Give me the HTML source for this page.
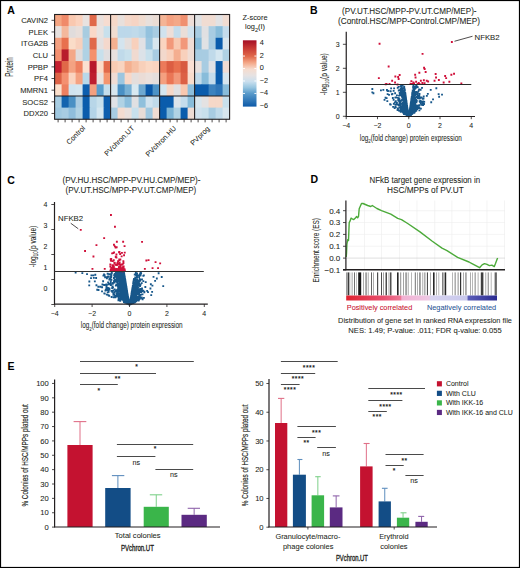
<!DOCTYPE html>
<html><head><meta charset="utf-8"><style>
html,body{margin:0;padding:0;background:#fff;}
svg{display:block;font-family:"Liberation Sans", sans-serif;}
</style></head><body>
<svg width="520" height="568" viewBox="0 0 520 568">
<rect x="0" y="0" width="520" height="568" fill="#fff"/>
<rect x="54.60" y="14.50" width="7.60" height="12.24" fill="#F4A582"/>
<rect x="61.60" y="14.50" width="7.60" height="12.24" fill="#F08A6A"/>
<rect x="68.60" y="14.50" width="7.60" height="12.24" fill="#F9C8B0"/>
<rect x="75.60" y="14.50" width="7.60" height="12.24" fill="#FAD2BE"/>
<rect x="82.60" y="14.50" width="7.60" height="12.24" fill="#E8E2E0"/>
<rect x="89.60" y="14.50" width="7.60" height="12.24" fill="#E0694A"/>
<rect x="96.60" y="14.50" width="7.60" height="12.24" fill="#EAE0DC"/>
<rect x="103.60" y="14.50" width="7.60" height="12.24" fill="#F6DCD0"/>
<rect x="110.60" y="14.50" width="7.60" height="12.24" fill="#F6D8C8"/>
<rect x="117.60" y="14.50" width="7.60" height="12.24" fill="#E8E0DC"/>
<rect x="124.60" y="14.50" width="7.60" height="12.24" fill="#F4D8CA"/>
<rect x="131.60" y="14.50" width="7.60" height="12.24" fill="#F6D4C4"/>
<rect x="138.60" y="14.50" width="7.60" height="12.24" fill="#F0DCD0"/>
<rect x="145.60" y="14.50" width="7.60" height="12.24" fill="#E8E0DC"/>
<rect x="152.60" y="14.50" width="7.60" height="12.24" fill="#EADCD4"/>
<rect x="159.60" y="14.50" width="7.60" height="12.24" fill="#F4B496"/>
<rect x="166.60" y="14.50" width="7.60" height="12.24" fill="#F4A080"/>
<rect x="173.60" y="14.50" width="7.60" height="12.24" fill="#F4A888"/>
<rect x="180.60" y="14.50" width="7.60" height="12.24" fill="#F09070"/>
<rect x="187.60" y="14.50" width="7.60" height="12.24" fill="#EEDED8"/>
<rect x="194.60" y="14.50" width="7.60" height="12.24" fill="#E0E2E4"/>
<rect x="201.60" y="14.50" width="7.60" height="12.24" fill="#F0DCD2"/>
<rect x="208.60" y="14.50" width="7.60" height="12.24" fill="#F0DCD2"/>
<rect x="215.60" y="14.50" width="7.60" height="12.24" fill="#E2E2E4"/>
<rect x="222.60" y="14.50" width="7.00" height="12.24" fill="#F0DCD2"/>
<rect x="54.60" y="26.14" width="7.60" height="12.24" fill="#E6E0DE"/>
<rect x="61.60" y="26.14" width="7.60" height="12.24" fill="#F4B89C"/>
<rect x="68.60" y="26.14" width="7.60" height="12.24" fill="#E0DCDC"/>
<rect x="75.60" y="26.14" width="7.60" height="12.24" fill="#E8DEDA"/>
<rect x="82.60" y="26.14" width="7.60" height="12.24" fill="#A8CCE0"/>
<rect x="89.60" y="26.14" width="7.60" height="12.24" fill="#FAD8C8"/>
<rect x="96.60" y="26.14" width="7.60" height="12.24" fill="#E8E2E0"/>
<rect x="103.60" y="26.14" width="7.60" height="12.24" fill="#C8E0EC"/>
<rect x="110.60" y="26.14" width="7.60" height="12.24" fill="#F0DCD0"/>
<rect x="117.60" y="26.14" width="7.60" height="12.24" fill="#BCD8EA"/>
<rect x="124.60" y="26.14" width="7.60" height="12.24" fill="#BCD8EA"/>
<rect x="131.60" y="26.14" width="7.60" height="12.24" fill="#C0DAEA"/>
<rect x="138.60" y="26.14" width="7.60" height="12.24" fill="#B8D6E8"/>
<rect x="145.60" y="26.14" width="7.60" height="12.24" fill="#94C2DE"/>
<rect x="152.60" y="26.14" width="7.60" height="12.24" fill="#A8CCE2"/>
<rect x="159.60" y="26.14" width="7.60" height="12.24" fill="#D0E2EE"/>
<rect x="166.60" y="26.14" width="7.60" height="12.24" fill="#EEDED8"/>
<rect x="173.60" y="26.14" width="7.60" height="12.24" fill="#C4DCEC"/>
<rect x="180.60" y="26.14" width="7.60" height="12.24" fill="#EADED8"/>
<rect x="187.60" y="26.14" width="7.60" height="12.24" fill="#D0E2EE"/>
<rect x="194.60" y="26.14" width="7.60" height="12.24" fill="#A8CCE2"/>
<rect x="201.60" y="26.14" width="7.60" height="12.24" fill="#E0E0E2"/>
<rect x="208.60" y="26.14" width="7.60" height="12.24" fill="#A8CCE2"/>
<rect x="215.60" y="26.14" width="7.60" height="12.24" fill="#88BCDA"/>
<rect x="222.60" y="26.14" width="7.00" height="12.24" fill="#C4DCEC"/>
<rect x="54.60" y="37.78" width="7.60" height="12.24" fill="#F4A080"/>
<rect x="61.60" y="37.78" width="7.60" height="12.24" fill="#E8704E"/>
<rect x="68.60" y="37.78" width="7.60" height="12.24" fill="#FADCC8"/>
<rect x="75.60" y="37.78" width="7.60" height="12.24" fill="#F8D0BC"/>
<rect x="82.60" y="37.78" width="7.60" height="12.24" fill="#B0D2E4"/>
<rect x="89.60" y="37.78" width="7.60" height="12.24" fill="#E0684A"/>
<rect x="96.60" y="37.78" width="7.60" height="12.24" fill="#E4E0E0"/>
<rect x="103.60" y="37.78" width="7.60" height="12.24" fill="#F4D8CC"/>
<rect x="110.60" y="37.78" width="7.60" height="12.24" fill="#F4B090"/>
<rect x="117.60" y="37.78" width="7.60" height="12.24" fill="#D4E4EE"/>
<rect x="124.60" y="37.78" width="7.60" height="12.24" fill="#E4DEDC"/>
<rect x="131.60" y="37.78" width="7.60" height="12.24" fill="#F8D0BC"/>
<rect x="138.60" y="37.78" width="7.60" height="12.24" fill="#E0E0E4"/>
<rect x="145.60" y="37.78" width="7.60" height="12.24" fill="#9CC6E0"/>
<rect x="152.60" y="37.78" width="7.60" height="12.24" fill="#D8E6EE"/>
<rect x="159.60" y="37.78" width="7.60" height="12.24" fill="#FAD4C0"/>
<rect x="166.60" y="37.78" width="7.60" height="12.24" fill="#F2987A"/>
<rect x="173.60" y="37.78" width="7.60" height="12.24" fill="#F8C8B0"/>
<rect x="180.60" y="37.78" width="7.60" height="12.24" fill="#F2987A"/>
<rect x="187.60" y="37.78" width="7.60" height="12.24" fill="#F0DCD4"/>
<rect x="194.60" y="37.78" width="7.60" height="12.24" fill="#88BCDA"/>
<rect x="201.60" y="37.78" width="7.60" height="12.24" fill="#E0E2E4"/>
<rect x="208.60" y="37.78" width="7.60" height="12.24" fill="#A8CCE2"/>
<rect x="215.60" y="37.78" width="7.60" height="12.24" fill="#0A5CAC"/>
<rect x="222.60" y="37.78" width="7.00" height="12.24" fill="#D8E6EE"/>
<rect x="54.60" y="49.42" width="7.60" height="12.24" fill="#F49070"/>
<rect x="61.60" y="49.42" width="7.60" height="12.24" fill="#B81C2C"/>
<rect x="68.60" y="49.42" width="7.60" height="12.24" fill="#F4A888"/>
<rect x="75.60" y="49.42" width="7.60" height="12.24" fill="#E0DCDC"/>
<rect x="82.60" y="49.42" width="7.60" height="12.24" fill="#B0D2E4"/>
<rect x="89.60" y="49.42" width="7.60" height="12.24" fill="#F4906C"/>
<rect x="96.60" y="49.42" width="7.60" height="12.24" fill="#C8E0EC"/>
<rect x="103.60" y="49.42" width="7.60" height="12.24" fill="#E0DEE0"/>
<rect x="110.60" y="49.42" width="7.60" height="12.24" fill="#E8E0DE"/>
<rect x="117.60" y="49.42" width="7.60" height="12.24" fill="#C0DAEA"/>
<rect x="124.60" y="49.42" width="7.60" height="12.24" fill="#C8E0EC"/>
<rect x="131.60" y="49.42" width="7.60" height="12.24" fill="#F0DAD0"/>
<rect x="138.60" y="49.42" width="7.60" height="12.24" fill="#DCE2E8"/>
<rect x="145.60" y="49.42" width="7.60" height="12.24" fill="#C8E0EC"/>
<rect x="152.60" y="49.42" width="7.60" height="12.24" fill="#A8CCE2"/>
<rect x="159.60" y="49.42" width="7.60" height="12.24" fill="#F2D8CC"/>
<rect x="166.60" y="49.42" width="7.60" height="12.24" fill="#F8D0BC"/>
<rect x="173.60" y="49.42" width="7.60" height="12.24" fill="#F4AE90"/>
<rect x="180.60" y="49.42" width="7.60" height="12.24" fill="#F8D0BC"/>
<rect x="187.60" y="49.42" width="7.60" height="12.24" fill="#F0DCD4"/>
<rect x="194.60" y="49.42" width="7.60" height="12.24" fill="#A8CCE2"/>
<rect x="201.60" y="49.42" width="7.60" height="12.24" fill="#A8CCE2"/>
<rect x="208.60" y="49.42" width="7.60" height="12.24" fill="#C0DAEA"/>
<rect x="215.60" y="49.42" width="7.60" height="12.24" fill="#D4E6F0"/>
<rect x="222.60" y="49.42" width="7.00" height="12.24" fill="#B0D2E4"/>
<rect x="54.60" y="61.06" width="7.60" height="12.24" fill="#C42030"/>
<rect x="61.60" y="61.06" width="7.60" height="12.24" fill="#E06848"/>
<rect x="68.60" y="61.06" width="7.60" height="12.24" fill="#F4A282"/>
<rect x="75.60" y="61.06" width="7.60" height="12.24" fill="#EE8060"/>
<rect x="82.60" y="61.06" width="7.60" height="12.24" fill="#FBE0D0"/>
<rect x="89.60" y="61.06" width="7.60" height="12.24" fill="#B8182A"/>
<rect x="96.60" y="61.06" width="7.60" height="12.24" fill="#FCDCC8"/>
<rect x="103.60" y="61.06" width="7.60" height="12.24" fill="#E26A4A"/>
<rect x="110.60" y="61.06" width="7.60" height="12.24" fill="#F8CCB4"/>
<rect x="117.60" y="61.06" width="7.60" height="12.24" fill="#F8D4C0"/>
<rect x="124.60" y="61.06" width="7.60" height="12.24" fill="#F4B090"/>
<rect x="131.60" y="61.06" width="7.60" height="12.24" fill="#F6C0A4"/>
<rect x="138.60" y="61.06" width="7.60" height="12.24" fill="#F8D0BA"/>
<rect x="145.60" y="61.06" width="7.60" height="12.24" fill="#FAD8C4"/>
<rect x="152.60" y="61.06" width="7.60" height="12.24" fill="#FAD4C0"/>
<rect x="159.60" y="61.06" width="7.60" height="12.24" fill="#EC7A5A"/>
<rect x="166.60" y="61.06" width="7.60" height="12.24" fill="#DC5E42"/>
<rect x="173.60" y="61.06" width="7.60" height="12.24" fill="#E8704E"/>
<rect x="180.60" y="61.06" width="7.60" height="12.24" fill="#D85A40"/>
<rect x="187.60" y="61.06" width="7.60" height="12.24" fill="#FAE0D4"/>
<rect x="194.60" y="61.06" width="7.60" height="12.24" fill="#E8E0DE"/>
<rect x="201.60" y="61.06" width="7.60" height="12.24" fill="#A8CCE2"/>
<rect x="208.60" y="61.06" width="7.60" height="12.24" fill="#E0E2E6"/>
<rect x="215.60" y="61.06" width="7.60" height="12.24" fill="#0A5CAC"/>
<rect x="222.60" y="61.06" width="7.00" height="12.24" fill="#F0DCD4"/>
<rect x="54.60" y="72.70" width="7.60" height="12.24" fill="#DE6448"/>
<rect x="61.60" y="72.70" width="7.60" height="12.24" fill="#F49070"/>
<rect x="68.60" y="72.70" width="7.60" height="12.24" fill="#FAD4C0"/>
<rect x="75.60" y="72.70" width="7.60" height="12.24" fill="#F4A282"/>
<rect x="82.60" y="72.70" width="7.60" height="12.24" fill="#B8D8EA"/>
<rect x="89.60" y="72.70" width="7.60" height="12.24" fill="#BE1E2E"/>
<rect x="96.60" y="72.70" width="7.60" height="12.24" fill="#EAE2DE"/>
<rect x="103.60" y="72.70" width="7.60" height="12.24" fill="#F4956E"/>
<rect x="110.60" y="72.70" width="7.60" height="12.24" fill="#F0DCD4"/>
<rect x="117.60" y="72.70" width="7.60" height="12.24" fill="#9CC6E0"/>
<rect x="124.60" y="72.70" width="7.60" height="12.24" fill="#F8D8C8"/>
<rect x="131.60" y="72.70" width="7.60" height="12.24" fill="#E4DEDC"/>
<rect x="138.60" y="72.70" width="7.60" height="12.24" fill="#EADCD6"/>
<rect x="145.60" y="72.70" width="7.60" height="12.24" fill="#EAE0DC"/>
<rect x="152.60" y="72.70" width="7.60" height="12.24" fill="#E4DEDC"/>
<rect x="159.60" y="72.70" width="7.60" height="12.24" fill="#F4A080"/>
<rect x="166.60" y="72.70" width="7.60" height="12.24" fill="#EA7656"/>
<rect x="173.60" y="72.70" width="7.60" height="12.24" fill="#F2987A"/>
<rect x="180.60" y="72.70" width="7.60" height="12.24" fill="#DC6044"/>
<rect x="187.60" y="72.70" width="7.60" height="12.24" fill="#F8DCCC"/>
<rect x="194.60" y="72.70" width="7.60" height="12.24" fill="#C0DAEA"/>
<rect x="201.60" y="72.70" width="7.60" height="12.24" fill="#88BCDA"/>
<rect x="208.60" y="72.70" width="7.60" height="12.24" fill="#C4DCEC"/>
<rect x="215.60" y="72.70" width="7.60" height="12.24" fill="#0A5CAC"/>
<rect x="222.60" y="72.70" width="7.00" height="12.24" fill="#D8E6EE"/>
<rect x="54.60" y="84.34" width="7.60" height="12.24" fill="#FCE0CC"/>
<rect x="61.60" y="84.34" width="7.60" height="12.24" fill="#EE8060"/>
<rect x="68.60" y="84.34" width="7.60" height="12.24" fill="#D0E4F0"/>
<rect x="75.60" y="84.34" width="7.60" height="12.24" fill="#D4E6F0"/>
<rect x="82.60" y="84.34" width="7.60" height="12.24" fill="#0D5EAE"/>
<rect x="89.60" y="84.34" width="7.60" height="12.24" fill="#F4A080"/>
<rect x="96.60" y="84.34" width="7.60" height="12.24" fill="#5A9ECC"/>
<rect x="103.60" y="84.34" width="7.60" height="12.24" fill="#C4DEEC"/>
<rect x="110.60" y="84.34" width="7.60" height="12.24" fill="#D8E6EE"/>
<rect x="117.60" y="84.34" width="7.60" height="12.24" fill="#4A90C4"/>
<rect x="124.60" y="84.34" width="7.60" height="12.24" fill="#78B0D4"/>
<rect x="131.60" y="84.34" width="7.60" height="12.24" fill="#D8E8F0"/>
<rect x="138.60" y="84.34" width="7.60" height="12.24" fill="#6EA8D0"/>
<rect x="145.60" y="84.34" width="7.60" height="12.24" fill="#0A58A8"/>
<rect x="152.60" y="84.34" width="7.60" height="12.24" fill="#4C92C6"/>
<rect x="159.60" y="84.34" width="7.60" height="12.24" fill="#D4E6F0"/>
<rect x="166.60" y="84.34" width="7.60" height="12.24" fill="#F6D8C8"/>
<rect x="173.60" y="84.34" width="7.60" height="12.24" fill="#E0E0E2"/>
<rect x="180.60" y="84.34" width="7.60" height="12.24" fill="#F8C8B0"/>
<rect x="187.60" y="84.34" width="7.60" height="12.24" fill="#8CBEDC"/>
<rect x="194.60" y="84.34" width="7.60" height="12.24" fill="#0A5CAC"/>
<rect x="201.60" y="84.34" width="7.60" height="12.24" fill="#0A5CAC"/>
<rect x="208.60" y="84.34" width="7.60" height="12.24" fill="#3C82BE"/>
<rect x="215.60" y="84.34" width="7.60" height="12.24" fill="#2E76B8"/>
<rect x="222.60" y="84.34" width="7.00" height="12.24" fill="#88BCDA"/>
<rect x="54.60" y="95.98" width="7.60" height="12.24" fill="#A8CDE2"/>
<rect x="61.60" y="95.98" width="7.60" height="12.24" fill="#1464AE"/>
<rect x="68.60" y="95.98" width="7.60" height="12.24" fill="#4A90C4"/>
<rect x="75.60" y="95.98" width="7.60" height="12.24" fill="#AACCE2"/>
<rect x="82.60" y="95.98" width="7.60" height="12.24" fill="#0A5CAC"/>
<rect x="89.60" y="95.98" width="7.60" height="12.24" fill="#B8D6E8"/>
<rect x="96.60" y="95.98" width="7.60" height="12.24" fill="#C8E0EC"/>
<rect x="103.60" y="95.98" width="7.60" height="12.24" fill="#0D5EAE"/>
<rect x="110.60" y="95.98" width="7.60" height="12.24" fill="#E0E2E6"/>
<rect x="117.60" y="95.98" width="7.60" height="12.24" fill="#B0D2E4"/>
<rect x="124.60" y="95.98" width="7.60" height="12.24" fill="#8CBEDC"/>
<rect x="131.60" y="95.98" width="7.60" height="12.24" fill="#E0E0E2"/>
<rect x="138.60" y="95.98" width="7.60" height="12.24" fill="#90C0DC"/>
<rect x="145.60" y="95.98" width="7.60" height="12.24" fill="#D0E2EE"/>
<rect x="152.60" y="95.98" width="7.60" height="12.24" fill="#C0DAEA"/>
<rect x="159.60" y="95.98" width="7.60" height="12.24" fill="#0A5CAC"/>
<rect x="166.60" y="95.98" width="7.60" height="12.24" fill="#0A5CAC"/>
<rect x="173.60" y="95.98" width="7.60" height="12.24" fill="#DCE4EA"/>
<rect x="180.60" y="95.98" width="7.60" height="12.24" fill="#C4DCEC"/>
<rect x="187.60" y="95.98" width="7.60" height="12.24" fill="#88BCDA"/>
<rect x="194.60" y="95.98" width="7.60" height="12.24" fill="#D8E6EE"/>
<rect x="201.60" y="95.98" width="7.60" height="12.24" fill="#E4E2E2"/>
<rect x="208.60" y="95.98" width="7.60" height="12.24" fill="#F6D8C8"/>
<rect x="215.60" y="95.98" width="7.60" height="12.24" fill="#F6D8C8"/>
<rect x="222.60" y="95.98" width="7.00" height="12.24" fill="#C8E0EC"/>
<rect x="54.60" y="107.62" width="7.60" height="11.64" fill="#A0C8E0"/>
<rect x="61.60" y="107.62" width="7.60" height="11.64" fill="#A8CCE2"/>
<rect x="68.60" y="107.62" width="7.60" height="11.64" fill="#90BEDC"/>
<rect x="75.60" y="107.62" width="7.60" height="11.64" fill="#B0D2E4"/>
<rect x="82.60" y="107.62" width="7.60" height="11.64" fill="#0A5CAC"/>
<rect x="89.60" y="107.62" width="7.60" height="11.64" fill="#B4D4E8"/>
<rect x="96.60" y="107.62" width="7.60" height="11.64" fill="#D4E6F0"/>
<rect x="103.60" y="107.62" width="7.60" height="11.64" fill="#0D5EAE"/>
<rect x="110.60" y="107.62" width="7.60" height="11.64" fill="#A8CCE2"/>
<rect x="117.60" y="107.62" width="7.60" height="11.64" fill="#F4DCD0"/>
<rect x="124.60" y="107.62" width="7.60" height="11.64" fill="#EAE0DC"/>
<rect x="131.60" y="107.62" width="7.60" height="11.64" fill="#C8E0EC"/>
<rect x="138.60" y="107.62" width="7.60" height="11.64" fill="#E8DCD6"/>
<rect x="145.60" y="107.62" width="7.60" height="11.64" fill="#A0C8E0"/>
<rect x="152.60" y="107.62" width="7.60" height="11.64" fill="#F0DCD2"/>
<rect x="159.60" y="107.62" width="7.60" height="11.64" fill="#0A5CAC"/>
<rect x="166.60" y="107.62" width="7.60" height="11.64" fill="#7CB4D6"/>
<rect x="173.60" y="107.62" width="7.60" height="11.64" fill="#B0D2E4"/>
<rect x="180.60" y="107.62" width="7.60" height="11.64" fill="#0A5CAC"/>
<rect x="187.60" y="107.62" width="7.60" height="11.64" fill="#EEDCD4"/>
<rect x="194.60" y="107.62" width="7.60" height="11.64" fill="#D0E2EE"/>
<rect x="201.60" y="107.62" width="7.60" height="11.64" fill="#C8E0EC"/>
<rect x="208.60" y="107.62" width="7.60" height="11.64" fill="#A8CCE2"/>
<rect x="215.60" y="107.62" width="7.60" height="11.64" fill="#C0DAEA"/>
<rect x="222.60" y="107.62" width="7.00" height="11.64" fill="#D8E6EE"/>
<line x1="110.60" y1="14.50" x2="110.60" y2="119.26" stroke="#231f20" stroke-width="1.1"/>
<line x1="159.60" y1="14.50" x2="159.60" y2="119.26" stroke="#231f20" stroke-width="1.1"/>
<line x1="194.60" y1="14.50" x2="194.60" y2="119.26" stroke="#231f20" stroke-width="1.1"/>
<line x1="54.60" y1="95.98" x2="229.60" y2="95.98" stroke="#231f20" stroke-width="1.1"/>
<rect x="54.60" y="14.50" width="175.00" height="104.76" fill="none" stroke="#231f20" stroke-width="1.1"/>
<line x1="51.50" y1="20.32" x2="54.60" y2="20.32" stroke="#231f20" stroke-width="0.8"/>
<text x="48.00" y="23.02" font-size="7.6" fill="#231f20" stroke="#231f20" stroke-width="0.06" text-anchor="end">CAVIN2</text>
<line x1="51.50" y1="31.96" x2="54.60" y2="31.96" stroke="#231f20" stroke-width="0.8"/>
<text x="48.00" y="34.66" font-size="7.6" fill="#231f20" stroke="#231f20" stroke-width="0.06" text-anchor="end">PLEK</text>
<line x1="51.50" y1="43.60" x2="54.60" y2="43.60" stroke="#231f20" stroke-width="0.8"/>
<text x="48.00" y="46.30" font-size="7.6" fill="#231f20" stroke="#231f20" stroke-width="0.06" text-anchor="end">ITGA2B</text>
<line x1="51.50" y1="55.24" x2="54.60" y2="55.24" stroke="#231f20" stroke-width="0.8"/>
<text x="48.00" y="57.94" font-size="7.6" fill="#231f20" stroke="#231f20" stroke-width="0.06" text-anchor="end">CLU</text>
<line x1="51.50" y1="66.88" x2="54.60" y2="66.88" stroke="#231f20" stroke-width="0.8"/>
<text x="48.00" y="69.58" font-size="7.6" fill="#231f20" stroke="#231f20" stroke-width="0.06" text-anchor="end">PPBP</text>
<line x1="51.50" y1="78.52" x2="54.60" y2="78.52" stroke="#231f20" stroke-width="0.8"/>
<text x="48.00" y="81.22" font-size="7.6" fill="#231f20" stroke="#231f20" stroke-width="0.06" text-anchor="end">PF4</text>
<line x1="51.50" y1="90.16" x2="54.60" y2="90.16" stroke="#231f20" stroke-width="0.8"/>
<text x="48.00" y="92.86" font-size="7.6" fill="#231f20" stroke="#231f20" stroke-width="0.06" text-anchor="end">MMRN1</text>
<line x1="51.50" y1="101.80" x2="54.60" y2="101.80" stroke="#231f20" stroke-width="0.8"/>
<text x="48.00" y="104.50" font-size="7.6" fill="#231f20" stroke="#231f20" stroke-width="0.06" text-anchor="end">SOCS2</text>
<line x1="51.50" y1="113.44" x2="54.60" y2="113.44" stroke="#231f20" stroke-width="0.8"/>
<text x="48.00" y="116.14" font-size="7.6" fill="#231f20" stroke="#231f20" stroke-width="0.06" text-anchor="end">DDX20</text>
<line x1="58.10" y1="119.26" x2="58.10" y2="122.36" stroke="#231f20" stroke-width="0.8"/>
<line x1="65.10" y1="119.26" x2="65.10" y2="122.36" stroke="#231f20" stroke-width="0.8"/>
<line x1="72.10" y1="119.26" x2="72.10" y2="122.36" stroke="#231f20" stroke-width="0.8"/>
<line x1="79.10" y1="119.26" x2="79.10" y2="122.36" stroke="#231f20" stroke-width="0.8"/>
<line x1="86.10" y1="119.26" x2="86.10" y2="122.36" stroke="#231f20" stroke-width="0.8"/>
<line x1="93.10" y1="119.26" x2="93.10" y2="122.36" stroke="#231f20" stroke-width="0.8"/>
<line x1="100.10" y1="119.26" x2="100.10" y2="122.36" stroke="#231f20" stroke-width="0.8"/>
<line x1="107.10" y1="119.26" x2="107.10" y2="122.36" stroke="#231f20" stroke-width="0.8"/>
<line x1="114.10" y1="119.26" x2="114.10" y2="122.36" stroke="#231f20" stroke-width="0.8"/>
<line x1="121.10" y1="119.26" x2="121.10" y2="122.36" stroke="#231f20" stroke-width="0.8"/>
<line x1="128.10" y1="119.26" x2="128.10" y2="122.36" stroke="#231f20" stroke-width="0.8"/>
<line x1="135.10" y1="119.26" x2="135.10" y2="122.36" stroke="#231f20" stroke-width="0.8"/>
<line x1="142.10" y1="119.26" x2="142.10" y2="122.36" stroke="#231f20" stroke-width="0.8"/>
<line x1="149.10" y1="119.26" x2="149.10" y2="122.36" stroke="#231f20" stroke-width="0.8"/>
<line x1="156.10" y1="119.26" x2="156.10" y2="122.36" stroke="#231f20" stroke-width="0.8"/>
<line x1="163.10" y1="119.26" x2="163.10" y2="122.36" stroke="#231f20" stroke-width="0.8"/>
<line x1="170.10" y1="119.26" x2="170.10" y2="122.36" stroke="#231f20" stroke-width="0.8"/>
<line x1="177.10" y1="119.26" x2="177.10" y2="122.36" stroke="#231f20" stroke-width="0.8"/>
<line x1="184.10" y1="119.26" x2="184.10" y2="122.36" stroke="#231f20" stroke-width="0.8"/>
<line x1="191.10" y1="119.26" x2="191.10" y2="122.36" stroke="#231f20" stroke-width="0.8"/>
<line x1="198.10" y1="119.26" x2="198.10" y2="122.36" stroke="#231f20" stroke-width="0.8"/>
<line x1="205.10" y1="119.26" x2="205.10" y2="122.36" stroke="#231f20" stroke-width="0.8"/>
<line x1="212.10" y1="119.26" x2="212.10" y2="122.36" stroke="#231f20" stroke-width="0.8"/>
<line x1="219.10" y1="119.26" x2="219.10" y2="122.36" stroke="#231f20" stroke-width="0.8"/>
<line x1="226.10" y1="119.26" x2="226.10" y2="122.36" stroke="#231f20" stroke-width="0.8"/>
<text x="13.40" y="67.00" font-size="10.0" fill="#231f20" stroke="#231f20" stroke-width="0.06" text-anchor="middle" textLength="19.5" lengthAdjust="spacingAndGlyphs" transform="rotate(-90 13.40 67.00)">Protein</text>
<text x="85.60" y="128.50" font-size="7.2" fill="#231f20" stroke="#231f20" stroke-width="0.06" text-anchor="end" transform="rotate(-45 85.60 128.50)">Control</text>
<text x="134.90" y="128.70" font-size="7.2" fill="#231f20" stroke="#231f20" stroke-width="0.06" text-anchor="end" transform="rotate(-45 134.90 128.70)">PVchron.UT</text>
<text x="176.80" y="128.90" font-size="7.2" fill="#231f20" stroke="#231f20" stroke-width="0.06" text-anchor="end" transform="rotate(-45 176.80 128.90)">PVchron.HU</text>
<text x="210.20" y="129.10" font-size="7.2" fill="#231f20" stroke="#231f20" stroke-width="0.06" text-anchor="end" transform="rotate(-45 210.20 129.10)">PVprog</text>
<text x="11.00" y="14.00" font-size="10.5" fill="#000" stroke="#000" stroke-width="0.06" text-anchor="middle" font-weight="bold">A</text>
<text x="255.00" y="20.30" font-size="7.4" fill="#231f20" stroke="#231f20" stroke-width="0.06" text-anchor="middle">Z-score</text>
<text x="255" y="29.4" font-size="7.4" fill="#231f20" stroke="#231f20" stroke-width="0.06" text-anchor="middle">log<tspan font-size="5.6" dy="2.4">2</tspan><tspan dy="-2.4">(I)</tspan></text>
<defs><linearGradient id="cb" x1="0" y1="0" x2="0" y2="1">
<stop offset="0" stop-color="#A50F25"/><stop offset="0.12" stop-color="#C83A34"/><stop offset="0.24" stop-color="#E0684A"/>
<stop offset="0.34" stop-color="#F4A888"/><stop offset="0.436" stop-color="#F6DCCE"/>
<stop offset="0.53" stop-color="#E6E2E2"/><stop offset="0.623" stop-color="#CADFEE"/>
<stop offset="0.71" stop-color="#98C6E0"/><stop offset="0.8" stop-color="#5A9BCB"/>
<stop offset="1" stop-color="#0D5AA8"/></linearGradient></defs>
<rect x="242.90" y="40.30" width="13.60" height="66.30" fill="url(#cb)"/>
<text x="259.70" y="45.20" font-size="7.3" fill="#231f20" stroke="#231f20" stroke-width="0.06">4</text>
<text x="259.70" y="57.66" font-size="7.3" fill="#231f20" stroke="#231f20" stroke-width="0.06">2</text>
<line x1="242.90" y1="56.06" x2="245.00" y2="56.06" stroke="#fff" stroke-width="0.9"/>
<line x1="254.40" y1="56.06" x2="256.50" y2="56.06" stroke="#fff" stroke-width="0.9"/>
<text x="259.70" y="70.12" font-size="7.3" fill="#231f20" stroke="#231f20" stroke-width="0.06">0</text>
<line x1="242.90" y1="68.52" x2="245.00" y2="68.52" stroke="#fff" stroke-width="0.9"/>
<line x1="254.40" y1="68.52" x2="256.50" y2="68.52" stroke="#fff" stroke-width="0.9"/>
<text x="259.70" y="82.58" font-size="7.3" fill="#231f20" stroke="#231f20" stroke-width="0.06">−2</text>
<line x1="242.90" y1="80.98" x2="245.00" y2="80.98" stroke="#fff" stroke-width="0.9"/>
<line x1="254.40" y1="80.98" x2="256.50" y2="80.98" stroke="#fff" stroke-width="0.9"/>
<text x="259.70" y="95.04" font-size="7.3" fill="#231f20" stroke="#231f20" stroke-width="0.06">−4</text>
<line x1="242.90" y1="93.44" x2="245.00" y2="93.44" stroke="#fff" stroke-width="0.9"/>
<line x1="254.40" y1="93.44" x2="256.50" y2="93.44" stroke="#fff" stroke-width="0.9"/>
<text x="259.70" y="107.50" font-size="7.3" fill="#231f20" stroke="#231f20" stroke-width="0.06">−6</text>
<text x="313.80" y="14.30" font-size="10.5" fill="#000" stroke="#000" stroke-width="0.06" text-anchor="middle" font-weight="bold">B</text>
<text x="409.30" y="14.30" font-size="8.4" fill="#231f20" stroke="#231f20" stroke-width="0.06" text-anchor="middle" textLength="134.5" lengthAdjust="spacingAndGlyphs">(PV.UT.HSC/MPP-PV.UT.CMP/MEP)-</text>
<text x="409.00" y="24.30" font-size="8.4" fill="#231f20" stroke="#231f20" stroke-width="0.06" text-anchor="middle" textLength="142" lengthAdjust="spacingAndGlyphs">(Control.HSC/MPP-Control.CMP/MEP)</text>
<path d="M408.8 113.2h1.85v1.85h-1.85zM404.3 98.9h1.85v1.85h-1.85zM407.4 113.0h1.85v1.85h-1.85zM406.4 111.5h1.85v1.85h-1.85zM407.0 110.7h1.85v1.85h-1.85zM407.7 114.7h1.85v1.85h-1.85zM408.5 113.6h1.85v1.85h-1.85zM408.1 113.9h1.85v1.85h-1.85zM405.8 107.0h1.85v1.85h-1.85zM409.3 106.6h1.85v1.85h-1.85zM409.1 108.3h1.85v1.85h-1.85zM407.5 114.2h1.85v1.85h-1.85zM406.9 111.6h1.85v1.85h-1.85zM404.4 100.7h1.85v1.85h-1.85zM409.8 103.1h1.85v1.85h-1.85zM404.4 100.3h1.85v1.85h-1.85zM405.3 99.4h1.85v1.85h-1.85zM407.9 114.8h1.85v1.85h-1.85zM408.9 112.4h1.85v1.85h-1.85zM409.2 107.8h1.85v1.85h-1.85zM403.7 91.9h1.85v1.85h-1.85zM403.4 87.4h1.85v1.85h-1.85zM410.8 101.8h1.85v1.85h-1.85zM407.8 115.3h1.85v1.85h-1.85zM407.5 114.1h1.85v1.85h-1.85zM412.8 96.6h1.85v1.85h-1.85zM407.1 111.7h1.85v1.85h-1.85zM407.4 114.1h1.85v1.85h-1.85zM405.7 106.0h1.85v1.85h-1.85zM406.4 110.0h1.85v1.85h-1.85zM408.2 113.3h1.85v1.85h-1.85zM407.9 114.9h1.85v1.85h-1.85zM405.1 104.4h1.85v1.85h-1.85zM407.4 113.3h1.85v1.85h-1.85zM408.9 112.4h1.85v1.85h-1.85zM407.3 113.0h1.85v1.85h-1.85zM412.3 97.5h1.85v1.85h-1.85zM405.1 98.1h1.85v1.85h-1.85zM406.8 109.5h1.85v1.85h-1.85zM408.0 114.8h1.85v1.85h-1.85zM407.4 114.2h1.85v1.85h-1.85zM405.7 106.1h1.85v1.85h-1.85zM402.2 94.2h1.85v1.85h-1.85zM409.0 110.9h1.85v1.85h-1.85zM410.0 108.3h1.85v1.85h-1.85zM407.7 115.0h1.85v1.85h-1.85zM406.4 107.2h1.85v1.85h-1.85zM409.8 110.0h1.85v1.85h-1.85zM407.5 113.5h1.85v1.85h-1.85zM411.4 108.7h1.85v1.85h-1.85zM407.9 115.1h1.85v1.85h-1.85zM408.9 109.2h1.85v1.85h-1.85zM403.2 91.5h1.85v1.85h-1.85zM403.6 95.6h1.85v1.85h-1.85zM407.3 113.7h1.85v1.85h-1.85zM408.9 112.0h1.85v1.85h-1.85zM408.9 110.1h1.85v1.85h-1.85zM409.6 105.0h1.85v1.85h-1.85zM410.4 99.5h1.85v1.85h-1.85zM408.2 114.4h1.85v1.85h-1.85zM411.0 106.2h1.85v1.85h-1.85zM404.4 93.1h1.85v1.85h-1.85zM407.2 113.1h1.85v1.85h-1.85zM414.7 93.1h1.85v1.85h-1.85zM405.8 111.2h1.85v1.85h-1.85zM410.2 101.5h1.85v1.85h-1.85zM402.3 87.6h1.85v1.85h-1.85zM408.1 114.3h1.85v1.85h-1.85zM410.9 108.6h1.85v1.85h-1.85zM405.5 108.4h1.85v1.85h-1.85zM406.1 108.5h1.85v1.85h-1.85zM404.8 99.3h1.85v1.85h-1.85zM409.2 107.7h1.85v1.85h-1.85zM411.2 98.1h1.85v1.85h-1.85zM410.9 97.6h1.85v1.85h-1.85zM408.9 111.2h1.85v1.85h-1.85zM412.5 85.0h1.85v1.85h-1.85zM402.2 98.7h1.85v1.85h-1.85zM409.6 110.2h1.85v1.85h-1.85zM413.4 101.0h1.85v1.85h-1.85zM403.5 90.2h1.85v1.85h-1.85zM407.5 114.3h1.85v1.85h-1.85zM406.6 108.4h1.85v1.85h-1.85zM412.7 98.9h1.85v1.85h-1.85zM406.0 106.8h1.85v1.85h-1.85zM411.6 106.6h1.85v1.85h-1.85zM403.6 100.6h1.85v1.85h-1.85zM399.6 85.5h1.85v1.85h-1.85zM406.9 112.6h1.85v1.85h-1.85zM409.5 105.3h1.85v1.85h-1.85zM406.4 111.1h1.85v1.85h-1.85zM405.9 103.5h1.85v1.85h-1.85zM408.7 110.8h1.85v1.85h-1.85zM407.3 112.8h1.85v1.85h-1.85zM409.0 110.7h1.85v1.85h-1.85zM406.2 109.3h1.85v1.85h-1.85zM409.3 110.2h1.85v1.85h-1.85zM410.4 104.2h1.85v1.85h-1.85zM407.7 114.7h1.85v1.85h-1.85zM409.0 111.2h1.85v1.85h-1.85zM411.1 110.0h1.85v1.85h-1.85zM409.0 108.6h1.85v1.85h-1.85zM406.3 107.5h1.85v1.85h-1.85zM408.1 114.7h1.85v1.85h-1.85zM400.0 87.7h1.85v1.85h-1.85zM407.5 114.7h1.85v1.85h-1.85zM408.2 114.4h1.85v1.85h-1.85zM412.1 89.8h1.85v1.85h-1.85zM404.9 102.7h1.85v1.85h-1.85zM409.7 105.9h1.85v1.85h-1.85zM413.3 97.6h1.85v1.85h-1.85zM414.0 91.6h1.85v1.85h-1.85zM404.1 104.8h1.85v1.85h-1.85zM407.5 113.7h1.85v1.85h-1.85zM408.0 114.7h1.85v1.85h-1.85zM406.8 110.9h1.85v1.85h-1.85zM405.7 104.6h1.85v1.85h-1.85zM402.3 87.4h1.85v1.85h-1.85zM411.9 103.8h1.85v1.85h-1.85zM408.0 114.6h1.85v1.85h-1.85zM411.0 106.4h1.85v1.85h-1.85zM406.9 112.0h1.85v1.85h-1.85zM406.5 108.1h1.85v1.85h-1.85zM408.5 112.1h1.85v1.85h-1.85zM410.0 105.4h1.85v1.85h-1.85zM409.8 110.2h1.85v1.85h-1.85zM403.3 93.6h1.85v1.85h-1.85zM410.5 98.1h1.85v1.85h-1.85zM408.8 111.7h1.85v1.85h-1.85zM407.6 114.5h1.85v1.85h-1.85zM407.9 115.1h1.85v1.85h-1.85zM409.4 110.9h1.85v1.85h-1.85zM408.2 114.2h1.85v1.85h-1.85zM407.4 113.2h1.85v1.85h-1.85zM408.2 113.3h1.85v1.85h-1.85zM405.9 105.8h1.85v1.85h-1.85zM407.9 115.3h1.85v1.85h-1.85zM407.2 112.8h1.85v1.85h-1.85zM407.2 112.4h1.85v1.85h-1.85zM405.6 107.4h1.85v1.85h-1.85zM404.5 93.7h1.85v1.85h-1.85zM407.5 114.2h1.85v1.85h-1.85zM403.2 106.0h1.85v1.85h-1.85zM404.3 92.1h1.85v1.85h-1.85zM407.3 113.1h1.85v1.85h-1.85zM408.9 112.4h1.85v1.85h-1.85zM406.6 108.3h1.85v1.85h-1.85zM406.1 107.5h1.85v1.85h-1.85zM408.1 114.8h1.85v1.85h-1.85zM408.5 113.6h1.85v1.85h-1.85zM407.6 114.5h1.85v1.85h-1.85zM409.2 111.2h1.85v1.85h-1.85zM408.5 112.5h1.85v1.85h-1.85zM406.1 105.1h1.85v1.85h-1.85zM405.4 108.5h1.85v1.85h-1.85zM405.4 102.4h1.85v1.85h-1.85zM413.0 90.1h1.85v1.85h-1.85zM408.2 113.5h1.85v1.85h-1.85zM406.7 112.0h1.85v1.85h-1.85zM409.7 109.8h1.85v1.85h-1.85zM409.6 109.9h1.85v1.85h-1.85zM402.9 106.2h1.85v1.85h-1.85zM404.8 105.0h1.85v1.85h-1.85zM409.6 106.8h1.85v1.85h-1.85zM403.5 99.0h1.85v1.85h-1.85zM405.0 104.6h1.85v1.85h-1.85zM403.7 101.1h1.85v1.85h-1.85zM408.1 113.8h1.85v1.85h-1.85zM412.5 99.8h1.85v1.85h-1.85zM415.2 99.1h1.85v1.85h-1.85zM409.9 109.6h1.85v1.85h-1.85zM406.5 109.0h1.85v1.85h-1.85zM398.1 94.7h1.85v1.85h-1.85zM403.2 100.0h1.85v1.85h-1.85zM408.8 113.8h1.85v1.85h-1.85zM402.6 99.3h1.85v1.85h-1.85zM409.2 109.9h1.85v1.85h-1.85zM406.6 108.3h1.85v1.85h-1.85zM405.9 108.2h1.85v1.85h-1.85zM406.7 112.1h1.85v1.85h-1.85zM408.6 112.3h1.85v1.85h-1.85zM407.8 115.3h1.85v1.85h-1.85zM406.1 110.9h1.85v1.85h-1.85zM406.7 109.8h1.85v1.85h-1.85zM405.5 110.1h1.85v1.85h-1.85zM408.9 110.8h1.85v1.85h-1.85zM405.1 105.9h1.85v1.85h-1.85zM406.9 111.7h1.85v1.85h-1.85zM402.2 94.0h1.85v1.85h-1.85zM402.7 97.2h1.85v1.85h-1.85zM405.0 97.2h1.85v1.85h-1.85zM407.4 113.6h1.85v1.85h-1.85zM404.9 100.2h1.85v1.85h-1.85zM404.9 99.9h1.85v1.85h-1.85zM409.3 109.7h1.85v1.85h-1.85zM409.3 112.0h1.85v1.85h-1.85zM407.7 114.6h1.85v1.85h-1.85zM409.1 111.8h1.85v1.85h-1.85zM409.8 104.9h1.85v1.85h-1.85zM406.7 109.1h1.85v1.85h-1.85zM405.3 101.4h1.85v1.85h-1.85zM405.8 102.8h1.85v1.85h-1.85zM405.1 105.9h1.85v1.85h-1.85zM410.1 110.6h1.85v1.85h-1.85zM405.8 109.1h1.85v1.85h-1.85zM407.8 115.4h1.85v1.85h-1.85zM408.3 113.0h1.85v1.85h-1.85zM406.2 110.6h1.85v1.85h-1.85zM408.1 114.4h1.85v1.85h-1.85zM406.1 106.0h1.85v1.85h-1.85zM412.2 97.7h1.85v1.85h-1.85zM410.3 102.1h1.85v1.85h-1.85zM416.0 85.8h1.85v1.85h-1.85zM413.5 91.0h1.85v1.85h-1.85zM409.2 109.9h1.85v1.85h-1.85zM409.0 109.7h1.85v1.85h-1.85zM407.1 113.0h1.85v1.85h-1.85zM406.7 111.5h1.85v1.85h-1.85zM408.9 111.7h1.85v1.85h-1.85zM408.4 114.1h1.85v1.85h-1.85zM404.3 96.6h1.85v1.85h-1.85zM407.5 113.8h1.85v1.85h-1.85zM409.3 106.7h1.85v1.85h-1.85zM407.8 115.3h1.85v1.85h-1.85zM408.9 109.9h1.85v1.85h-1.85zM406.7 110.9h1.85v1.85h-1.85zM408.9 113.4h1.85v1.85h-1.85zM408.2 113.6h1.85v1.85h-1.85zM406.6 108.8h1.85v1.85h-1.85zM408.3 113.4h1.85v1.85h-1.85zM403.8 89.5h1.85v1.85h-1.85zM406.0 105.6h1.85v1.85h-1.85zM406.6 112.1h1.85v1.85h-1.85zM397.6 85.9h1.85v1.85h-1.85zM406.8 110.7h1.85v1.85h-1.85zM401.7 87.2h1.85v1.85h-1.85zM400.9 92.9h1.85v1.85h-1.85zM410.6 105.3h1.85v1.85h-1.85zM405.5 105.2h1.85v1.85h-1.85zM412.4 97.7h1.85v1.85h-1.85zM411.0 101.3h1.85v1.85h-1.85zM407.3 113.3h1.85v1.85h-1.85zM409.9 108.5h1.85v1.85h-1.85zM407.7 115.1h1.85v1.85h-1.85zM407.5 114.4h1.85v1.85h-1.85zM407.5 113.5h1.85v1.85h-1.85zM405.4 108.0h1.85v1.85h-1.85zM409.0 109.6h1.85v1.85h-1.85zM412.9 96.8h1.85v1.85h-1.85zM407.0 113.2h1.85v1.85h-1.85zM403.7 102.9h1.85v1.85h-1.85zM409.5 111.4h1.85v1.85h-1.85zM406.6 108.4h1.85v1.85h-1.85zM408.4 113.3h1.85v1.85h-1.85zM408.1 114.2h1.85v1.85h-1.85zM405.9 110.0h1.85v1.85h-1.85zM410.2 106.9h1.85v1.85h-1.85zM408.7 112.4h1.85v1.85h-1.85zM408.3 114.0h1.85v1.85h-1.85zM408.5 112.7h1.85v1.85h-1.85zM410.0 110.0h1.85v1.85h-1.85zM406.7 109.0h1.85v1.85h-1.85zM407.0 113.0h1.85v1.85h-1.85zM406.1 106.5h1.85v1.85h-1.85zM410.2 101.0h1.85v1.85h-1.85zM401.7 102.1h1.85v1.85h-1.85zM408.4 113.0h1.85v1.85h-1.85zM407.1 113.4h1.85v1.85h-1.85zM404.8 97.3h1.85v1.85h-1.85zM411.3 94.7h1.85v1.85h-1.85zM411.2 106.2h1.85v1.85h-1.85zM405.4 106.6h1.85v1.85h-1.85zM408.9 111.7h1.85v1.85h-1.85zM410.5 105.9h1.85v1.85h-1.85zM410.5 106.6h1.85v1.85h-1.85zM404.7 105.5h1.85v1.85h-1.85zM404.6 103.7h1.85v1.85h-1.85zM408.1 114.7h1.85v1.85h-1.85zM412.1 98.0h1.85v1.85h-1.85zM412.3 95.9h1.85v1.85h-1.85zM405.0 107.7h1.85v1.85h-1.85zM404.5 93.8h1.85v1.85h-1.85zM409.1 111.7h1.85v1.85h-1.85zM408.0 114.9h1.85v1.85h-1.85zM408.6 112.8h1.85v1.85h-1.85zM408.2 113.5h1.85v1.85h-1.85zM412.0 100.4h1.85v1.85h-1.85zM407.5 113.9h1.85v1.85h-1.85zM412.5 85.1h1.85v1.85h-1.85zM411.5 91.4h1.85v1.85h-1.85zM405.8 111.0h1.85v1.85h-1.85zM409.8 107.0h1.85v1.85h-1.85zM406.9 112.0h1.85v1.85h-1.85zM405.9 103.9h1.85v1.85h-1.85zM409.0 111.0h1.85v1.85h-1.85zM408.6 113.3h1.85v1.85h-1.85zM408.3 113.6h1.85v1.85h-1.85zM402.1 90.0h1.85v1.85h-1.85zM408.7 112.9h1.85v1.85h-1.85zM408.8 113.6h1.85v1.85h-1.85zM404.4 99.6h1.85v1.85h-1.85zM413.3 89.2h1.85v1.85h-1.85zM410.3 101.2h1.85v1.85h-1.85zM404.0 103.0h1.85v1.85h-1.85zM403.5 94.3h1.85v1.85h-1.85zM412.0 98.8h1.85v1.85h-1.85zM408.7 112.8h1.85v1.85h-1.85zM411.1 99.5h1.85v1.85h-1.85zM406.9 111.8h1.85v1.85h-1.85zM403.9 98.1h1.85v1.85h-1.85zM409.2 110.2h1.85v1.85h-1.85zM410.5 103.5h1.85v1.85h-1.85zM407.8 115.3h1.85v1.85h-1.85zM404.4 99.0h1.85v1.85h-1.85zM399.9 90.3h1.85v1.85h-1.85zM408.7 112.0h1.85v1.85h-1.85zM408.5 112.8h1.85v1.85h-1.85zM406.4 111.6h1.85v1.85h-1.85zM408.0 114.6h1.85v1.85h-1.85zM403.0 90.3h1.85v1.85h-1.85zM405.0 99.6h1.85v1.85h-1.85zM412.4 99.2h1.85v1.85h-1.85zM410.4 106.5h1.85v1.85h-1.85zM402.9 95.2h1.85v1.85h-1.85zM409.0 111.2h1.85v1.85h-1.85zM414.6 101.0h1.85v1.85h-1.85zM403.4 96.8h1.85v1.85h-1.85zM408.8 110.2h1.85v1.85h-1.85zM411.2 93.4h1.85v1.85h-1.85zM409.2 107.7h1.85v1.85h-1.85zM410.1 103.4h1.85v1.85h-1.85zM407.5 113.7h1.85v1.85h-1.85zM408.1 114.6h1.85v1.85h-1.85zM407.8 115.3h1.85v1.85h-1.85zM406.9 110.9h1.85v1.85h-1.85zM408.6 112.9h1.85v1.85h-1.85zM410.5 104.1h1.85v1.85h-1.85zM406.2 105.6h1.85v1.85h-1.85zM406.6 112.9h1.85v1.85h-1.85zM404.7 94.8h1.85v1.85h-1.85zM409.0 109.6h1.85v1.85h-1.85zM408.3 112.8h1.85v1.85h-1.85zM406.0 110.3h1.85v1.85h-1.85zM400.9 91.2h1.85v1.85h-1.85zM408.4 113.1h1.85v1.85h-1.85zM405.0 97.2h1.85v1.85h-1.85zM409.8 109.1h1.85v1.85h-1.85zM410.7 109.0h1.85v1.85h-1.85zM405.7 102.7h1.85v1.85h-1.85zM408.2 114.2h1.85v1.85h-1.85zM406.6 112.0h1.85v1.85h-1.85zM408.8 111.5h1.85v1.85h-1.85zM408.1 114.0h1.85v1.85h-1.85zM407.3 113.3h1.85v1.85h-1.85zM404.9 98.3h1.85v1.85h-1.85zM409.9 108.2h1.85v1.85h-1.85zM408.1 113.9h1.85v1.85h-1.85zM402.2 92.5h1.85v1.85h-1.85zM407.9 115.0h1.85v1.85h-1.85zM406.9 110.5h1.85v1.85h-1.85zM411.8 89.4h1.85v1.85h-1.85zM412.0 99.4h1.85v1.85h-1.85zM408.4 114.1h1.85v1.85h-1.85zM404.8 105.5h1.85v1.85h-1.85zM396.0 94.4h1.85v1.85h-1.85zM408.2 114.2h1.85v1.85h-1.85zM412.2 86.9h1.85v1.85h-1.85zM406.9 112.0h1.85v1.85h-1.85zM409.2 107.8h1.85v1.85h-1.85zM405.6 101.7h1.85v1.85h-1.85zM411.4 104.3h1.85v1.85h-1.85zM407.8 115.1h1.85v1.85h-1.85zM403.4 104.9h1.85v1.85h-1.85zM409.2 108.5h1.85v1.85h-1.85zM406.8 109.6h1.85v1.85h-1.85zM407.2 113.8h1.85v1.85h-1.85zM412.0 105.7h1.85v1.85h-1.85zM412.4 85.7h1.85v1.85h-1.85zM410.8 96.5h1.85v1.85h-1.85zM408.9 109.9h1.85v1.85h-1.85zM408.4 113.8h1.85v1.85h-1.85zM407.7 115.0h1.85v1.85h-1.85zM411.4 104.6h1.85v1.85h-1.85zM408.8 110.0h1.85v1.85h-1.85zM408.2 114.0h1.85v1.85h-1.85zM400.6 94.4h1.85v1.85h-1.85zM407.4 113.5h1.85v1.85h-1.85zM411.4 104.3h1.85v1.85h-1.85zM409.8 103.6h1.85v1.85h-1.85zM407.8 115.2h1.85v1.85h-1.85zM408.4 113.9h1.85v1.85h-1.85zM410.8 105.4h1.85v1.85h-1.85zM408.8 111.3h1.85v1.85h-1.85zM407.1 113.9h1.85v1.85h-1.85zM407.2 112.2h1.85v1.85h-1.85zM405.8 109.5h1.85v1.85h-1.85zM409.9 102.3h1.85v1.85h-1.85zM401.1 92.2h1.85v1.85h-1.85zM405.9 109.4h1.85v1.85h-1.85zM408.8 110.5h1.85v1.85h-1.85zM402.7 101.8h1.85v1.85h-1.85zM404.5 99.8h1.85v1.85h-1.85zM409.4 106.3h1.85v1.85h-1.85zM410.4 102.1h1.85v1.85h-1.85zM409.8 109.5h1.85v1.85h-1.85zM408.9 111.2h1.85v1.85h-1.85zM400.2 88.7h1.85v1.85h-1.85zM408.4 114.1h1.85v1.85h-1.85zM409.0 112.0h1.85v1.85h-1.85zM413.0 95.0h1.85v1.85h-1.85zM404.3 100.5h1.85v1.85h-1.85zM406.5 112.4h1.85v1.85h-1.85zM407.2 112.4h1.85v1.85h-1.85zM410.6 106.5h1.85v1.85h-1.85zM406.9 110.4h1.85v1.85h-1.85zM399.7 87.9h1.85v1.85h-1.85zM410.0 106.2h1.85v1.85h-1.85zM407.4 114.0h1.85v1.85h-1.85zM409.2 108.2h1.85v1.85h-1.85zM405.9 106.4h1.85v1.85h-1.85zM414.0 96.2h1.85v1.85h-1.85zM403.8 88.8h1.85v1.85h-1.85zM410.7 106.9h1.85v1.85h-1.85zM409.5 110.9h1.85v1.85h-1.85zM406.8 111.6h1.85v1.85h-1.85zM412.2 86.5h1.85v1.85h-1.85zM407.5 113.6h1.85v1.85h-1.85zM408.7 112.7h1.85v1.85h-1.85zM402.3 97.6h1.85v1.85h-1.85zM409.6 104.6h1.85v1.85h-1.85zM414.8 86.1h1.85v1.85h-1.85zM407.0 112.6h1.85v1.85h-1.85zM406.1 105.2h1.85v1.85h-1.85zM409.5 109.0h1.85v1.85h-1.85zM407.9 114.9h1.85v1.85h-1.85zM410.6 97.5h1.85v1.85h-1.85zM402.9 103.6h1.85v1.85h-1.85zM405.9 104.4h1.85v1.85h-1.85zM405.5 100.7h1.85v1.85h-1.85zM409.3 106.9h1.85v1.85h-1.85zM410.7 109.5h1.85v1.85h-1.85zM409.9 109.3h1.85v1.85h-1.85zM404.8 96.3h1.85v1.85h-1.85zM406.9 112.2h1.85v1.85h-1.85zM408.7 112.2h1.85v1.85h-1.85zM413.2 95.6h1.85v1.85h-1.85zM407.9 115.2h1.85v1.85h-1.85zM405.6 108.2h1.85v1.85h-1.85zM408.4 113.8h1.85v1.85h-1.85zM407.4 113.5h1.85v1.85h-1.85zM406.1 105.3h1.85v1.85h-1.85zM405.2 103.1h1.85v1.85h-1.85zM407.5 113.9h1.85v1.85h-1.85zM408.7 111.9h1.85v1.85h-1.85zM404.4 97.8h1.85v1.85h-1.85zM405.3 108.9h1.85v1.85h-1.85zM403.3 85.7h1.85v1.85h-1.85zM407.1 112.5h1.85v1.85h-1.85zM414.0 96.9h1.85v1.85h-1.85zM404.4 93.3h1.85v1.85h-1.85zM414.2 94.2h1.85v1.85h-1.85zM408.4 112.7h1.85v1.85h-1.85zM411.7 100.7h1.85v1.85h-1.85zM407.3 113.6h1.85v1.85h-1.85zM408.2 114.5h1.85v1.85h-1.85zM407.8 115.2h1.85v1.85h-1.85zM404.3 93.9h1.85v1.85h-1.85zM406.9 110.7h1.85v1.85h-1.85zM408.8 111.4h1.85v1.85h-1.85zM406.9 111.0h1.85v1.85h-1.85zM406.5 110.1h1.85v1.85h-1.85zM410.0 110.5h1.85v1.85h-1.85zM400.2 84.8h1.85v1.85h-1.85zM407.7 115.0h1.85v1.85h-1.85zM407.5 114.4h1.85v1.85h-1.85zM407.3 113.3h1.85v1.85h-1.85zM409.7 111.0h1.85v1.85h-1.85zM407.6 114.7h1.85v1.85h-1.85zM408.4 113.2h1.85v1.85h-1.85zM415.6 91.1h1.85v1.85h-1.85zM406.0 106.7h1.85v1.85h-1.85zM407.5 114.1h1.85v1.85h-1.85zM408.9 109.3h1.85v1.85h-1.85zM410.2 100.4h1.85v1.85h-1.85zM411.3 92.3h1.85v1.85h-1.85zM402.8 99.9h1.85v1.85h-1.85zM404.3 95.8h1.85v1.85h-1.85zM407.6 114.5h1.85v1.85h-1.85zM407.4 114.1h1.85v1.85h-1.85zM407.8 115.1h1.85v1.85h-1.85zM412.2 86.5h1.85v1.85h-1.85zM407.6 114.2h1.85v1.85h-1.85zM408.4 113.0h1.85v1.85h-1.85zM411.1 96.8h1.85v1.85h-1.85zM408.1 114.1h1.85v1.85h-1.85zM409.2 110.8h1.85v1.85h-1.85zM407.4 113.9h1.85v1.85h-1.85zM407.4 113.9h1.85v1.85h-1.85zM407.5 114.4h1.85v1.85h-1.85zM404.4 107.3h1.85v1.85h-1.85zM406.8 110.8h1.85v1.85h-1.85zM407.8 115.3h1.85v1.85h-1.85zM407.3 112.9h1.85v1.85h-1.85zM405.8 103.0h1.85v1.85h-1.85zM407.2 113.7h1.85v1.85h-1.85zM407.7 115.0h1.85v1.85h-1.85zM405.5 104.9h1.85v1.85h-1.85zM409.8 107.3h1.85v1.85h-1.85zM408.8 112.2h1.85v1.85h-1.85zM406.9 110.4h1.85v1.85h-1.85zM410.0 108.7h1.85v1.85h-1.85zM406.4 111.7h1.85v1.85h-1.85zM407.6 114.3h1.85v1.85h-1.85zM409.6 110.5h1.85v1.85h-1.85zM403.1 93.9h1.85v1.85h-1.85zM408.5 114.2h1.85v1.85h-1.85zM408.0 114.9h1.85v1.85h-1.85zM410.1 101.0h1.85v1.85h-1.85zM409.6 104.5h1.85v1.85h-1.85zM409.3 108.4h1.85v1.85h-1.85zM405.4 106.3h1.85v1.85h-1.85zM407.3 112.5h1.85v1.85h-1.85zM410.8 98.2h1.85v1.85h-1.85zM403.2 96.0h1.85v1.85h-1.85zM404.3 103.4h1.85v1.85h-1.85zM408.5 111.8h1.85v1.85h-1.85zM409.9 108.1h1.85v1.85h-1.85zM404.9 97.5h1.85v1.85h-1.85zM408.0 115.0h1.85v1.85h-1.85zM405.2 100.9h1.85v1.85h-1.85zM408.4 112.6h1.85v1.85h-1.85zM404.7 103.4h1.85v1.85h-1.85zM408.1 114.3h1.85v1.85h-1.85zM411.9 105.9h1.85v1.85h-1.85zM406.2 106.1h1.85v1.85h-1.85zM409.3 110.1h1.85v1.85h-1.85zM408.9 109.4h1.85v1.85h-1.85zM406.7 111.8h1.85v1.85h-1.85zM407.9 115.0h1.85v1.85h-1.85zM400.9 95.5h1.85v1.85h-1.85zM408.3 114.3h1.85v1.85h-1.85zM407.7 114.6h1.85v1.85h-1.85zM408.6 114.0h1.85v1.85h-1.85zM409.7 105.5h1.85v1.85h-1.85zM410.5 99.3h1.85v1.85h-1.85zM406.7 111.5h1.85v1.85h-1.85zM410.6 104.7h1.85v1.85h-1.85zM407.8 115.3h1.85v1.85h-1.85zM408.5 112.9h1.85v1.85h-1.85zM408.2 113.9h1.85v1.85h-1.85zM401.8 90.7h1.85v1.85h-1.85zM409.3 106.7h1.85v1.85h-1.85zM406.8 110.6h1.85v1.85h-1.85zM408.1 114.0h1.85v1.85h-1.85zM406.4 109.5h1.85v1.85h-1.85zM406.3 108.8h1.85v1.85h-1.85zM406.3 108.4h1.85v1.85h-1.85zM405.2 99.4h1.85v1.85h-1.85zM409.9 111.1h1.85v1.85h-1.85zM408.2 113.6h1.85v1.85h-1.85zM415.3 85.0h1.85v1.85h-1.85zM407.9 115.1h1.85v1.85h-1.85zM405.8 109.9h1.85v1.85h-1.85zM407.7 115.2h1.85v1.85h-1.85zM406.8 112.4h1.85v1.85h-1.85zM411.3 92.8h1.85v1.85h-1.85zM404.7 95.5h1.85v1.85h-1.85zM403.9 101.4h1.85v1.85h-1.85zM407.8 115.2h1.85v1.85h-1.85zM407.2 112.3h1.85v1.85h-1.85zM411.2 98.6h1.85v1.85h-1.85zM412.3 86.1h1.85v1.85h-1.85zM408.7 110.4h1.85v1.85h-1.85zM407.1 112.8h1.85v1.85h-1.85zM406.1 108.1h1.85v1.85h-1.85zM405.8 105.3h1.85v1.85h-1.85zM404.6 97.1h1.85v1.85h-1.85zM406.9 110.5h1.85v1.85h-1.85zM407.5 114.2h1.85v1.85h-1.85zM406.2 108.1h1.85v1.85h-1.85zM408.2 113.6h1.85v1.85h-1.85zM405.2 110.7h1.85v1.85h-1.85zM409.7 106.6h1.85v1.85h-1.85zM408.0 114.9h1.85v1.85h-1.85zM405.1 98.3h1.85v1.85h-1.85zM404.4 98.1h1.85v1.85h-1.85zM410.1 105.7h1.85v1.85h-1.85zM405.4 106.9h1.85v1.85h-1.85zM405.9 103.4h1.85v1.85h-1.85zM406.7 112.4h1.85v1.85h-1.85zM405.6 107.6h1.85v1.85h-1.85zM409.0 111.1h1.85v1.85h-1.85zM405.3 99.6h1.85v1.85h-1.85zM407.8 115.3h1.85v1.85h-1.85zM408.9 109.6h1.85v1.85h-1.85zM412.0 99.9h1.85v1.85h-1.85zM410.3 106.8h1.85v1.85h-1.85zM408.6 112.4h1.85v1.85h-1.85zM403.5 99.6h1.85v1.85h-1.85zM405.0 97.4h1.85v1.85h-1.85zM409.3 106.9h1.85v1.85h-1.85zM409.1 112.4h1.85v1.85h-1.85zM407.4 114.3h1.85v1.85h-1.85zM406.9 112.6h1.85v1.85h-1.85zM407.0 113.4h1.85v1.85h-1.85zM407.1 112.8h1.85v1.85h-1.85zM404.7 95.1h1.85v1.85h-1.85zM407.3 113.2h1.85v1.85h-1.85zM409.0 112.5h1.85v1.85h-1.85zM406.2 107.8h1.85v1.85h-1.85zM408.5 113.4h1.85v1.85h-1.85zM405.4 107.1h1.85v1.85h-1.85zM404.9 96.3h1.85v1.85h-1.85zM401.5 89.6h1.85v1.85h-1.85zM409.6 108.3h1.85v1.85h-1.85zM407.0 111.2h1.85v1.85h-1.85zM405.9 109.9h1.85v1.85h-1.85zM404.5 93.5h1.85v1.85h-1.85zM402.9 95.5h1.85v1.85h-1.85zM409.3 110.3h1.85v1.85h-1.85zM405.5 101.8h1.85v1.85h-1.85zM409.1 108.3h1.85v1.85h-1.85zM402.9 95.3h1.85v1.85h-1.85zM404.3 100.2h1.85v1.85h-1.85zM409.2 112.0h1.85v1.85h-1.85zM412.3 95.5h1.85v1.85h-1.85zM412.5 96.9h1.85v1.85h-1.85zM409.7 107.8h1.85v1.85h-1.85zM410.2 108.4h1.85v1.85h-1.85zM410.8 96.3h1.85v1.85h-1.85zM408.4 112.2h1.85v1.85h-1.85zM410.4 102.8h1.85v1.85h-1.85zM409.3 107.6h1.85v1.85h-1.85zM404.6 107.8h1.85v1.85h-1.85zM408.1 113.9h1.85v1.85h-1.85zM407.0 111.8h1.85v1.85h-1.85zM408.9 112.3h1.85v1.85h-1.85zM407.6 114.6h1.85v1.85h-1.85zM409.2 108.6h1.85v1.85h-1.85zM404.7 102.6h1.85v1.85h-1.85zM407.7 114.8h1.85v1.85h-1.85zM409.6 104.5h1.85v1.85h-1.85zM409.2 107.3h1.85v1.85h-1.85zM407.4 114.1h1.85v1.85h-1.85zM404.4 103.2h1.85v1.85h-1.85zM407.8 115.3h1.85v1.85h-1.85zM410.1 107.5h1.85v1.85h-1.85zM406.5 111.3h1.85v1.85h-1.85zM410.3 108.1h1.85v1.85h-1.85zM412.7 91.5h1.85v1.85h-1.85zM408.2 114.1h1.85v1.85h-1.85zM412.8 96.6h1.85v1.85h-1.85zM407.6 114.3h1.85v1.85h-1.85zM407.3 112.9h1.85v1.85h-1.85zM403.9 102.0h1.85v1.85h-1.85zM409.4 111.3h1.85v1.85h-1.85zM415.4 85.7h1.85v1.85h-1.85zM409.3 110.0h1.85v1.85h-1.85zM407.4 113.3h1.85v1.85h-1.85zM403.9 89.7h1.85v1.85h-1.85zM407.6 114.4h1.85v1.85h-1.85zM409.7 106.2h1.85v1.85h-1.85zM403.4 95.6h1.85v1.85h-1.85zM408.1 114.1h1.85v1.85h-1.85zM411.7 104.7h1.85v1.85h-1.85zM410.4 99.0h1.85v1.85h-1.85zM413.9 99.3h1.85v1.85h-1.85zM406.5 109.9h1.85v1.85h-1.85zM409.8 103.6h1.85v1.85h-1.85zM405.5 105.4h1.85v1.85h-1.85zM405.2 106.4h1.85v1.85h-1.85zM415.2 86.4h1.85v1.85h-1.85zM404.1 100.7h1.85v1.85h-1.85zM404.8 100.0h1.85v1.85h-1.85zM405.0 101.0h1.85v1.85h-1.85zM407.2 113.3h1.85v1.85h-1.85zM404.4 95.2h1.85v1.85h-1.85zM411.9 105.6h1.85v1.85h-1.85zM405.9 104.0h1.85v1.85h-1.85zM405.7 106.6h1.85v1.85h-1.85zM407.7 114.9h1.85v1.85h-1.85zM409.5 105.5h1.85v1.85h-1.85zM414.1 97.3h1.85v1.85h-1.85zM406.5 108.2h1.85v1.85h-1.85zM405.4 100.4h1.85v1.85h-1.85zM411.0 99.2h1.85v1.85h-1.85zM410.8 108.4h1.85v1.85h-1.85zM410.1 106.2h1.85v1.85h-1.85zM404.7 101.9h1.85v1.85h-1.85zM410.3 101.0h1.85v1.85h-1.85zM408.7 112.6h1.85v1.85h-1.85zM408.9 111.9h1.85v1.85h-1.85zM402.4 95.6h1.85v1.85h-1.85zM407.4 114.1h1.85v1.85h-1.85zM408.8 111.8h1.85v1.85h-1.85zM407.5 113.8h1.85v1.85h-1.85zM409.4 109.8h1.85v1.85h-1.85zM411.0 106.2h1.85v1.85h-1.85zM406.7 109.0h1.85v1.85h-1.85zM406.4 111.3h1.85v1.85h-1.85zM408.8 110.7h1.85v1.85h-1.85zM407.8 115.2h1.85v1.85h-1.85zM410.1 103.2h1.85v1.85h-1.85zM402.6 96.4h1.85v1.85h-1.85zM407.6 114.5h1.85v1.85h-1.85zM409.5 109.2h1.85v1.85h-1.85zM403.7 88.6h1.85v1.85h-1.85zM406.5 112.6h1.85v1.85h-1.85zM407.0 111.2h1.85v1.85h-1.85zM400.3 92.8h1.85v1.85h-1.85zM406.3 111.6h1.85v1.85h-1.85zM407.4 113.4h1.85v1.85h-1.85zM407.0 112.3h1.85v1.85h-1.85zM410.1 102.5h1.85v1.85h-1.85zM409.2 112.5h1.85v1.85h-1.85zM411.7 99.5h1.85v1.85h-1.85zM403.3 97.6h1.85v1.85h-1.85zM411.0 102.3h1.85v1.85h-1.85zM408.1 114.4h1.85v1.85h-1.85zM402.4 98.2h1.85v1.85h-1.85zM408.0 115.2h1.85v1.85h-1.85zM404.8 105.5h1.85v1.85h-1.85zM411.2 106.2h1.85v1.85h-1.85zM402.0 93.9h1.85v1.85h-1.85zM411.7 100.5h1.85v1.85h-1.85zM407.7 114.6h1.85v1.85h-1.85zM410.1 103.9h1.85v1.85h-1.85zM408.3 113.3h1.85v1.85h-1.85zM408.1 114.7h1.85v1.85h-1.85zM405.5 101.2h1.85v1.85h-1.85zM408.2 113.3h1.85v1.85h-1.85zM411.1 98.0h1.85v1.85h-1.85zM403.1 96.6h1.85v1.85h-1.85zM405.9 106.2h1.85v1.85h-1.85zM410.1 105.7h1.85v1.85h-1.85zM406.0 110.0h1.85v1.85h-1.85zM403.9 105.3h1.85v1.85h-1.85zM418.1 88.6h1.85v1.85h-1.85zM410.0 108.3h1.85v1.85h-1.85zM405.8 110.2h1.85v1.85h-1.85zM410.5 102.2h1.85v1.85h-1.85zM410.4 100.2h1.85v1.85h-1.85zM407.6 114.8h1.85v1.85h-1.85zM399.8 94.3h1.85v1.85h-1.85zM401.6 91.9h1.85v1.85h-1.85zM409.1 108.2h1.85v1.85h-1.85zM408.8 113.1h1.85v1.85h-1.85zM404.8 109.4h1.85v1.85h-1.85zM404.6 105.1h1.85v1.85h-1.85zM403.3 93.1h1.85v1.85h-1.85zM407.1 111.6h1.85v1.85h-1.85zM406.0 111.5h1.85v1.85h-1.85zM407.7 115.1h1.85v1.85h-1.85zM412.5 92.9h1.85v1.85h-1.85zM406.5 110.0h1.85v1.85h-1.85zM410.7 102.6h1.85v1.85h-1.85zM410.4 106.2h1.85v1.85h-1.85zM408.0 114.6h1.85v1.85h-1.85zM404.5 103.3h1.85v1.85h-1.85zM409.1 109.1h1.85v1.85h-1.85zM407.3 112.9h1.85v1.85h-1.85zM404.7 103.0h1.85v1.85h-1.85zM408.3 114.5h1.85v1.85h-1.85zM408.0 114.9h1.85v1.85h-1.85zM411.5 105.1h1.85v1.85h-1.85zM408.7 111.9h1.85v1.85h-1.85zM407.3 113.1h1.85v1.85h-1.85zM406.8 110.7h1.85v1.85h-1.85zM407.6 114.5h1.85v1.85h-1.85zM410.1 108.9h1.85v1.85h-1.85zM408.9 113.0h1.85v1.85h-1.85zM408.5 112.3h1.85v1.85h-1.85zM414.1 91.2h1.85v1.85h-1.85zM408.5 111.7h1.85v1.85h-1.85zM409.7 109.0h1.85v1.85h-1.85zM411.4 104.2h1.85v1.85h-1.85zM408.5 112.1h1.85v1.85h-1.85zM412.1 103.8h1.85v1.85h-1.85zM408.6 112.4h1.85v1.85h-1.85zM406.1 109.6h1.85v1.85h-1.85zM403.8 106.3h1.85v1.85h-1.85zM409.6 104.9h1.85v1.85h-1.85zM406.6 111.7h1.85v1.85h-1.85zM413.5 87.5h1.85v1.85h-1.85zM409.5 111.8h1.85v1.85h-1.85zM407.4 114.0h1.85v1.85h-1.85zM405.2 106.3h1.85v1.85h-1.85zM408.9 113.3h1.85v1.85h-1.85zM409.3 108.1h1.85v1.85h-1.85zM406.3 106.7h1.85v1.85h-1.85zM408.9 110.3h1.85v1.85h-1.85zM406.6 112.3h1.85v1.85h-1.85zM407.1 111.5h1.85v1.85h-1.85zM410.9 95.7h1.85v1.85h-1.85zM403.8 92.4h1.85v1.85h-1.85zM407.0 111.1h1.85v1.85h-1.85zM410.7 99.0h1.85v1.85h-1.85zM409.5 105.4h1.85v1.85h-1.85zM416.6 97.3h1.85v1.85h-1.85zM410.3 104.0h1.85v1.85h-1.85zM406.3 107.9h1.85v1.85h-1.85zM410.7 99.0h1.85v1.85h-1.85zM403.9 89.6h1.85v1.85h-1.85zM405.6 101.8h1.85v1.85h-1.85zM413.4 91.3h1.85v1.85h-1.85zM409.1 111.0h1.85v1.85h-1.85zM403.6 104.2h1.85v1.85h-1.85zM405.6 106.2h1.85v1.85h-1.85zM411.4 104.1h1.85v1.85h-1.85zM406.3 110.7h1.85v1.85h-1.85zM408.1 114.2h1.85v1.85h-1.85zM406.5 108.5h1.85v1.85h-1.85zM406.5 111.9h1.85v1.85h-1.85zM407.6 114.7h1.85v1.85h-1.85zM408.5 111.7h1.85v1.85h-1.85zM404.3 104.8h1.85v1.85h-1.85zM416.9 95.0h1.85v1.85h-1.85zM408.2 113.5h1.85v1.85h-1.85zM409.9 102.8h1.85v1.85h-1.85zM414.4 91.3h1.85v1.85h-1.85zM411.1 102.6h1.85v1.85h-1.85zM409.0 110.9h1.85v1.85h-1.85zM406.9 110.2h1.85v1.85h-1.85zM407.8 115.0h1.85v1.85h-1.85zM406.7 110.6h1.85v1.85h-1.85zM409.5 110.8h1.85v1.85h-1.85zM404.8 106.4h1.85v1.85h-1.85zM411.2 109.7h1.85v1.85h-1.85zM409.6 104.6h1.85v1.85h-1.85zM402.6 93.0h1.85v1.85h-1.85zM405.4 106.5h1.85v1.85h-1.85zM413.5 102.9h1.85v1.85h-1.85zM407.4 113.4h1.85v1.85h-1.85zM407.0 113.7h1.85v1.85h-1.85zM406.7 109.2h1.85v1.85h-1.85zM408.3 114.3h1.85v1.85h-1.85zM406.9 110.5h1.85v1.85h-1.85zM408.9 109.4h1.85v1.85h-1.85zM408.5 112.3h1.85v1.85h-1.85zM405.8 107.7h1.85v1.85h-1.85zM410.9 101.2h1.85v1.85h-1.85zM406.3 106.8h1.85v1.85h-1.85zM407.4 114.4h1.85v1.85h-1.85zM405.5 104.6h1.85v1.85h-1.85zM410.7 98.8h1.85v1.85h-1.85zM408.0 114.6h1.85v1.85h-1.85zM407.4 113.5h1.85v1.85h-1.85zM407.0 111.2h1.85v1.85h-1.85zM414.4 87.5h1.85v1.85h-1.85zM408.0 115.0h1.85v1.85h-1.85zM407.0 112.2h1.85v1.85h-1.85zM408.8 113.2h1.85v1.85h-1.85zM410.5 103.6h1.85v1.85h-1.85zM410.7 102.8h1.85v1.85h-1.85zM408.2 114.2h1.85v1.85h-1.85zM407.4 114.1h1.85v1.85h-1.85zM411.0 106.6h1.85v1.85h-1.85zM409.1 109.0h1.85v1.85h-1.85zM409.9 106.8h1.85v1.85h-1.85zM413.3 89.7h1.85v1.85h-1.85zM407.9 115.2h1.85v1.85h-1.85zM406.5 109.9h1.85v1.85h-1.85zM412.4 100.5h1.85v1.85h-1.85zM407.9 115.2h1.85v1.85h-1.85zM412.4 94.4h1.85v1.85h-1.85zM409.8 107.5h1.85v1.85h-1.85zM406.1 109.2h1.85v1.85h-1.85zM413.7 97.4h1.85v1.85h-1.85zM415.5 86.6h1.85v1.85h-1.85zM405.2 109.6h1.85v1.85h-1.85zM410.1 111.0h1.85v1.85h-1.85zM406.2 111.4h1.85v1.85h-1.85zM407.0 111.9h1.85v1.85h-1.85zM413.4 86.0h1.85v1.85h-1.85zM407.7 115.0h1.85v1.85h-1.85zM405.4 103.1h1.85v1.85h-1.85zM407.7 115.2h1.85v1.85h-1.85zM408.4 113.0h1.85v1.85h-1.85zM400.6 87.6h1.85v1.85h-1.85zM409.1 109.5h1.85v1.85h-1.85zM406.5 108.0h1.85v1.85h-1.85zM411.2 106.3h1.85v1.85h-1.85zM408.8 110.3h1.85v1.85h-1.85zM410.0 110.3h1.85v1.85h-1.85zM408.5 112.1h1.85v1.85h-1.85zM405.9 109.0h1.85v1.85h-1.85zM408.1 114.4h1.85v1.85h-1.85zM408.2 114.3h1.85v1.85h-1.85zM407.8 115.3h1.85v1.85h-1.85zM407.9 115.2h1.85v1.85h-1.85zM410.2 104.6h1.85v1.85h-1.85zM405.8 110.8h1.85v1.85h-1.85zM406.2 111.1h1.85v1.85h-1.85zM403.7 107.9h1.85v1.85h-1.85zM408.1 114.7h1.85v1.85h-1.85zM411.7 101.8h1.85v1.85h-1.85zM406.1 109.2h1.85v1.85h-1.85zM409.6 111.3h1.85v1.85h-1.85zM403.9 95.9h1.85v1.85h-1.85zM408.7 111.9h1.85v1.85h-1.85zM406.8 110.4h1.85v1.85h-1.85zM408.2 114.5h1.85v1.85h-1.85zM404.6 111.6h1.85v1.85h-1.85zM406.6 110.1h1.85v1.85h-1.85zM409.3 106.8h1.85v1.85h-1.85zM406.0 105.8h1.85v1.85h-1.85zM405.8 109.7h1.85v1.85h-1.85zM409.0 110.2h1.85v1.85h-1.85zM406.8 111.0h1.85v1.85h-1.85zM409.2 111.2h1.85v1.85h-1.85zM406.5 109.9h1.85v1.85h-1.85zM410.1 101.8h1.85v1.85h-1.85zM409.8 108.7h1.85v1.85h-1.85zM409.1 108.0h1.85v1.85h-1.85zM408.6 112.6h1.85v1.85h-1.85zM411.4 107.8h1.85v1.85h-1.85zM409.1 108.4h1.85v1.85h-1.85zM406.6 112.8h1.85v1.85h-1.85zM408.2 113.3h1.85v1.85h-1.85zM408.4 113.5h1.85v1.85h-1.85zM408.8 110.0h1.85v1.85h-1.85zM408.7 111.6h1.85v1.85h-1.85zM409.8 104.6h1.85v1.85h-1.85zM404.6 97.2h1.85v1.85h-1.85zM406.7 109.6h1.85v1.85h-1.85zM408.0 115.0h1.85v1.85h-1.85zM409.6 110.5h1.85v1.85h-1.85zM407.7 115.0h1.85v1.85h-1.85zM409.3 107.0h1.85v1.85h-1.85zM404.6 100.0h1.85v1.85h-1.85zM409.2 107.2h1.85v1.85h-1.85zM405.5 110.8h1.85v1.85h-1.85zM408.7 113.6h1.85v1.85h-1.85zM405.7 108.6h1.85v1.85h-1.85zM408.5 111.6h1.85v1.85h-1.85zM411.9 90.6h1.85v1.85h-1.85zM400.9 92.2h1.85v1.85h-1.85zM408.7 110.4h1.85v1.85h-1.85zM410.0 108.4h1.85v1.85h-1.85zM407.8 115.4h1.85v1.85h-1.85zM405.6 109.0h1.85v1.85h-1.85zM410.9 101.3h1.85v1.85h-1.85zM409.1 107.8h1.85v1.85h-1.85zM411.2 99.1h1.85v1.85h-1.85zM406.8 110.0h1.85v1.85h-1.85zM409.0 112.0h1.85v1.85h-1.85zM407.6 114.2h1.85v1.85h-1.85zM408.0 115.1h1.85v1.85h-1.85zM401.4 91.0h1.85v1.85h-1.85zM405.6 101.5h1.85v1.85h-1.85zM408.3 113.0h1.85v1.85h-1.85zM408.0 114.7h1.85v1.85h-1.85zM410.7 103.2h1.85v1.85h-1.85zM411.6 95.3h1.85v1.85h-1.85zM405.7 105.4h1.85v1.85h-1.85zM410.1 101.0h1.85v1.85h-1.85zM406.5 108.1h1.85v1.85h-1.85zM405.5 101.0h1.85v1.85h-1.85zM409.0 109.7h1.85v1.85h-1.85zM410.3 103.6h1.85v1.85h-1.85zM407.8 115.4h1.85v1.85h-1.85zM403.9 89.5h1.85v1.85h-1.85zM408.0 115.1h1.85v1.85h-1.85zM406.9 112.0h1.85v1.85h-1.85zM407.8 115.1h1.85v1.85h-1.85zM401.2 103.9h1.85v1.85h-1.85zM410.6 97.7h1.85v1.85h-1.85zM414.0 91.5h1.85v1.85h-1.85zM401.6 88.9h1.85v1.85h-1.85zM405.5 101.0h1.85v1.85h-1.85zM402.9 91.1h1.85v1.85h-1.85zM405.1 107.4h1.85v1.85h-1.85zM406.9 112.8h1.85v1.85h-1.85zM411.3 102.0h1.85v1.85h-1.85zM407.3 113.4h1.85v1.85h-1.85zM401.5 93.7h1.85v1.85h-1.85zM408.6 112.6h1.85v1.85h-1.85zM407.9 115.1h1.85v1.85h-1.85zM414.1 97.1h1.85v1.85h-1.85zM408.1 114.0h1.85v1.85h-1.85zM407.1 112.9h1.85v1.85h-1.85zM404.2 98.2h1.85v1.85h-1.85zM411.5 92.0h1.85v1.85h-1.85zM403.4 103.4h1.85v1.85h-1.85zM409.6 104.8h1.85v1.85h-1.85zM405.1 101.1h1.85v1.85h-1.85zM406.7 109.4h1.85v1.85h-1.85zM412.2 97.7h1.85v1.85h-1.85zM410.1 107.7h1.85v1.85h-1.85zM409.9 110.9h1.85v1.85h-1.85zM408.7 113.6h1.85v1.85h-1.85zM408.2 114.2h1.85v1.85h-1.85zM409.0 112.4h1.85v1.85h-1.85zM407.1 112.4h1.85v1.85h-1.85zM410.6 97.5h1.85v1.85h-1.85zM406.3 111.5h1.85v1.85h-1.85zM408.2 113.4h1.85v1.85h-1.85zM409.0 111.9h1.85v1.85h-1.85zM406.1 111.4h1.85v1.85h-1.85zM412.6 92.7h1.85v1.85h-1.85zM404.1 105.7h1.85v1.85h-1.85zM410.4 104.3h1.85v1.85h-1.85zM409.9 106.3h1.85v1.85h-1.85zM402.6 96.3h1.85v1.85h-1.85zM407.1 114.1h1.85v1.85h-1.85zM408.8 109.8h1.85v1.85h-1.85zM411.5 100.5h1.85v1.85h-1.85zM406.0 105.6h1.85v1.85h-1.85zM412.2 97.4h1.85v1.85h-1.85zM411.1 103.7h1.85v1.85h-1.85zM405.4 99.9h1.85v1.85h-1.85zM409.2 107.3h1.85v1.85h-1.85zM403.1 99.7h1.85v1.85h-1.85zM409.6 109.4h1.85v1.85h-1.85zM411.4 94.5h1.85v1.85h-1.85zM409.8 107.3h1.85v1.85h-1.85zM400.0 88.9h1.85v1.85h-1.85zM405.2 107.3h1.85v1.85h-1.85zM408.0 114.4h1.85v1.85h-1.85zM406.5 108.9h1.85v1.85h-1.85zM407.6 115.0h1.85v1.85h-1.85zM409.9 105.1h1.85v1.85h-1.85zM409.7 106.4h1.85v1.85h-1.85zM407.8 115.3h1.85v1.85h-1.85zM408.6 112.9h1.85v1.85h-1.85zM411.1 101.9h1.85v1.85h-1.85zM404.8 104.0h1.85v1.85h-1.85zM409.0 109.5h1.85v1.85h-1.85zM407.2 113.3h1.85v1.85h-1.85zM412.3 100.1h1.85v1.85h-1.85zM410.4 104.5h1.85v1.85h-1.85zM410.0 105.4h1.85v1.85h-1.85zM407.2 112.7h1.85v1.85h-1.85zM410.1 106.6h1.85v1.85h-1.85zM406.8 110.0h1.85v1.85h-1.85zM408.9 110.6h1.85v1.85h-1.85zM408.6 112.1h1.85v1.85h-1.85zM407.7 114.8h1.85v1.85h-1.85zM406.3 109.8h1.85v1.85h-1.85zM409.1 108.1h1.85v1.85h-1.85zM408.1 114.1h1.85v1.85h-1.85zM406.6 109.9h1.85v1.85h-1.85zM405.3 103.0h1.85v1.85h-1.85zM415.5 84.5h1.85v1.85h-1.85zM409.3 106.8h1.85v1.85h-1.85zM408.5 112.3h1.85v1.85h-1.85zM404.3 100.9h1.85v1.85h-1.85zM408.8 110.8h1.85v1.85h-1.85zM406.5 108.2h1.85v1.85h-1.85zM408.8 111.7h1.85v1.85h-1.85zM413.7 92.3h1.85v1.85h-1.85zM407.2 113.4h1.85v1.85h-1.85zM412.5 84.5h1.85v1.85h-1.85zM405.3 104.4h1.85v1.85h-1.85zM408.2 114.1h1.85v1.85h-1.85zM402.7 102.0h1.85v1.85h-1.85zM401.7 84.6h1.85v1.85h-1.85zM405.6 104.0h1.85v1.85h-1.85zM407.8 115.3h1.85v1.85h-1.85zM406.9 110.8h1.85v1.85h-1.85zM404.8 106.8h1.85v1.85h-1.85zM409.6 110.7h1.85v1.85h-1.85zM410.9 100.4h1.85v1.85h-1.85zM407.4 113.9h1.85v1.85h-1.85zM408.1 114.6h1.85v1.85h-1.85zM407.1 114.2h1.85v1.85h-1.85zM403.6 92.3h1.85v1.85h-1.85zM404.7 104.4h1.85v1.85h-1.85zM410.4 104.4h1.85v1.85h-1.85zM409.8 103.8h1.85v1.85h-1.85zM409.0 110.9h1.85v1.85h-1.85zM408.9 111.8h1.85v1.85h-1.85zM406.1 111.0h1.85v1.85h-1.85zM411.7 101.0h1.85v1.85h-1.85zM408.1 114.7h1.85v1.85h-1.85zM408.2 114.0h1.85v1.85h-1.85zM411.4 104.3h1.85v1.85h-1.85zM406.8 110.1h1.85v1.85h-1.85zM406.7 109.9h1.85v1.85h-1.85zM410.2 103.1h1.85v1.85h-1.85zM408.8 110.1h1.85v1.85h-1.85zM410.2 105.7h1.85v1.85h-1.85zM412.1 99.7h1.85v1.85h-1.85zM404.3 99.6h1.85v1.85h-1.85zM408.8 110.9h1.85v1.85h-1.85zM410.6 100.2h1.85v1.85h-1.85zM408.4 114.0h1.85v1.85h-1.85zM408.5 114.0h1.85v1.85h-1.85zM410.7 101.4h1.85v1.85h-1.85zM408.7 111.7h1.85v1.85h-1.85zM410.2 108.6h1.85v1.85h-1.85zM407.8 115.3h1.85v1.85h-1.85zM406.1 108.0h1.85v1.85h-1.85zM402.8 101.4h1.85v1.85h-1.85zM409.9 108.4h1.85v1.85h-1.85zM408.5 112.2h1.85v1.85h-1.85zM413.9 86.8h1.85v1.85h-1.85zM406.5 110.8h1.85v1.85h-1.85zM409.6 107.0h1.85v1.85h-1.85zM414.6 99.5h1.85v1.85h-1.85zM408.2 113.5h1.85v1.85h-1.85zM407.6 114.3h1.85v1.85h-1.85zM404.5 97.0h1.85v1.85h-1.85zM408.7 110.7h1.85v1.85h-1.85zM410.7 98.7h1.85v1.85h-1.85zM405.8 107.2h1.85v1.85h-1.85zM408.5 113.3h1.85v1.85h-1.85zM414.2 85.8h1.85v1.85h-1.85zM407.8 115.3h1.85v1.85h-1.85zM406.6 110.2h1.85v1.85h-1.85zM406.3 106.8h1.85v1.85h-1.85zM409.7 105.1h1.85v1.85h-1.85zM400.3 91.9h1.85v1.85h-1.85zM405.2 100.6h1.85v1.85h-1.85zM405.0 100.6h1.85v1.85h-1.85zM409.5 109.3h1.85v1.85h-1.85zM408.2 114.3h1.85v1.85h-1.85zM409.0 110.6h1.85v1.85h-1.85zM414.4 91.6h1.85v1.85h-1.85zM406.9 113.4h1.85v1.85h-1.85zM416.0 93.2h1.85v1.85h-1.85zM411.0 102.0h1.85v1.85h-1.85zM404.9 96.7h1.85v1.85h-1.85zM407.2 112.4h1.85v1.85h-1.85zM408.7 110.4h1.85v1.85h-1.85zM407.4 114.1h1.85v1.85h-1.85zM403.4 102.1h1.85v1.85h-1.85zM405.7 107.7h1.85v1.85h-1.85zM405.1 107.1h1.85v1.85h-1.85zM412.7 108.3h1.85v1.85h-1.85zM409.2 107.8h1.85v1.85h-1.85zM401.3 95.9h1.85v1.85h-1.85zM410.5 103.6h1.85v1.85h-1.85zM410.9 97.6h1.85v1.85h-1.85zM408.6 112.0h1.85v1.85h-1.85zM405.6 104.5h1.85v1.85h-1.85zM415.8 96.1h1.85v1.85h-1.85zM403.8 99.2h1.85v1.85h-1.85zM413.8 98.5h1.85v1.85h-1.85zM407.8 115.3h1.85v1.85h-1.85zM398.6 89.3h1.85v1.85h-1.85zM411.3 104.5h1.85v1.85h-1.85zM408.2 113.7h1.85v1.85h-1.85zM406.5 111.2h1.85v1.85h-1.85zM411.1 101.3h1.85v1.85h-1.85zM406.8 111.2h1.85v1.85h-1.85zM412.0 96.3h1.85v1.85h-1.85zM407.3 113.6h1.85v1.85h-1.85zM407.5 114.4h1.85v1.85h-1.85zM406.3 107.3h1.85v1.85h-1.85zM412.2 100.4h1.85v1.85h-1.85zM409.0 109.0h1.85v1.85h-1.85zM406.9 110.4h1.85v1.85h-1.85zM405.5 100.5h1.85v1.85h-1.85zM408.6 111.1h1.85v1.85h-1.85zM411.9 105.7h1.85v1.85h-1.85zM416.8 91.9h1.85v1.85h-1.85zM410.0 104.1h1.85v1.85h-1.85zM407.3 113.3h1.85v1.85h-1.85zM408.4 112.4h1.85v1.85h-1.85zM407.8 115.2h1.85v1.85h-1.85zM405.0 102.2h1.85v1.85h-1.85zM407.2 112.0h1.85v1.85h-1.85zM409.4 108.6h1.85v1.85h-1.85zM408.2 113.5h1.85v1.85h-1.85zM408.4 113.0h1.85v1.85h-1.85zM408.2 114.5h1.85v1.85h-1.85zM409.1 111.5h1.85v1.85h-1.85zM405.5 106.2h1.85v1.85h-1.85zM413.0 87.8h1.85v1.85h-1.85zM406.5 112.9h1.85v1.85h-1.85zM408.6 112.3h1.85v1.85h-1.85zM412.2 86.4h1.85v1.85h-1.85zM404.5 93.9h1.85v1.85h-1.85zM410.5 102.9h1.85v1.85h-1.85zM405.8 106.1h1.85v1.85h-1.85zM407.3 114.3h1.85v1.85h-1.85zM401.5 96.8h1.85v1.85h-1.85zM403.4 91.6h1.85v1.85h-1.85zM410.5 102.5h1.85v1.85h-1.85zM405.7 108.4h1.85v1.85h-1.85zM407.9 115.0h1.85v1.85h-1.85zM408.5 111.8h1.85v1.85h-1.85zM406.1 111.3h1.85v1.85h-1.85zM410.1 106.3h1.85v1.85h-1.85zM406.8 111.0h1.85v1.85h-1.85zM402.3 102.7h1.85v1.85h-1.85zM408.3 113.1h1.85v1.85h-1.85zM406.4 107.1h1.85v1.85h-1.85zM405.0 108.3h1.85v1.85h-1.85zM412.4 98.9h1.85v1.85h-1.85zM407.7 115.1h1.85v1.85h-1.85zM409.4 108.8h1.85v1.85h-1.85zM416.8 86.2h1.85v1.85h-1.85zM409.0 113.2h1.85v1.85h-1.85zM408.4 112.6h1.85v1.85h-1.85zM408.8 111.2h1.85v1.85h-1.85zM401.5 94.3h1.85v1.85h-1.85zM408.8 111.5h1.85v1.85h-1.85zM408.8 112.9h1.85v1.85h-1.85zM406.7 109.0h1.85v1.85h-1.85zM406.4 112.3h1.85v1.85h-1.85zM404.6 105.0h1.85v1.85h-1.85zM408.0 114.7h1.85v1.85h-1.85zM400.7 86.2h1.85v1.85h-1.85zM407.3 114.3h1.85v1.85h-1.85zM408.2 113.4h1.85v1.85h-1.85zM407.6 114.8h1.85v1.85h-1.85zM409.0 109.3h1.85v1.85h-1.85zM407.7 114.8h1.85v1.85h-1.85zM405.6 110.3h1.85v1.85h-1.85zM404.5 103.1h1.85v1.85h-1.85zM408.7 112.4h1.85v1.85h-1.85zM407.1 113.4h1.85v1.85h-1.85zM406.9 111.5h1.85v1.85h-1.85zM405.8 110.3h1.85v1.85h-1.85zM411.0 99.1h1.85v1.85h-1.85zM403.7 100.6h1.85v1.85h-1.85zM408.0 114.8h1.85v1.85h-1.85zM410.4 99.9h1.85v1.85h-1.85zM402.8 98.0h1.85v1.85h-1.85zM407.2 113.9h1.85v1.85h-1.85zM408.2 113.9h1.85v1.85h-1.85zM407.3 113.0h1.85v1.85h-1.85zM412.6 89.3h1.85v1.85h-1.85zM400.5 85.1h1.85v1.85h-1.85zM409.7 106.1h1.85v1.85h-1.85zM405.0 96.9h1.85v1.85h-1.85zM405.8 108.6h1.85v1.85h-1.85zM412.3 91.3h1.85v1.85h-1.85zM409.1 108.8h1.85v1.85h-1.85zM409.8 105.5h1.85v1.85h-1.85zM413.9 88.0h1.85v1.85h-1.85zM407.2 112.3h1.85v1.85h-1.85zM409.1 110.2h1.85v1.85h-1.85zM411.2 97.4h1.85v1.85h-1.85zM385.7 97.2h1.85v1.85h-1.85zM409.3 112.6h1.85v1.85h-1.85zM400.6 106.9h1.85v1.85h-1.85zM418.8 97.6h1.85v1.85h-1.85zM403.7 109.4h1.85v1.85h-1.85zM390.9 93.4h1.85v1.85h-1.85zM401.0 107.0h1.85v1.85h-1.85zM418.5 109.5h1.85v1.85h-1.85zM411.3 112.4h1.85v1.85h-1.85zM403.8 111.4h1.85v1.85h-1.85zM386.4 100.2h1.85v1.85h-1.85zM401.5 110.4h1.85v1.85h-1.85zM397.8 89.6h1.85v1.85h-1.85zM401.0 107.3h1.85v1.85h-1.85zM386.7 93.2h1.85v1.85h-1.85zM408.0 115.1h1.85v1.85h-1.85zM405.3 112.9h1.85v1.85h-1.85zM401.2 105.2h1.85v1.85h-1.85zM403.0 110.5h1.85v1.85h-1.85zM409.1 112.8h1.85v1.85h-1.85zM410.8 108.7h1.85v1.85h-1.85zM407.5 115.0h1.85v1.85h-1.85zM409.6 113.6h1.85v1.85h-1.85zM402.1 111.6h1.85v1.85h-1.85zM409.0 114.0h1.85v1.85h-1.85zM393.2 87.4h1.85v1.85h-1.85zM421.8 102.4h1.85v1.85h-1.85zM399.2 104.3h1.85v1.85h-1.85zM389.8 103.7h1.85v1.85h-1.85zM405.1 112.3h1.85v1.85h-1.85zM407.7 115.1h1.85v1.85h-1.85zM405.9 112.3h1.85v1.85h-1.85zM404.6 108.4h1.85v1.85h-1.85zM409.0 113.7h1.85v1.85h-1.85zM418.4 96.0h1.85v1.85h-1.85zM419.6 96.9h1.85v1.85h-1.85zM414.1 105.3h1.85v1.85h-1.85zM397.8 104.1h1.85v1.85h-1.85zM420.2 101.0h1.85v1.85h-1.85zM403.2 110.3h1.85v1.85h-1.85zM407.8 115.3h1.85v1.85h-1.85zM408.0 115.0h1.85v1.85h-1.85zM412.3 107.4h1.85v1.85h-1.85zM421.8 97.8h1.85v1.85h-1.85zM413.0 103.1h1.85v1.85h-1.85zM412.5 108.7h1.85v1.85h-1.85zM408.0 115.2h1.85v1.85h-1.85zM441.1 93.7h1.85v1.85h-1.85zM408.6 114.6h1.85v1.85h-1.85zM405.7 112.5h1.85v1.85h-1.85zM404.1 112.7h1.85v1.85h-1.85zM399.9 106.0h1.85v1.85h-1.85zM415.0 104.8h1.85v1.85h-1.85zM410.0 113.9h1.85v1.85h-1.85zM402.4 105.1h1.85v1.85h-1.85zM401.2 107.7h1.85v1.85h-1.85zM416.2 108.1h1.85v1.85h-1.85zM407.6 115.1h1.85v1.85h-1.85zM403.8 106.7h1.85v1.85h-1.85zM412.4 108.9h1.85v1.85h-1.85zM408.1 115.1h1.85v1.85h-1.85zM412.8 109.4h1.85v1.85h-1.85zM408.8 114.1h1.85v1.85h-1.85zM386.0 88.9h1.85v1.85h-1.85zM388.1 93.9h1.85v1.85h-1.85zM407.8 115.4h1.85v1.85h-1.85zM410.7 110.2h1.85v1.85h-1.85zM406.4 114.4h1.85v1.85h-1.85zM411.5 107.1h1.85v1.85h-1.85zM406.7 114.1h1.85v1.85h-1.85zM407.9 115.3h1.85v1.85h-1.85zM407.0 114.2h1.85v1.85h-1.85zM406.0 114.2h1.85v1.85h-1.85zM409.1 114.8h1.85v1.85h-1.85zM394.9 106.5h1.85v1.85h-1.85zM394.9 100.2h1.85v1.85h-1.85zM415.6 108.9h1.85v1.85h-1.85zM403.1 108.1h1.85v1.85h-1.85zM401.7 108.9h1.85v1.85h-1.85zM414.8 108.1h1.85v1.85h-1.85zM402.8 109.5h1.85v1.85h-1.85zM389.4 90.2h1.85v1.85h-1.85zM404.8 111.5h1.85v1.85h-1.85zM409.0 113.0h1.85v1.85h-1.85zM413.8 109.1h1.85v1.85h-1.85zM404.5 112.0h1.85v1.85h-1.85zM403.0 113.0h1.85v1.85h-1.85zM398.8 106.6h1.85v1.85h-1.85zM401.1 107.0h1.85v1.85h-1.85zM406.1 114.1h1.85v1.85h-1.85zM405.8 113.7h1.85v1.85h-1.85zM418.7 100.2h1.85v1.85h-1.85zM408.6 114.4h1.85v1.85h-1.85zM408.3 114.4h1.85v1.85h-1.85zM398.5 103.5h1.85v1.85h-1.85zM409.8 114.3h1.85v1.85h-1.85zM402.8 103.3h1.85v1.85h-1.85zM415.0 101.0h1.85v1.85h-1.85zM401.6 109.8h1.85v1.85h-1.85zM406.5 114.1h1.85v1.85h-1.85zM404.3 111.9h1.85v1.85h-1.85zM399.1 93.0h1.85v1.85h-1.85zM400.4 102.7h1.85v1.85h-1.85zM400.5 107.8h1.85v1.85h-1.85zM412.6 110.9h1.85v1.85h-1.85zM412.8 110.0h1.85v1.85h-1.85zM407.2 114.5h1.85v1.85h-1.85zM400.1 107.5h1.85v1.85h-1.85zM416.5 95.5h1.85v1.85h-1.85zM418.6 92.9h1.85v1.85h-1.85zM411.8 107.4h1.85v1.85h-1.85zM384.6 96.8h1.85v1.85h-1.85zM394.2 92.3h1.85v1.85h-1.85zM394.4 96.7h1.85v1.85h-1.85zM402.8 103.3h1.85v1.85h-1.85zM401.7 110.7h1.85v1.85h-1.85zM404.0 111.7h1.85v1.85h-1.85zM410.1 110.6h1.85v1.85h-1.85zM410.1 110.6h1.85v1.85h-1.85zM371.4 88.1h1.85v1.85h-1.85zM411.7 108.3h1.85v1.85h-1.85zM389.2 103.3h1.85v1.85h-1.85zM411.1 110.7h1.85v1.85h-1.85zM413.1 102.7h1.85v1.85h-1.85zM394.6 104.0h1.85v1.85h-1.85zM405.3 113.1h1.85v1.85h-1.85zM414.0 109.7h1.85v1.85h-1.85zM409.4 113.3h1.85v1.85h-1.85zM407.3 114.8h1.85v1.85h-1.85zM399.8 108.6h1.85v1.85h-1.85zM402.5 105.7h1.85v1.85h-1.85zM409.9 111.1h1.85v1.85h-1.85zM405.7 113.8h1.85v1.85h-1.85zM413.5 105.8h1.85v1.85h-1.85zM406.0 114.2h1.85v1.85h-1.85zM404.9 111.2h1.85v1.85h-1.85zM411.9 109.5h1.85v1.85h-1.85zM404.3 110.7h1.85v1.85h-1.85zM402.5 102.6h1.85v1.85h-1.85zM418.1 107.2h1.85v1.85h-1.85zM415.2 104.8h1.85v1.85h-1.85zM404.5 113.3h1.85v1.85h-1.85zM408.9 114.3h1.85v1.85h-1.85zM435.4 87.3h1.85v1.85h-1.85zM413.8 109.0h1.85v1.85h-1.85zM422.4 100.5h1.85v1.85h-1.85zM398.2 103.8h1.85v1.85h-1.85zM399.4 108.8h1.85v1.85h-1.85zM397.6 99.9h1.85v1.85h-1.85zM405.4 113.1h1.85v1.85h-1.85zM408.3 114.7h1.85v1.85h-1.85zM415.3 109.8h1.85v1.85h-1.85zM396.8 86.9h1.85v1.85h-1.85zM414.1 108.1h1.85v1.85h-1.85zM403.1 110.5h1.85v1.85h-1.85zM413.0 109.9h1.85v1.85h-1.85zM412.2 110.1h1.85v1.85h-1.85zM413.6 111.4h1.85v1.85h-1.85zM411.2 110.2h1.85v1.85h-1.85zM413.7 101.0h1.85v1.85h-1.85zM413.8 102.8h1.85v1.85h-1.85zM407.2 114.5h1.85v1.85h-1.85zM408.3 114.8h1.85v1.85h-1.85zM409.7 113.3h1.85v1.85h-1.85zM413.9 110.7h1.85v1.85h-1.85zM408.7 114.2h1.85v1.85h-1.85zM405.5 112.9h1.85v1.85h-1.85zM413.5 107.1h1.85v1.85h-1.85zM393.7 107.2h1.85v1.85h-1.85zM413.7 107.7h1.85v1.85h-1.85zM421.1 87.0h1.85v1.85h-1.85zM412.7 103.6h1.85v1.85h-1.85zM410.7 111.6h1.85v1.85h-1.85zM397.9 97.2h1.85v1.85h-1.85zM438.2 95.8h1.85v1.85h-1.85zM396.9 107.5h1.85v1.85h-1.85zM405.2 109.7h1.85v1.85h-1.85zM423.3 101.0h1.85v1.85h-1.85zM382.4 89.0h1.85v1.85h-1.85zM408.1 114.9h1.85v1.85h-1.85zM406.3 114.6h1.85v1.85h-1.85zM407.2 115.1h1.85v1.85h-1.85zM400.6 99.8h1.85v1.85h-1.85zM401.1 98.9h1.85v1.85h-1.85zM395.8 102.8h1.85v1.85h-1.85zM415.2 109.6h1.85v1.85h-1.85zM416.5 104.7h1.85v1.85h-1.85zM406.7 113.8h1.85v1.85h-1.85zM409.2 113.8h1.85v1.85h-1.85zM404.5 108.6h1.85v1.85h-1.85zM405.1 109.5h1.85v1.85h-1.85zM412.2 109.9h1.85v1.85h-1.85zM418.5 107.0h1.85v1.85h-1.85zM422.8 95.4h1.85v1.85h-1.85zM413.3 109.2h1.85v1.85h-1.85zM403.3 107.8h1.85v1.85h-1.85zM414.1 110.2h1.85v1.85h-1.85zM414.5 98.6h1.85v1.85h-1.85zM420.6 96.7h1.85v1.85h-1.85zM399.1 99.9h1.85v1.85h-1.85zM404.1 112.2h1.85v1.85h-1.85zM411.9 110.3h1.85v1.85h-1.85zM402.9 107.4h1.85v1.85h-1.85zM396.0 102.1h1.85v1.85h-1.85zM412.2 109.9h1.85v1.85h-1.85zM411.5 109.9h1.85v1.85h-1.85zM408.5 114.4h1.85v1.85h-1.85zM396.0 103.7h1.85v1.85h-1.85zM405.1 110.6h1.85v1.85h-1.85zM407.9 115.3h1.85v1.85h-1.85zM406.9 114.3h1.85v1.85h-1.85zM402.0 108.9h1.85v1.85h-1.85zM402.3 107.7h1.85v1.85h-1.85zM372.5 92.3h1.85v1.85h-1.85zM408.7 113.6h1.85v1.85h-1.85zM413.6 109.8h1.85v1.85h-1.85zM394.9 96.5h1.85v1.85h-1.85zM412.4 111.9h1.85v1.85h-1.85zM406.8 113.3h1.85v1.85h-1.85zM392.9 102.8h1.85v1.85h-1.85zM405.4 110.2h1.85v1.85h-1.85zM403.5 111.6h1.85v1.85h-1.85zM386.3 89.7h1.85v1.85h-1.85zM409.0 114.1h1.85v1.85h-1.85zM402.1 105.2h1.85v1.85h-1.85zM414.3 103.1h1.85v1.85h-1.85zM412.8 109.5h1.85v1.85h-1.85zM415.9 100.0h1.85v1.85h-1.85zM404.9 109.0h1.85v1.85h-1.85zM412.3 105.0h1.85v1.85h-1.85zM410.1 113.6h1.85v1.85h-1.85zM394.0 101.6h1.85v1.85h-1.85zM409.6 113.8h1.85v1.85h-1.85zM410.9 111.9h1.85v1.85h-1.85zM409.1 114.2h1.85v1.85h-1.85zM409.4 114.0h1.85v1.85h-1.85zM404.1 111.5h1.85v1.85h-1.85zM406.5 113.3h1.85v1.85h-1.85zM409.2 113.3h1.85v1.85h-1.85zM414.3 101.2h1.85v1.85h-1.85zM391.5 93.0h1.85v1.85h-1.85zM410.1 111.4h1.85v1.85h-1.85zM398.6 101.8h1.85v1.85h-1.85zM423.1 103.1h1.85v1.85h-1.85zM410.1 112.4h1.85v1.85h-1.85zM394.4 106.0h1.85v1.85h-1.85zM410.1 110.5h1.85v1.85h-1.85zM417.6 90.3h1.85v1.85h-1.85zM429.8 88.9h1.85v1.85h-1.85zM415.5 101.4h1.85v1.85h-1.85zM413.3 110.1h1.85v1.85h-1.85zM408.3 115.0h1.85v1.85h-1.85zM410.5 111.5h1.85v1.85h-1.85zM420.0 107.7h1.85v1.85h-1.85zM420.4 103.9h1.85v1.85h-1.85zM406.7 113.7h1.85v1.85h-1.85zM411.8 110.4h1.85v1.85h-1.85zM413.8 105.8h1.85v1.85h-1.85zM413.3 112.0h1.85v1.85h-1.85zM403.6 109.9h1.85v1.85h-1.85zM417.5 97.4h1.85v1.85h-1.85zM409.4 113.7h1.85v1.85h-1.85zM416.2 106.7h1.85v1.85h-1.85zM392.7 90.0h1.85v1.85h-1.85zM407.0 114.6h1.85v1.85h-1.85zM406.7 114.2h1.85v1.85h-1.85zM422.0 100.8h1.85v1.85h-1.85zM413.2 111.1h1.85v1.85h-1.85zM412.1 110.9h1.85v1.85h-1.85zM399.3 101.4h1.85v1.85h-1.85zM387.1 90.1h1.85v1.85h-1.85zM406.4 113.1h1.85v1.85h-1.85zM380.0 89.4h1.85v1.85h-1.85zM415.5 106.8h1.85v1.85h-1.85zM409.1 112.9h1.85v1.85h-1.85zM403.3 113.1h1.85v1.85h-1.85zM406.5 114.5h1.85v1.85h-1.85zM418.9 101.0h1.85v1.85h-1.85zM410.0 113.6h1.85v1.85h-1.85zM413.6 105.7h1.85v1.85h-1.85zM410.2 113.5h1.85v1.85h-1.85zM405.0 112.9h1.85v1.85h-1.85zM415.7 105.9h1.85v1.85h-1.85zM422.6 97.6h1.85v1.85h-1.85zM411.6 108.5h1.85v1.85h-1.85zM398.8 106.6h1.85v1.85h-1.85zM406.5 113.0h1.85v1.85h-1.85zM398.3 110.0h1.85v1.85h-1.85zM401.4 109.9h1.85v1.85h-1.85zM415.2 101.5h1.85v1.85h-1.85zM398.7 91.9h1.85v1.85h-1.85zM406.3 113.8h1.85v1.85h-1.85zM419.8 102.5h1.85v1.85h-1.85zM409.1 113.4h1.85v1.85h-1.85zM432.1 98.4h1.85v1.85h-1.85zM408.8 114.5h1.85v1.85h-1.85zM408.8 113.6h1.85v1.85h-1.85zM401.5 107.3h1.85v1.85h-1.85zM415.6 104.6h1.85v1.85h-1.85zM410.9 113.2h1.85v1.85h-1.85zM408.4 114.8h1.85v1.85h-1.85zM418.3 104.2h1.85v1.85h-1.85zM399.5 109.9h1.85v1.85h-1.85zM409.7 113.8h1.85v1.85h-1.85zM410.5 112.1h1.85v1.85h-1.85zM418.3 105.0h1.85v1.85h-1.85zM409.6 113.1h1.85v1.85h-1.85zM416.9 105.8h1.85v1.85h-1.85zM401.1 107.3h1.85v1.85h-1.85zM408.1 115.0h1.85v1.85h-1.85zM400.9 108.9h1.85v1.85h-1.85zM413.7 108.6h1.85v1.85h-1.85zM416.9 107.0h1.85v1.85h-1.85zM410.9 109.1h1.85v1.85h-1.85zM404.5 113.1h1.85v1.85h-1.85zM406.4 113.6h1.85v1.85h-1.85zM407.0 114.5h1.85v1.85h-1.85zM412.8 109.4h1.85v1.85h-1.85zM420.5 103.5h1.85v1.85h-1.85zM414.3 104.2h1.85v1.85h-1.85zM414.9 100.3h1.85v1.85h-1.85zM406.7 114.1h1.85v1.85h-1.85zM430.3 101.3h1.85v1.85h-1.85zM403.8 109.8h1.85v1.85h-1.85zM406.2 112.7h1.85v1.85h-1.85zM418.4 94.1h1.85v1.85h-1.85zM413.5 109.0h1.85v1.85h-1.85zM411.8 109.0h1.85v1.85h-1.85zM404.1 111.5h1.85v1.85h-1.85zM409.0 114.2h1.85v1.85h-1.85zM391.9 97.1h1.85v1.85h-1.85zM419.8 100.0h1.85v1.85h-1.85zM408.8 114.7h1.85v1.85h-1.85zM408.5 114.8h1.85v1.85h-1.85zM405.7 114.4h1.85v1.85h-1.85zM411.0 108.6h1.85v1.85h-1.85zM406.4 112.7h1.85v1.85h-1.85zM401.4 110.4h1.85v1.85h-1.85zM405.6 113.1h1.85v1.85h-1.85zM404.5 111.1h1.85v1.85h-1.85zM408.9 114.3h1.85v1.85h-1.85zM405.4 113.4h1.85v1.85h-1.85zM396.7 97.0h1.85v1.85h-1.85zM402.4 106.5h1.85v1.85h-1.85zM407.7 115.1h1.85v1.85h-1.85zM409.2 113.3h1.85v1.85h-1.85zM406.6 113.5h1.85v1.85h-1.85zM418.5 106.9h1.85v1.85h-1.85zM402.8 110.0h1.85v1.85h-1.85zM425.9 94.9h1.85v1.85h-1.85zM407.1 114.4h1.85v1.85h-1.85zM404.7 113.1h1.85v1.85h-1.85zM404.9 109.0h1.85v1.85h-1.85zM403.8 111.6h1.85v1.85h-1.85zM407.0 114.7h1.85v1.85h-1.85zM402.7 107.3h1.85v1.85h-1.85zM408.7 114.0h1.85v1.85h-1.85zM416.8 106.0h1.85v1.85h-1.85zM398.6 98.3h1.85v1.85h-1.85zM407.8 115.3h1.85v1.85h-1.85zM408.9 114.3h1.85v1.85h-1.85zM419.7 88.8h1.85v1.85h-1.85zM403.5 110.0h1.85v1.85h-1.85zM371.4 91.5h1.85v1.85h-1.85zM414.8 104.4h1.85v1.85h-1.85zM411.3 112.7h1.85v1.85h-1.85zM409.1 113.3h1.85v1.85h-1.85zM389.8 90.4h1.85v1.85h-1.85zM409.8 113.0h1.85v1.85h-1.85zM406.2 113.5h1.85v1.85h-1.85zM414.5 109.4h1.85v1.85h-1.85zM396.6 109.1h1.85v1.85h-1.85zM409.5 113.5h1.85v1.85h-1.85zM422.2 104.1h1.85v1.85h-1.85zM411.6 111.7h1.85v1.85h-1.85zM411.0 112.8h1.85v1.85h-1.85zM405.7 112.5h1.85v1.85h-1.85zM405.5 111.8h1.85v1.85h-1.85zM406.8 114.2h1.85v1.85h-1.85zM403.3 107.6h1.85v1.85h-1.85zM400.3 105.7h1.85v1.85h-1.85zM408.8 113.8h1.85v1.85h-1.85zM407.6 115.2h1.85v1.85h-1.85zM407.9 115.3h1.85v1.85h-1.85zM399.8 110.8h1.85v1.85h-1.85zM397.1 108.8h1.85v1.85h-1.85zM413.3 110.0h1.85v1.85h-1.85zM406.6 113.8h1.85v1.85h-1.85zM392.7 98.9h1.85v1.85h-1.85zM412.4 111.6h1.85v1.85h-1.85zM420.2 96.5h1.85v1.85h-1.85zM405.2 111.1h1.85v1.85h-1.85zM407.9 115.3h1.85v1.85h-1.85zM409.5 113.6h1.85v1.85h-1.85zM392.2 106.0h1.85v1.85h-1.85zM410.4 112.2h1.85v1.85h-1.85zM411.4 111.9h1.85v1.85h-1.85zM398.2 104.5h1.85v1.85h-1.85zM426.9 92.9h1.85v1.85h-1.85zM398.5 106.6h1.85v1.85h-1.85zM411.2 107.7h1.85v1.85h-1.85zM404.8 111.8h1.85v1.85h-1.85zM404.0 111.6h1.85v1.85h-1.85zM406.5 114.6h1.85v1.85h-1.85zM403.1 108.6h1.85v1.85h-1.85zM416.3 108.2h1.85v1.85h-1.85zM383.6 98.9h1.85v1.85h-1.85zM390.2 87.5h1.85v1.85h-1.85zM414.1 107.6h1.85v1.85h-1.85zM398.7 101.5h1.85v1.85h-1.85zM411.6 112.3h1.85v1.85h-1.85zM407.7 115.1h1.85v1.85h-1.85zM416.4 93.7h1.85v1.85h-1.85zM397.3 99.1h1.85v1.85h-1.85zM412.0 112.0h1.85v1.85h-1.85zM414.7 108.8h1.85v1.85h-1.85zM406.5 113.4h1.85v1.85h-1.85zM437.7 93.2h1.85v1.85h-1.85zM409.2 114.0h1.85v1.85h-1.85zM409.7 112.7h1.85v1.85h-1.85zM412.9 110.6h1.85v1.85h-1.85zM406.8 114.7h1.85v1.85h-1.85zM404.4 111.4h1.85v1.85h-1.85zM413.3 102.2h1.85v1.85h-1.85zM413.3 106.9h1.85v1.85h-1.85z" fill="#17578a"/>
<path d="M378.6 42.8h1.9v1.9h-1.9zM450.9 41.1h1.9v1.9h-1.9zM421.6 52.9h1.9v1.9h-1.9zM387.7 65.6h1.9v1.9h-1.9zM423.1 66.8h1.9v1.9h-1.9zM423.7 68.1h1.9v1.9h-1.9zM424.7 71.0h1.9v1.9h-1.9zM377.9 77.2h1.9v1.9h-1.9zM394.4 75.5h1.9v1.9h-1.9zM397.2 76.0h1.9v1.9h-1.9zM398.7 74.1h1.9v1.9h-1.9zM397.7 78.1h1.9v1.9h-1.9zM391.2 79.8h1.9v1.9h-1.9zM394.1 81.5h1.9v1.9h-1.9zM385.6 83.0h1.9v1.9h-1.9zM388.6 83.0h1.9v1.9h-1.9zM414.2 73.8h1.9v1.9h-1.9zM418.4 71.8h1.9v1.9h-1.9zM414.6 76.6h1.9v1.9h-1.9zM410.4 80.2h1.9v1.9h-1.9zM412.4 81.5h1.9v1.9h-1.9zM415.2 80.8h1.9v1.9h-1.9zM417.8 82.0h1.9v1.9h-1.9zM419.9 79.8h1.9v1.9h-1.9zM421.4 82.0h1.9v1.9h-1.9zM422.9 79.3h1.9v1.9h-1.9zM425.8 79.8h1.9v1.9h-1.9zM427.2 80.5h1.9v1.9h-1.9zM434.7 73.0h1.9v1.9h-1.9zM435.1 76.6h1.9v1.9h-1.9zM433.6 79.8h1.9v1.9h-1.9zM437.9 79.1h1.9v1.9h-1.9zM444.2 75.1h1.9v1.9h-1.9zM445.2 77.2h1.9v1.9h-1.9zM442.7 81.5h1.9v1.9h-1.9zM448.4 80.8h1.9v1.9h-1.9zM450.4 73.8h1.9v1.9h-1.9zM453.1 72.8h1.9v1.9h-1.9zM460.4 82.5h1.9v1.9h-1.9zM411.4 83.0h1.9v1.9h-1.9zM416.7 83.0h1.9v1.9h-1.9zM396.6 83.6h1.9v1.9h-1.9zM384.8 83.3h1.9v1.9h-1.9zM413.1 82.6h1.9v1.9h-1.9zM418.6 83.0h1.9v1.9h-1.9zM423.6 82.2h1.9v1.9h-1.9zM409.6 82.8h1.9v1.9h-1.9z" fill="#d0103a"/>
<line x1="346.25" y1="31.70" x2="346.25" y2="116.50" stroke="#231f20" stroke-width="1.2"/>
<line x1="345.60" y1="116.50" x2="475.00" y2="116.50" stroke="#231f20" stroke-width="1.2"/>
<line x1="346.25" y1="84.50" x2="471.30" y2="84.50" stroke="#2a2a2a" stroke-width="1.0"/>
<line x1="342.90" y1="116.30" x2="346.25" y2="116.30" stroke="#231f20" stroke-width="0.8"/>
<text x="339.60" y="118.80" font-size="7.0" fill="#231f20" stroke="#231f20" stroke-width="0.06" text-anchor="end">0</text>
<line x1="342.90" y1="92.30" x2="346.25" y2="92.30" stroke="#231f20" stroke-width="0.8"/>
<text x="339.60" y="94.80" font-size="7.0" fill="#231f20" stroke="#231f20" stroke-width="0.06" text-anchor="end">1</text>
<line x1="342.90" y1="68.30" x2="346.25" y2="68.30" stroke="#231f20" stroke-width="0.8"/>
<text x="339.60" y="70.80" font-size="7.0" fill="#231f20" stroke="#231f20" stroke-width="0.06" text-anchor="end">2</text>
<line x1="342.90" y1="44.30" x2="346.25" y2="44.30" stroke="#231f20" stroke-width="0.8"/>
<text x="339.60" y="46.80" font-size="7.0" fill="#231f20" stroke="#231f20" stroke-width="0.06" text-anchor="end">3</text>
<line x1="346.23" y1="116.50" x2="346.23" y2="119.20" stroke="#231f20" stroke-width="0.8"/>
<text x="346.23" y="127.50" font-size="7.0" fill="#231f20" stroke="#231f20" stroke-width="0.06" text-anchor="middle">−4</text>
<line x1="377.49" y1="116.50" x2="377.49" y2="119.20" stroke="#231f20" stroke-width="0.8"/>
<text x="377.49" y="127.50" font-size="7.0" fill="#231f20" stroke="#231f20" stroke-width="0.06" text-anchor="middle">−2</text>
<line x1="408.75" y1="116.50" x2="408.75" y2="119.20" stroke="#231f20" stroke-width="0.8"/>
<text x="408.75" y="127.50" font-size="7.0" fill="#231f20" stroke="#231f20" stroke-width="0.06" text-anchor="middle">0</text>
<line x1="440.01" y1="116.50" x2="440.01" y2="119.20" stroke="#231f20" stroke-width="0.8"/>
<text x="440.01" y="127.50" font-size="7.0" fill="#231f20" stroke="#231f20" stroke-width="0.06" text-anchor="middle">2</text>
<line x1="471.27" y1="116.50" x2="471.27" y2="119.20" stroke="#231f20" stroke-width="0.8"/>
<text x="471.27" y="127.50" font-size="7.0" fill="#231f20" stroke="#231f20" stroke-width="0.06" text-anchor="middle">4</text>
<text x="359.75" y="140.8" font-size="9" fill="#231f20" stroke="#231f20" stroke-width="0.06" textLength="102" lengthAdjust="spacingAndGlyphs">log<tspan font-size="6.2" dy="2.2">2</tspan><tspan dy="-2.2">(fold change) protein expression</tspan></text>
<text transform="translate(326.8 74.2) rotate(-90)" font-size="9" fill="#231f20" stroke="#231f20" stroke-width="0.06" text-anchor="middle" textLength="42" lengthAdjust="spacingAndGlyphs">-log<tspan font-size="6.2" dy="2.2">10</tspan><tspan dy="-2.2">(p value)</tspan></text>
<line x1="454.50" y1="41.25" x2="472.50" y2="36.25" stroke="#231f20" stroke-width="0.8"/>
<text x="474.50" y="39.50" font-size="7.8" fill="#231f20" stroke="#231f20" stroke-width="0.06">NFKB2</text>
<text x="11.00" y="183.70" font-size="10.5" fill="#000" stroke="#000" stroke-width="0.06" text-anchor="middle" font-weight="bold">C</text>
<text x="131.50" y="183.30" font-size="8.4" fill="#231f20" stroke="#231f20" stroke-width="0.06" text-anchor="middle" textLength="138" lengthAdjust="spacingAndGlyphs">(PV.HU.HSC/MPP-PV.HU.CMP/MEP)-</text>
<text x="130.90" y="193.00" font-size="8.4" fill="#231f20" stroke="#231f20" stroke-width="0.06" text-anchor="middle" textLength="130.8" lengthAdjust="spacingAndGlyphs">(PV.UT.HSC/MPP-PV.UT.CMP/MEP)</text>
<path d="M126.5 295.8h1.85v1.85h-1.85zM134.5 284.6h1.85v1.85h-1.85zM126.5 297.2h1.85v1.85h-1.85zM130.6 301.4h1.85v1.85h-1.85zM129.3 301.0h1.85v1.85h-1.85zM117.8 293.4h1.85v1.85h-1.85zM128.4 303.0h1.85v1.85h-1.85zM128.6 303.5h1.85v1.85h-1.85zM119.2 272.3h1.85v1.85h-1.85zM126.1 290.9h1.85v1.85h-1.85zM130.4 295.4h1.85v1.85h-1.85zM126.6 293.5h1.85v1.85h-1.85zM133.6 289.6h1.85v1.85h-1.85zM124.1 291.4h1.85v1.85h-1.85zM128.2 302.9h1.85v1.85h-1.85zM126.7 301.2h1.85v1.85h-1.85zM127.7 299.8h1.85v1.85h-1.85zM126.7 293.9h1.85v1.85h-1.85zM136.7 286.8h1.85v1.85h-1.85zM132.5 296.1h1.85v1.85h-1.85zM129.9 301.9h1.85v1.85h-1.85zM124.5 296.2h1.85v1.85h-1.85zM126.9 296.2h1.85v1.85h-1.85zM124.5 296.3h1.85v1.85h-1.85zM134.0 284.3h1.85v1.85h-1.85zM128.2 303.0h1.85v1.85h-1.85zM126.2 295.4h1.85v1.85h-1.85zM127.6 300.4h1.85v1.85h-1.85zM123.9 286.8h1.85v1.85h-1.85zM126.8 298.7h1.85v1.85h-1.85zM125.9 292.2h1.85v1.85h-1.85zM129.8 297.9h1.85v1.85h-1.85zM128.3 302.8h1.85v1.85h-1.85zM129.7 300.8h1.85v1.85h-1.85zM132.2 291.6h1.85v1.85h-1.85zM128.9 302.8h1.85v1.85h-1.85zM128.4 303.5h1.85v1.85h-1.85zM129.0 301.9h1.85v1.85h-1.85zM123.6 291.7h1.85v1.85h-1.85zM128.9 303.4h1.85v1.85h-1.85zM129.1 302.7h1.85v1.85h-1.85zM132.1 290.2h1.85v1.85h-1.85zM137.6 291.3h1.85v1.85h-1.85zM124.6 295.3h1.85v1.85h-1.85zM128.3 303.1h1.85v1.85h-1.85zM125.4 292.2h1.85v1.85h-1.85zM129.6 298.7h1.85v1.85h-1.85zM132.1 289.5h1.85v1.85h-1.85zM130.0 299.8h1.85v1.85h-1.85zM129.4 300.1h1.85v1.85h-1.85zM128.2 302.2h1.85v1.85h-1.85zM132.5 281.1h1.85v1.85h-1.85zM126.6 301.0h1.85v1.85h-1.85zM127.8 300.5h1.85v1.85h-1.85zM130.1 300.9h1.85v1.85h-1.85zM121.2 292.6h1.85v1.85h-1.85zM127.9 302.8h1.85v1.85h-1.85zM118.9 281.0h1.85v1.85h-1.85zM128.0 302.2h1.85v1.85h-1.85zM121.3 289.7h1.85v1.85h-1.85zM127.0 297.9h1.85v1.85h-1.85zM132.2 295.6h1.85v1.85h-1.85zM128.2 303.0h1.85v1.85h-1.85zM119.2 271.6h1.85v1.85h-1.85zM132.6 290.8h1.85v1.85h-1.85zM126.9 298.9h1.85v1.85h-1.85zM129.3 301.8h1.85v1.85h-1.85zM130.7 292.5h1.85v1.85h-1.85zM127.1 300.7h1.85v1.85h-1.85zM128.7 303.5h1.85v1.85h-1.85zM128.6 303.5h1.85v1.85h-1.85zM126.5 295.7h1.85v1.85h-1.85zM127.7 300.0h1.85v1.85h-1.85zM123.4 296.3h1.85v1.85h-1.85zM128.6 303.5h1.85v1.85h-1.85zM129.1 302.7h1.85v1.85h-1.85zM127.9 302.0h1.85v1.85h-1.85zM133.1 297.1h1.85v1.85h-1.85zM128.3 303.2h1.85v1.85h-1.85zM131.8 297.1h1.85v1.85h-1.85zM131.1 294.9h1.85v1.85h-1.85zM130.1 299.0h1.85v1.85h-1.85zM124.9 296.6h1.85v1.85h-1.85zM124.4 290.6h1.85v1.85h-1.85zM132.7 287.5h1.85v1.85h-1.85zM138.8 274.1h1.85v1.85h-1.85zM126.8 294.6h1.85v1.85h-1.85zM126.1 290.6h1.85v1.85h-1.85zM130.6 300.1h1.85v1.85h-1.85zM135.2 286.1h1.85v1.85h-1.85zM130.1 296.1h1.85v1.85h-1.85zM123.0 291.9h1.85v1.85h-1.85zM130.8 297.1h1.85v1.85h-1.85zM130.9 298.5h1.85v1.85h-1.85zM130.0 301.7h1.85v1.85h-1.85zM136.2 272.4h1.85v1.85h-1.85zM125.2 285.5h1.85v1.85h-1.85zM141.1 287.6h1.85v1.85h-1.85zM136.2 276.6h1.85v1.85h-1.85zM130.5 293.5h1.85v1.85h-1.85zM125.2 298.3h1.85v1.85h-1.85zM125.5 297.3h1.85v1.85h-1.85zM126.3 299.5h1.85v1.85h-1.85zM128.2 302.9h1.85v1.85h-1.85zM123.0 284.8h1.85v1.85h-1.85zM129.5 302.0h1.85v1.85h-1.85zM130.6 300.6h1.85v1.85h-1.85zM131.6 288.4h1.85v1.85h-1.85zM132.1 292.5h1.85v1.85h-1.85zM132.5 295.4h1.85v1.85h-1.85zM122.7 286.6h1.85v1.85h-1.85zM127.4 301.3h1.85v1.85h-1.85zM125.2 294.6h1.85v1.85h-1.85zM128.7 303.4h1.85v1.85h-1.85zM120.3 277.3h1.85v1.85h-1.85zM128.2 302.5h1.85v1.85h-1.85zM129.8 300.8h1.85v1.85h-1.85zM134.9 292.0h1.85v1.85h-1.85zM109.3 277.5h1.85v1.85h-1.85zM126.4 300.8h1.85v1.85h-1.85zM124.7 298.6h1.85v1.85h-1.85zM140.8 282.2h1.85v1.85h-1.85zM124.4 292.7h1.85v1.85h-1.85zM129.3 301.8h1.85v1.85h-1.85zM134.1 287.5h1.85v1.85h-1.85zM126.5 296.9h1.85v1.85h-1.85zM132.9 283.0h1.85v1.85h-1.85zM120.5 288.5h1.85v1.85h-1.85zM127.1 296.2h1.85v1.85h-1.85zM124.7 295.9h1.85v1.85h-1.85zM124.3 290.8h1.85v1.85h-1.85zM125.6 297.1h1.85v1.85h-1.85zM129.2 301.0h1.85v1.85h-1.85zM125.0 283.6h1.85v1.85h-1.85zM123.8 289.5h1.85v1.85h-1.85zM122.4 286.1h1.85v1.85h-1.85zM117.9 272.6h1.85v1.85h-1.85zM126.2 293.8h1.85v1.85h-1.85zM131.9 286.6h1.85v1.85h-1.85zM135.1 280.6h1.85v1.85h-1.85zM128.0 301.3h1.85v1.85h-1.85zM125.4 298.8h1.85v1.85h-1.85zM128.5 303.3h1.85v1.85h-1.85zM132.3 292.8h1.85v1.85h-1.85zM126.6 299.9h1.85v1.85h-1.85zM127.9 300.8h1.85v1.85h-1.85zM124.6 291.1h1.85v1.85h-1.85zM129.3 301.8h1.85v1.85h-1.85zM125.9 291.9h1.85v1.85h-1.85zM125.8 301.8h1.85v1.85h-1.85zM122.8 286.1h1.85v1.85h-1.85zM128.3 302.8h1.85v1.85h-1.85zM130.5 293.8h1.85v1.85h-1.85zM140.6 289.6h1.85v1.85h-1.85zM123.4 292.3h1.85v1.85h-1.85zM129.5 301.0h1.85v1.85h-1.85zM130.4 294.9h1.85v1.85h-1.85zM128.4 303.0h1.85v1.85h-1.85zM137.5 279.6h1.85v1.85h-1.85zM122.3 296.4h1.85v1.85h-1.85zM124.0 289.5h1.85v1.85h-1.85zM130.5 299.1h1.85v1.85h-1.85zM126.0 296.1h1.85v1.85h-1.85zM122.7 284.0h1.85v1.85h-1.85zM127.5 299.3h1.85v1.85h-1.85zM122.6 280.5h1.85v1.85h-1.85zM129.6 301.3h1.85v1.85h-1.85zM127.8 303.1h1.85v1.85h-1.85zM124.4 296.3h1.85v1.85h-1.85zM123.2 292.6h1.85v1.85h-1.85zM135.2 285.4h1.85v1.85h-1.85zM128.2 302.3h1.85v1.85h-1.85zM126.8 299.4h1.85v1.85h-1.85zM127.5 302.1h1.85v1.85h-1.85zM133.4 284.1h1.85v1.85h-1.85zM122.0 289.2h1.85v1.85h-1.85zM129.0 302.7h1.85v1.85h-1.85zM128.7 303.0h1.85v1.85h-1.85zM130.1 296.8h1.85v1.85h-1.85zM115.7 283.9h1.85v1.85h-1.85zM127.8 300.8h1.85v1.85h-1.85zM121.7 292.5h1.85v1.85h-1.85zM137.0 287.0h1.85v1.85h-1.85zM128.4 303.1h1.85v1.85h-1.85zM128.2 303.3h1.85v1.85h-1.85zM126.4 296.9h1.85v1.85h-1.85zM142.4 280.2h1.85v1.85h-1.85zM127.6 300.5h1.85v1.85h-1.85zM130.1 299.8h1.85v1.85h-1.85zM130.6 301.4h1.85v1.85h-1.85zM123.3 288.6h1.85v1.85h-1.85zM127.8 301.5h1.85v1.85h-1.85zM127.7 300.5h1.85v1.85h-1.85zM122.7 291.0h1.85v1.85h-1.85zM119.2 285.9h1.85v1.85h-1.85zM128.1 302.2h1.85v1.85h-1.85zM125.6 297.7h1.85v1.85h-1.85zM132.4 291.7h1.85v1.85h-1.85zM120.6 288.4h1.85v1.85h-1.85zM129.5 301.4h1.85v1.85h-1.85zM127.4 301.3h1.85v1.85h-1.85zM133.8 298.0h1.85v1.85h-1.85zM127.2 299.2h1.85v1.85h-1.85zM126.8 297.3h1.85v1.85h-1.85zM125.7 298.9h1.85v1.85h-1.85zM131.2 293.6h1.85v1.85h-1.85zM127.6 299.2h1.85v1.85h-1.85zM127.6 298.9h1.85v1.85h-1.85zM136.9 286.5h1.85v1.85h-1.85zM125.8 288.8h1.85v1.85h-1.85zM123.7 291.3h1.85v1.85h-1.85zM127.1 301.6h1.85v1.85h-1.85zM132.4 292.6h1.85v1.85h-1.85zM128.5 303.3h1.85v1.85h-1.85zM128.4 303.0h1.85v1.85h-1.85zM117.3 280.5h1.85v1.85h-1.85zM131.0 299.1h1.85v1.85h-1.85zM125.4 286.1h1.85v1.85h-1.85zM128.5 303.4h1.85v1.85h-1.85zM128.4 302.7h1.85v1.85h-1.85zM129.3 300.6h1.85v1.85h-1.85zM129.4 301.6h1.85v1.85h-1.85zM122.3 287.6h1.85v1.85h-1.85zM125.2 294.7h1.85v1.85h-1.85zM129.7 301.4h1.85v1.85h-1.85zM117.6 271.8h1.85v1.85h-1.85zM123.8 297.1h1.85v1.85h-1.85zM130.0 300.6h1.85v1.85h-1.85zM128.4 303.4h1.85v1.85h-1.85zM130.1 297.2h1.85v1.85h-1.85zM130.6 296.5h1.85v1.85h-1.85zM128.9 302.2h1.85v1.85h-1.85zM134.5 288.2h1.85v1.85h-1.85zM131.3 298.3h1.85v1.85h-1.85zM131.2 299.2h1.85v1.85h-1.85zM135.1 291.7h1.85v1.85h-1.85zM132.6 288.9h1.85v1.85h-1.85zM119.6 274.6h1.85v1.85h-1.85zM129.2 301.4h1.85v1.85h-1.85zM118.7 278.2h1.85v1.85h-1.85zM139.2 272.8h1.85v1.85h-1.85zM139.4 287.9h1.85v1.85h-1.85zM127.4 301.1h1.85v1.85h-1.85zM128.8 303.1h1.85v1.85h-1.85zM130.2 296.8h1.85v1.85h-1.85zM127.9 302.1h1.85v1.85h-1.85zM135.3 289.2h1.85v1.85h-1.85zM132.7 290.0h1.85v1.85h-1.85zM128.2 302.9h1.85v1.85h-1.85zM131.6 299.7h1.85v1.85h-1.85zM127.8 302.4h1.85v1.85h-1.85zM127.7 301.2h1.85v1.85h-1.85zM127.9 302.2h1.85v1.85h-1.85zM130.3 296.8h1.85v1.85h-1.85zM130.1 298.5h1.85v1.85h-1.85zM129.8 301.7h1.85v1.85h-1.85zM132.0 287.6h1.85v1.85h-1.85zM129.0 301.9h1.85v1.85h-1.85zM127.9 301.3h1.85v1.85h-1.85zM129.3 302.3h1.85v1.85h-1.85zM134.2 294.4h1.85v1.85h-1.85zM122.8 296.4h1.85v1.85h-1.85zM128.5 303.3h1.85v1.85h-1.85zM129.2 302.3h1.85v1.85h-1.85zM124.2 296.9h1.85v1.85h-1.85zM120.2 279.1h1.85v1.85h-1.85zM127.1 297.5h1.85v1.85h-1.85zM135.6 276.5h1.85v1.85h-1.85zM121.2 294.1h1.85v1.85h-1.85zM126.6 297.5h1.85v1.85h-1.85zM128.4 303.3h1.85v1.85h-1.85zM119.5 276.4h1.85v1.85h-1.85zM123.5 296.8h1.85v1.85h-1.85zM117.6 289.9h1.85v1.85h-1.85zM132.0 299.4h1.85v1.85h-1.85zM131.6 294.5h1.85v1.85h-1.85zM132.8 290.9h1.85v1.85h-1.85zM127.0 298.2h1.85v1.85h-1.85zM127.7 299.7h1.85v1.85h-1.85zM128.2 302.8h1.85v1.85h-1.85zM124.0 287.8h1.85v1.85h-1.85zM129.5 302.1h1.85v1.85h-1.85zM131.3 293.0h1.85v1.85h-1.85zM126.0 289.7h1.85v1.85h-1.85zM136.6 285.5h1.85v1.85h-1.85zM124.3 279.4h1.85v1.85h-1.85zM135.2 283.3h1.85v1.85h-1.85zM131.8 292.5h1.85v1.85h-1.85zM121.6 286.5h1.85v1.85h-1.85zM130.5 293.9h1.85v1.85h-1.85zM133.4 288.4h1.85v1.85h-1.85zM130.8 297.9h1.85v1.85h-1.85zM128.5 303.4h1.85v1.85h-1.85zM125.4 292.8h1.85v1.85h-1.85zM128.5 303.3h1.85v1.85h-1.85zM130.3 299.2h1.85v1.85h-1.85zM120.2 279.9h1.85v1.85h-1.85zM127.9 301.3h1.85v1.85h-1.85zM130.0 299.3h1.85v1.85h-1.85zM126.6 295.8h1.85v1.85h-1.85zM132.1 286.4h1.85v1.85h-1.85zM125.2 297.8h1.85v1.85h-1.85zM118.0 283.9h1.85v1.85h-1.85zM124.0 284.5h1.85v1.85h-1.85zM128.5 303.3h1.85v1.85h-1.85zM128.6 303.5h1.85v1.85h-1.85zM137.7 280.5h1.85v1.85h-1.85zM127.5 298.7h1.85v1.85h-1.85zM128.2 302.2h1.85v1.85h-1.85zM128.6 303.4h1.85v1.85h-1.85zM115.9 295.2h1.85v1.85h-1.85zM123.2 286.2h1.85v1.85h-1.85zM119.4 284.6h1.85v1.85h-1.85zM119.6 289.2h1.85v1.85h-1.85zM130.7 297.2h1.85v1.85h-1.85zM132.9 299.3h1.85v1.85h-1.85zM114.5 275.9h1.85v1.85h-1.85zM129.8 299.7h1.85v1.85h-1.85zM128.4 303.0h1.85v1.85h-1.85zM126.0 293.3h1.85v1.85h-1.85zM137.3 286.8h1.85v1.85h-1.85zM128.5 303.4h1.85v1.85h-1.85zM131.1 298.8h1.85v1.85h-1.85zM124.8 298.2h1.85v1.85h-1.85zM133.8 293.1h1.85v1.85h-1.85zM126.2 298.7h1.85v1.85h-1.85zM124.5 298.1h1.85v1.85h-1.85zM136.2 279.8h1.85v1.85h-1.85zM139.3 288.9h1.85v1.85h-1.85zM129.1 303.1h1.85v1.85h-1.85zM117.4 279.1h1.85v1.85h-1.85zM131.9 301.9h1.85v1.85h-1.85zM99.4 285.8h1.85v1.85h-1.85zM139.7 271.9h1.85v1.85h-1.85zM130.7 293.8h1.85v1.85h-1.85zM129.2 301.5h1.85v1.85h-1.85zM131.1 290.2h1.85v1.85h-1.85zM126.3 299.0h1.85v1.85h-1.85zM126.7 298.5h1.85v1.85h-1.85zM142.9 274.4h1.85v1.85h-1.85zM127.6 299.2h1.85v1.85h-1.85zM128.6 303.4h1.85v1.85h-1.85zM132.1 300.4h1.85v1.85h-1.85zM133.4 294.4h1.85v1.85h-1.85zM129.3 302.3h1.85v1.85h-1.85zM129.6 300.1h1.85v1.85h-1.85zM129.2 301.0h1.85v1.85h-1.85zM128.8 302.7h1.85v1.85h-1.85zM124.9 294.4h1.85v1.85h-1.85zM127.4 301.9h1.85v1.85h-1.85zM122.5 271.4h1.85v1.85h-1.85zM125.5 286.5h1.85v1.85h-1.85zM131.8 295.7h1.85v1.85h-1.85zM125.8 295.6h1.85v1.85h-1.85zM129.4 301.9h1.85v1.85h-1.85zM131.6 294.4h1.85v1.85h-1.85zM128.3 302.8h1.85v1.85h-1.85zM123.3 289.0h1.85v1.85h-1.85zM135.9 282.9h1.85v1.85h-1.85zM122.7 300.0h1.85v1.85h-1.85zM132.9 298.6h1.85v1.85h-1.85zM123.3 290.3h1.85v1.85h-1.85zM131.2 290.8h1.85v1.85h-1.85zM123.6 288.1h1.85v1.85h-1.85zM129.5 302.3h1.85v1.85h-1.85zM134.3 276.5h1.85v1.85h-1.85zM140.2 272.2h1.85v1.85h-1.85zM131.3 288.6h1.85v1.85h-1.85zM126.7 296.1h1.85v1.85h-1.85zM129.0 302.8h1.85v1.85h-1.85zM122.9 285.5h1.85v1.85h-1.85zM119.7 291.4h1.85v1.85h-1.85zM126.7 296.0h1.85v1.85h-1.85zM131.6 297.6h1.85v1.85h-1.85zM128.6 303.5h1.85v1.85h-1.85zM131.2 301.6h1.85v1.85h-1.85zM130.7 300.8h1.85v1.85h-1.85zM121.5 287.8h1.85v1.85h-1.85zM125.8 294.8h1.85v1.85h-1.85zM128.2 302.4h1.85v1.85h-1.85zM130.2 300.6h1.85v1.85h-1.85zM115.4 276.0h1.85v1.85h-1.85zM128.5 303.4h1.85v1.85h-1.85zM134.1 290.8h1.85v1.85h-1.85zM127.5 300.8h1.85v1.85h-1.85zM134.7 273.1h1.85v1.85h-1.85zM130.2 300.1h1.85v1.85h-1.85zM135.5 281.8h1.85v1.85h-1.85zM129.9 297.9h1.85v1.85h-1.85zM138.2 282.2h1.85v1.85h-1.85zM128.0 303.0h1.85v1.85h-1.85zM136.7 293.2h1.85v1.85h-1.85zM128.7 303.3h1.85v1.85h-1.85zM119.3 290.3h1.85v1.85h-1.85zM126.6 298.4h1.85v1.85h-1.85zM127.7 299.7h1.85v1.85h-1.85zM131.4 294.2h1.85v1.85h-1.85zM135.9 285.6h1.85v1.85h-1.85zM128.2 302.7h1.85v1.85h-1.85zM129.8 300.0h1.85v1.85h-1.85zM127.4 299.9h1.85v1.85h-1.85zM125.9 298.3h1.85v1.85h-1.85zM126.7 300.2h1.85v1.85h-1.85zM127.0 299.4h1.85v1.85h-1.85zM125.9 301.5h1.85v1.85h-1.85zM128.9 303.1h1.85v1.85h-1.85zM126.4 295.5h1.85v1.85h-1.85zM119.7 294.3h1.85v1.85h-1.85zM126.7 299.7h1.85v1.85h-1.85zM123.8 276.1h1.85v1.85h-1.85zM128.1 302.6h1.85v1.85h-1.85zM126.8 298.6h1.85v1.85h-1.85zM118.4 289.3h1.85v1.85h-1.85zM135.5 283.5h1.85v1.85h-1.85zM125.8 294.5h1.85v1.85h-1.85zM125.0 286.6h1.85v1.85h-1.85zM129.3 302.0h1.85v1.85h-1.85zM125.0 293.1h1.85v1.85h-1.85zM127.5 299.8h1.85v1.85h-1.85zM126.4 301.2h1.85v1.85h-1.85zM116.8 291.7h1.85v1.85h-1.85zM129.6 301.9h1.85v1.85h-1.85zM129.5 301.9h1.85v1.85h-1.85zM126.8 299.3h1.85v1.85h-1.85zM127.8 302.0h1.85v1.85h-1.85zM131.4 299.4h1.85v1.85h-1.85zM136.4 289.3h1.85v1.85h-1.85zM128.4 303.0h1.85v1.85h-1.85zM137.6 274.5h1.85v1.85h-1.85zM129.0 301.8h1.85v1.85h-1.85zM127.7 299.5h1.85v1.85h-1.85zM129.1 301.7h1.85v1.85h-1.85zM126.0 300.9h1.85v1.85h-1.85zM128.8 303.0h1.85v1.85h-1.85zM128.5 303.4h1.85v1.85h-1.85zM138.6 280.2h1.85v1.85h-1.85zM137.9 296.0h1.85v1.85h-1.85zM130.1 300.6h1.85v1.85h-1.85zM132.6 295.5h1.85v1.85h-1.85zM125.6 295.5h1.85v1.85h-1.85zM125.2 296.9h1.85v1.85h-1.85zM134.8 288.7h1.85v1.85h-1.85zM131.2 300.9h1.85v1.85h-1.85zM129.5 299.2h1.85v1.85h-1.85zM136.9 295.8h1.85v1.85h-1.85zM128.7 303.2h1.85v1.85h-1.85zM126.4 298.5h1.85v1.85h-1.85zM136.2 278.8h1.85v1.85h-1.85zM135.9 282.0h1.85v1.85h-1.85zM129.4 302.5h1.85v1.85h-1.85zM131.2 293.8h1.85v1.85h-1.85zM128.3 302.8h1.85v1.85h-1.85zM130.7 292.7h1.85v1.85h-1.85zM129.0 301.6h1.85v1.85h-1.85zM130.5 300.2h1.85v1.85h-1.85zM129.7 299.3h1.85v1.85h-1.85zM132.2 282.9h1.85v1.85h-1.85zM132.2 291.4h1.85v1.85h-1.85zM126.3 298.5h1.85v1.85h-1.85zM124.3 288.7h1.85v1.85h-1.85zM129.4 301.4h1.85v1.85h-1.85zM113.7 278.4h1.85v1.85h-1.85zM126.9 299.2h1.85v1.85h-1.85zM128.4 303.4h1.85v1.85h-1.85zM132.8 290.2h1.85v1.85h-1.85zM131.5 287.2h1.85v1.85h-1.85zM127.4 299.9h1.85v1.85h-1.85zM128.2 302.9h1.85v1.85h-1.85zM127.9 301.5h1.85v1.85h-1.85zM127.2 296.8h1.85v1.85h-1.85zM127.8 299.9h1.85v1.85h-1.85zM127.5 302.2h1.85v1.85h-1.85zM123.6 296.2h1.85v1.85h-1.85zM137.4 289.2h1.85v1.85h-1.85zM129.8 302.7h1.85v1.85h-1.85zM131.9 299.3h1.85v1.85h-1.85zM130.1 300.6h1.85v1.85h-1.85zM128.5 303.3h1.85v1.85h-1.85zM130.7 292.5h1.85v1.85h-1.85zM130.9 292.7h1.85v1.85h-1.85zM130.6 301.0h1.85v1.85h-1.85zM129.7 299.0h1.85v1.85h-1.85zM124.9 287.0h1.85v1.85h-1.85zM133.7 289.0h1.85v1.85h-1.85zM139.4 279.6h1.85v1.85h-1.85zM131.3 301.3h1.85v1.85h-1.85zM124.4 289.9h1.85v1.85h-1.85zM128.3 302.6h1.85v1.85h-1.85zM128.6 303.6h1.85v1.85h-1.85zM136.4 282.1h1.85v1.85h-1.85zM126.8 299.7h1.85v1.85h-1.85zM129.9 301.6h1.85v1.85h-1.85zM134.0 292.0h1.85v1.85h-1.85zM129.9 301.4h1.85v1.85h-1.85zM129.3 302.3h1.85v1.85h-1.85zM128.0 302.3h1.85v1.85h-1.85zM130.5 297.1h1.85v1.85h-1.85zM129.6 301.8h1.85v1.85h-1.85zM126.9 296.5h1.85v1.85h-1.85zM137.0 282.9h1.85v1.85h-1.85zM126.3 292.1h1.85v1.85h-1.85zM129.2 302.9h1.85v1.85h-1.85zM124.2 297.7h1.85v1.85h-1.85zM129.7 300.8h1.85v1.85h-1.85zM136.4 289.1h1.85v1.85h-1.85zM136.9 284.2h1.85v1.85h-1.85zM127.1 300.5h1.85v1.85h-1.85zM128.5 303.3h1.85v1.85h-1.85zM127.2 299.3h1.85v1.85h-1.85zM136.6 283.5h1.85v1.85h-1.85zM126.5 294.7h1.85v1.85h-1.85zM127.2 299.5h1.85v1.85h-1.85zM123.6 287.7h1.85v1.85h-1.85zM132.7 291.2h1.85v1.85h-1.85zM128.5 303.3h1.85v1.85h-1.85zM126.1 292.8h1.85v1.85h-1.85zM128.3 302.3h1.85v1.85h-1.85zM134.1 290.2h1.85v1.85h-1.85zM130.5 298.5h1.85v1.85h-1.85zM125.7 297.6h1.85v1.85h-1.85zM129.4 302.3h1.85v1.85h-1.85zM125.6 297.2h1.85v1.85h-1.85zM130.3 301.0h1.85v1.85h-1.85zM128.2 303.2h1.85v1.85h-1.85zM132.9 282.0h1.85v1.85h-1.85zM124.9 298.0h1.85v1.85h-1.85zM123.3 299.3h1.85v1.85h-1.85zM129.5 301.2h1.85v1.85h-1.85zM125.3 288.0h1.85v1.85h-1.85zM126.9 298.4h1.85v1.85h-1.85zM128.9 303.3h1.85v1.85h-1.85zM129.0 303.1h1.85v1.85h-1.85zM125.0 294.3h1.85v1.85h-1.85zM130.9 297.7h1.85v1.85h-1.85zM131.9 298.3h1.85v1.85h-1.85zM132.7 285.7h1.85v1.85h-1.85zM120.9 271.6h1.85v1.85h-1.85zM132.7 288.6h1.85v1.85h-1.85zM127.1 299.8h1.85v1.85h-1.85zM129.8 298.2h1.85v1.85h-1.85zM131.3 296.8h1.85v1.85h-1.85zM128.0 302.5h1.85v1.85h-1.85zM125.4 299.1h1.85v1.85h-1.85zM129.8 300.3h1.85v1.85h-1.85zM127.7 301.8h1.85v1.85h-1.85zM130.5 296.1h1.85v1.85h-1.85zM122.2 280.7h1.85v1.85h-1.85zM132.2 297.5h1.85v1.85h-1.85zM126.2 291.2h1.85v1.85h-1.85zM126.4 298.3h1.85v1.85h-1.85zM126.5 298.9h1.85v1.85h-1.85zM130.2 295.7h1.85v1.85h-1.85zM125.7 293.9h1.85v1.85h-1.85zM132.4 291.0h1.85v1.85h-1.85zM129.5 301.3h1.85v1.85h-1.85zM116.6 278.8h1.85v1.85h-1.85zM123.7 289.7h1.85v1.85h-1.85zM129.0 302.1h1.85v1.85h-1.85zM127.9 300.8h1.85v1.85h-1.85zM129.1 301.3h1.85v1.85h-1.85zM132.1 293.5h1.85v1.85h-1.85zM126.7 296.0h1.85v1.85h-1.85zM135.2 274.2h1.85v1.85h-1.85zM127.3 298.7h1.85v1.85h-1.85zM131.8 293.9h1.85v1.85h-1.85zM124.8 290.2h1.85v1.85h-1.85zM126.9 301.9h1.85v1.85h-1.85zM125.7 288.1h1.85v1.85h-1.85zM126.9 295.4h1.85v1.85h-1.85zM126.4 293.2h1.85v1.85h-1.85zM134.1 286.9h1.85v1.85h-1.85zM126.7 300.9h1.85v1.85h-1.85zM128.9 303.3h1.85v1.85h-1.85zM134.8 291.9h1.85v1.85h-1.85zM128.1 302.7h1.85v1.85h-1.85zM124.5 293.0h1.85v1.85h-1.85zM124.3 289.9h1.85v1.85h-1.85zM130.1 296.4h1.85v1.85h-1.85zM127.0 295.8h1.85v1.85h-1.85zM135.2 284.9h1.85v1.85h-1.85zM129.7 298.3h1.85v1.85h-1.85zM130.1 298.8h1.85v1.85h-1.85zM127.6 298.9h1.85v1.85h-1.85zM127.4 297.8h1.85v1.85h-1.85zM127.5 298.7h1.85v1.85h-1.85zM129.5 301.8h1.85v1.85h-1.85zM125.7 298.3h1.85v1.85h-1.85zM133.8 273.7h1.85v1.85h-1.85zM125.2 294.8h1.85v1.85h-1.85zM132.0 294.8h1.85v1.85h-1.85zM130.3 296.4h1.85v1.85h-1.85zM127.6 301.6h1.85v1.85h-1.85zM116.9 284.9h1.85v1.85h-1.85zM129.8 298.0h1.85v1.85h-1.85zM122.3 275.5h1.85v1.85h-1.85zM123.5 297.3h1.85v1.85h-1.85zM131.1 292.9h1.85v1.85h-1.85zM133.8 284.2h1.85v1.85h-1.85zM129.2 302.5h1.85v1.85h-1.85zM127.6 301.8h1.85v1.85h-1.85zM127.9 301.7h1.85v1.85h-1.85zM131.0 294.7h1.85v1.85h-1.85zM131.8 293.2h1.85v1.85h-1.85zM127.3 297.4h1.85v1.85h-1.85zM131.1 296.8h1.85v1.85h-1.85zM126.4 300.4h1.85v1.85h-1.85zM118.7 285.0h1.85v1.85h-1.85zM129.8 298.8h1.85v1.85h-1.85zM134.0 294.6h1.85v1.85h-1.85zM135.5 296.0h1.85v1.85h-1.85zM125.4 299.5h1.85v1.85h-1.85zM129.2 300.6h1.85v1.85h-1.85zM126.9 296.2h1.85v1.85h-1.85zM130.6 293.6h1.85v1.85h-1.85zM130.7 295.6h1.85v1.85h-1.85zM122.5 282.1h1.85v1.85h-1.85zM124.2 286.6h1.85v1.85h-1.85zM122.3 290.2h1.85v1.85h-1.85zM135.1 287.0h1.85v1.85h-1.85zM125.1 289.3h1.85v1.85h-1.85zM124.6 289.4h1.85v1.85h-1.85zM120.8 285.2h1.85v1.85h-1.85zM124.6 292.9h1.85v1.85h-1.85zM128.0 302.2h1.85v1.85h-1.85zM133.4 282.4h1.85v1.85h-1.85zM132.8 280.8h1.85v1.85h-1.85zM128.5 303.4h1.85v1.85h-1.85zM115.9 272.8h1.85v1.85h-1.85zM136.1 282.5h1.85v1.85h-1.85zM131.1 291.7h1.85v1.85h-1.85zM119.5 277.2h1.85v1.85h-1.85zM94.4 273.8h1.85v1.85h-1.85zM127.1 300.2h1.85v1.85h-1.85zM120.7 286.2h1.85v1.85h-1.85zM127.5 301.8h1.85v1.85h-1.85zM131.7 291.4h1.85v1.85h-1.85zM129.6 301.1h1.85v1.85h-1.85zM126.3 292.0h1.85v1.85h-1.85zM130.7 292.3h1.85v1.85h-1.85zM124.1 289.1h1.85v1.85h-1.85zM129.9 300.8h1.85v1.85h-1.85zM132.2 293.8h1.85v1.85h-1.85zM129.8 300.5h1.85v1.85h-1.85zM125.3 290.3h1.85v1.85h-1.85zM125.4 297.3h1.85v1.85h-1.85zM121.7 294.8h1.85v1.85h-1.85zM128.0 301.7h1.85v1.85h-1.85zM130.6 293.1h1.85v1.85h-1.85zM134.3 288.0h1.85v1.85h-1.85zM125.5 295.6h1.85v1.85h-1.85zM131.1 300.1h1.85v1.85h-1.85zM123.4 274.2h1.85v1.85h-1.85zM138.7 284.5h1.85v1.85h-1.85zM125.5 301.4h1.85v1.85h-1.85zM128.8 302.8h1.85v1.85h-1.85zM133.3 289.1h1.85v1.85h-1.85zM127.2 296.9h1.85v1.85h-1.85zM110.7 272.2h1.85v1.85h-1.85zM124.4 284.0h1.85v1.85h-1.85zM125.3 297.0h1.85v1.85h-1.85zM122.1 297.7h1.85v1.85h-1.85zM129.3 300.2h1.85v1.85h-1.85zM125.8 298.4h1.85v1.85h-1.85zM130.1 300.7h1.85v1.85h-1.85zM114.2 278.8h1.85v1.85h-1.85zM128.4 303.2h1.85v1.85h-1.85zM125.6 287.0h1.85v1.85h-1.85zM129.3 301.9h1.85v1.85h-1.85zM131.3 292.1h1.85v1.85h-1.85zM124.8 294.9h1.85v1.85h-1.85zM133.6 290.3h1.85v1.85h-1.85zM127.3 297.3h1.85v1.85h-1.85zM125.9 294.4h1.85v1.85h-1.85zM127.1 296.2h1.85v1.85h-1.85zM126.7 299.1h1.85v1.85h-1.85zM122.6 281.7h1.85v1.85h-1.85zM130.7 297.2h1.85v1.85h-1.85zM126.7 300.9h1.85v1.85h-1.85zM130.4 298.5h1.85v1.85h-1.85zM128.7 303.4h1.85v1.85h-1.85zM132.6 290.5h1.85v1.85h-1.85zM129.9 299.7h1.85v1.85h-1.85zM131.7 292.5h1.85v1.85h-1.85zM132.0 298.4h1.85v1.85h-1.85zM126.4 299.8h1.85v1.85h-1.85zM121.5 289.7h1.85v1.85h-1.85zM132.6 293.1h1.85v1.85h-1.85zM129.3 302.2h1.85v1.85h-1.85zM129.1 301.4h1.85v1.85h-1.85zM135.0 285.0h1.85v1.85h-1.85zM132.9 298.7h1.85v1.85h-1.85zM126.8 295.1h1.85v1.85h-1.85zM128.7 302.9h1.85v1.85h-1.85zM129.7 301.6h1.85v1.85h-1.85zM129.7 300.8h1.85v1.85h-1.85zM127.7 301.4h1.85v1.85h-1.85zM129.0 301.7h1.85v1.85h-1.85zM127.9 301.3h1.85v1.85h-1.85zM129.3 302.2h1.85v1.85h-1.85zM126.8 294.5h1.85v1.85h-1.85zM128.2 303.1h1.85v1.85h-1.85zM129.7 300.3h1.85v1.85h-1.85zM127.9 300.4h1.85v1.85h-1.85zM125.3 294.4h1.85v1.85h-1.85zM130.1 300.0h1.85v1.85h-1.85zM136.1 292.3h1.85v1.85h-1.85zM124.8 292.9h1.85v1.85h-1.85zM136.0 292.5h1.85v1.85h-1.85zM125.5 296.8h1.85v1.85h-1.85zM127.5 301.8h1.85v1.85h-1.85zM128.4 303.0h1.85v1.85h-1.85zM130.8 291.8h1.85v1.85h-1.85zM129.7 300.9h1.85v1.85h-1.85zM138.9 291.1h1.85v1.85h-1.85zM130.2 297.8h1.85v1.85h-1.85zM131.4 296.5h1.85v1.85h-1.85zM131.7 291.8h1.85v1.85h-1.85zM128.5 303.4h1.85v1.85h-1.85zM124.6 295.9h1.85v1.85h-1.85zM125.7 288.0h1.85v1.85h-1.85zM124.8 294.3h1.85v1.85h-1.85zM132.2 293.2h1.85v1.85h-1.85zM119.5 285.2h1.85v1.85h-1.85zM125.0 299.5h1.85v1.85h-1.85zM134.1 293.2h1.85v1.85h-1.85zM131.6 299.7h1.85v1.85h-1.85zM125.6 298.0h1.85v1.85h-1.85zM134.9 271.4h1.85v1.85h-1.85zM129.6 299.0h1.85v1.85h-1.85zM132.8 297.2h1.85v1.85h-1.85zM135.1 273.1h1.85v1.85h-1.85zM133.1 278.1h1.85v1.85h-1.85zM127.6 299.3h1.85v1.85h-1.85zM130.6 297.8h1.85v1.85h-1.85zM127.0 300.1h1.85v1.85h-1.85zM126.9 296.4h1.85v1.85h-1.85zM127.9 300.7h1.85v1.85h-1.85zM129.5 301.2h1.85v1.85h-1.85zM120.2 284.8h1.85v1.85h-1.85zM126.4 298.3h1.85v1.85h-1.85zM125.5 291.0h1.85v1.85h-1.85zM129.7 299.6h1.85v1.85h-1.85zM134.2 291.8h1.85v1.85h-1.85zM160.8 276.1h1.85v1.85h-1.85zM131.4 293.2h1.85v1.85h-1.85zM129.5 300.7h1.85v1.85h-1.85zM130.6 297.9h1.85v1.85h-1.85zM122.8 287.4h1.85v1.85h-1.85zM134.4 297.3h1.85v1.85h-1.85zM129.3 301.8h1.85v1.85h-1.85zM134.0 293.6h1.85v1.85h-1.85zM129.9 297.7h1.85v1.85h-1.85zM117.2 285.4h1.85v1.85h-1.85zM129.4 302.0h1.85v1.85h-1.85zM134.3 286.5h1.85v1.85h-1.85zM129.9 298.1h1.85v1.85h-1.85zM128.4 303.1h1.85v1.85h-1.85zM126.3 295.5h1.85v1.85h-1.85zM134.6 277.0h1.85v1.85h-1.85zM126.4 292.4h1.85v1.85h-1.85zM135.0 289.9h1.85v1.85h-1.85zM121.4 287.5h1.85v1.85h-1.85zM132.2 293.4h1.85v1.85h-1.85zM120.8 275.9h1.85v1.85h-1.85zM139.5 274.7h1.85v1.85h-1.85zM126.7 298.8h1.85v1.85h-1.85zM128.8 303.1h1.85v1.85h-1.85zM134.9 295.0h1.85v1.85h-1.85zM119.6 281.5h1.85v1.85h-1.85zM131.6 297.3h1.85v1.85h-1.85zM131.2 298.8h1.85v1.85h-1.85zM131.4 298.9h1.85v1.85h-1.85zM137.5 289.0h1.85v1.85h-1.85zM129.3 302.6h1.85v1.85h-1.85zM131.1 290.1h1.85v1.85h-1.85zM130.6 296.4h1.85v1.85h-1.85zM126.0 296.3h1.85v1.85h-1.85zM128.8 303.3h1.85v1.85h-1.85zM128.1 301.6h1.85v1.85h-1.85zM113.7 281.7h1.85v1.85h-1.85zM125.8 299.5h1.85v1.85h-1.85zM131.2 289.6h1.85v1.85h-1.85zM126.1 299.4h1.85v1.85h-1.85zM131.8 296.8h1.85v1.85h-1.85zM130.2 295.9h1.85v1.85h-1.85zM132.1 296.5h1.85v1.85h-1.85zM128.5 303.2h1.85v1.85h-1.85zM122.1 294.7h1.85v1.85h-1.85zM131.2 289.6h1.85v1.85h-1.85zM117.5 280.6h1.85v1.85h-1.85zM131.4 297.7h1.85v1.85h-1.85zM125.3 285.5h1.85v1.85h-1.85zM115.8 292.8h1.85v1.85h-1.85zM130.2 295.7h1.85v1.85h-1.85zM123.0 297.3h1.85v1.85h-1.85zM130.0 299.0h1.85v1.85h-1.85zM123.0 294.7h1.85v1.85h-1.85zM126.7 300.5h1.85v1.85h-1.85zM134.3 296.5h1.85v1.85h-1.85zM124.7 285.4h1.85v1.85h-1.85zM124.9 297.9h1.85v1.85h-1.85zM123.3 295.3h1.85v1.85h-1.85zM129.5 301.4h1.85v1.85h-1.85zM130.0 301.2h1.85v1.85h-1.85zM126.7 299.4h1.85v1.85h-1.85zM132.6 280.6h1.85v1.85h-1.85zM133.9 288.8h1.85v1.85h-1.85zM137.2 286.5h1.85v1.85h-1.85zM125.8 290.9h1.85v1.85h-1.85zM121.8 279.0h1.85v1.85h-1.85zM131.1 290.0h1.85v1.85h-1.85zM135.7 293.6h1.85v1.85h-1.85zM126.2 298.3h1.85v1.85h-1.85zM130.4 297.6h1.85v1.85h-1.85zM127.5 300.5h1.85v1.85h-1.85zM133.2 292.5h1.85v1.85h-1.85zM127.0 300.1h1.85v1.85h-1.85zM120.9 293.7h1.85v1.85h-1.85zM128.5 303.4h1.85v1.85h-1.85zM122.8 287.4h1.85v1.85h-1.85zM127.8 301.3h1.85v1.85h-1.85zM128.9 303.1h1.85v1.85h-1.85zM128.2 303.1h1.85v1.85h-1.85zM130.5 293.5h1.85v1.85h-1.85zM127.4 302.2h1.85v1.85h-1.85zM119.3 291.8h1.85v1.85h-1.85zM121.0 285.9h1.85v1.85h-1.85zM131.2 296.1h1.85v1.85h-1.85zM132.5 294.3h1.85v1.85h-1.85zM133.3 293.8h1.85v1.85h-1.85zM127.3 299.3h1.85v1.85h-1.85zM128.4 302.9h1.85v1.85h-1.85zM130.6 296.6h1.85v1.85h-1.85zM125.1 289.1h1.85v1.85h-1.85zM126.3 299.4h1.85v1.85h-1.85zM130.0 300.6h1.85v1.85h-1.85zM124.3 289.8h1.85v1.85h-1.85zM132.9 295.0h1.85v1.85h-1.85zM130.0 300.6h1.85v1.85h-1.85zM125.4 297.3h1.85v1.85h-1.85zM125.9 289.3h1.85v1.85h-1.85zM123.5 297.4h1.85v1.85h-1.85zM126.6 297.0h1.85v1.85h-1.85zM128.0 301.0h1.85v1.85h-1.85zM133.1 296.0h1.85v1.85h-1.85zM123.1 281.0h1.85v1.85h-1.85zM126.5 294.6h1.85v1.85h-1.85zM127.0 301.1h1.85v1.85h-1.85zM122.5 273.4h1.85v1.85h-1.85zM125.7 293.3h1.85v1.85h-1.85zM125.9 289.2h1.85v1.85h-1.85zM131.7 296.1h1.85v1.85h-1.85zM132.9 293.9h1.85v1.85h-1.85zM126.9 295.6h1.85v1.85h-1.85zM133.5 295.4h1.85v1.85h-1.85zM134.9 278.8h1.85v1.85h-1.85zM132.4 281.7h1.85v1.85h-1.85zM129.4 299.7h1.85v1.85h-1.85zM131.8 295.1h1.85v1.85h-1.85zM122.1 281.2h1.85v1.85h-1.85zM129.9 298.7h1.85v1.85h-1.85zM120.6 292.3h1.85v1.85h-1.85zM133.0 290.1h1.85v1.85h-1.85zM129.3 302.2h1.85v1.85h-1.85zM126.5 298.3h1.85v1.85h-1.85zM129.8 298.0h1.85v1.85h-1.85zM128.7 303.3h1.85v1.85h-1.85zM129.6 301.8h1.85v1.85h-1.85zM126.7 300.2h1.85v1.85h-1.85zM126.6 300.7h1.85v1.85h-1.85zM132.2 299.9h1.85v1.85h-1.85zM124.4 300.3h1.85v1.85h-1.85zM135.2 296.1h1.85v1.85h-1.85zM129.2 302.1h1.85v1.85h-1.85zM123.8 276.1h1.85v1.85h-1.85zM126.1 296.4h1.85v1.85h-1.85zM128.6 303.5h1.85v1.85h-1.85zM127.8 301.2h1.85v1.85h-1.85zM127.8 300.4h1.85v1.85h-1.85zM118.6 287.3h1.85v1.85h-1.85zM124.8 295.3h1.85v1.85h-1.85zM125.8 300.5h1.85v1.85h-1.85zM126.9 300.7h1.85v1.85h-1.85zM130.0 301.1h1.85v1.85h-1.85zM128.6 303.5h1.85v1.85h-1.85zM130.2 301.5h1.85v1.85h-1.85zM130.6 296.4h1.85v1.85h-1.85zM127.2 297.8h1.85v1.85h-1.85zM135.9 279.7h1.85v1.85h-1.85zM126.8 301.1h1.85v1.85h-1.85zM139.1 285.2h1.85v1.85h-1.85zM124.7 292.4h1.85v1.85h-1.85zM129.9 300.9h1.85v1.85h-1.85zM126.7 299.4h1.85v1.85h-1.85zM128.3 302.9h1.85v1.85h-1.85zM131.6 296.0h1.85v1.85h-1.85zM130.2 295.3h1.85v1.85h-1.85zM140.2 291.5h1.85v1.85h-1.85zM126.7 296.5h1.85v1.85h-1.85zM125.1 286.1h1.85v1.85h-1.85zM133.1 284.2h1.85v1.85h-1.85zM121.9 289.8h1.85v1.85h-1.85zM128.2 302.6h1.85v1.85h-1.85zM135.3 279.4h1.85v1.85h-1.85zM132.5 296.4h1.85v1.85h-1.85zM129.7 301.2h1.85v1.85h-1.85zM129.2 302.1h1.85v1.85h-1.85zM131.3 297.6h1.85v1.85h-1.85zM127.4 301.5h1.85v1.85h-1.85zM120.0 277.2h1.85v1.85h-1.85zM125.1 294.6h1.85v1.85h-1.85zM128.1 302.1h1.85v1.85h-1.85zM132.3 289.9h1.85v1.85h-1.85zM132.0 292.1h1.85v1.85h-1.85zM127.1 296.3h1.85v1.85h-1.85zM129.1 303.0h1.85v1.85h-1.85zM132.6 297.4h1.85v1.85h-1.85zM124.9 294.8h1.85v1.85h-1.85zM124.1 285.3h1.85v1.85h-1.85zM120.8 285.6h1.85v1.85h-1.85zM128.1 301.5h1.85v1.85h-1.85zM133.4 287.4h1.85v1.85h-1.85zM131.3 297.4h1.85v1.85h-1.85zM130.6 298.2h1.85v1.85h-1.85zM127.8 301.6h1.85v1.85h-1.85zM120.2 293.0h1.85v1.85h-1.85zM123.1 290.2h1.85v1.85h-1.85zM130.4 300.2h1.85v1.85h-1.85zM128.9 302.7h1.85v1.85h-1.85zM129.9 301.2h1.85v1.85h-1.85zM123.2 291.8h1.85v1.85h-1.85zM129.4 299.8h1.85v1.85h-1.85zM133.8 290.1h1.85v1.85h-1.85zM131.2 298.0h1.85v1.85h-1.85zM129.7 301.3h1.85v1.85h-1.85zM110.1 273.3h1.85v1.85h-1.85zM131.5 288.3h1.85v1.85h-1.85zM128.7 303.1h1.85v1.85h-1.85zM131.8 296.6h1.85v1.85h-1.85zM132.6 297.0h1.85v1.85h-1.85zM130.5 297.8h1.85v1.85h-1.85zM136.7 292.2h1.85v1.85h-1.85zM127.9 302.3h1.85v1.85h-1.85zM138.0 283.4h1.85v1.85h-1.85zM129.7 301.6h1.85v1.85h-1.85zM127.2 301.4h1.85v1.85h-1.85zM125.9 297.6h1.85v1.85h-1.85zM128.9 303.0h1.85v1.85h-1.85zM144.4 286.1h1.85v1.85h-1.85zM130.5 299.8h1.85v1.85h-1.85zM128.7 303.2h1.85v1.85h-1.85zM134.8 293.5h1.85v1.85h-1.85zM131.1 297.5h1.85v1.85h-1.85zM134.7 290.3h1.85v1.85h-1.85zM129.6 299.3h1.85v1.85h-1.85zM124.0 295.8h1.85v1.85h-1.85zM127.9 302.4h1.85v1.85h-1.85zM133.7 288.3h1.85v1.85h-1.85zM126.2 290.8h1.85v1.85h-1.85zM126.4 299.2h1.85v1.85h-1.85zM119.5 294.2h1.85v1.85h-1.85zM141.1 278.4h1.85v1.85h-1.85zM122.6 279.2h1.85v1.85h-1.85zM126.0 299.9h1.85v1.85h-1.85zM126.1 295.3h1.85v1.85h-1.85zM128.3 302.8h1.85v1.85h-1.85zM123.5 275.9h1.85v1.85h-1.85zM127.8 301.7h1.85v1.85h-1.85zM126.1 296.4h1.85v1.85h-1.85zM127.8 302.3h1.85v1.85h-1.85zM127.9 301.2h1.85v1.85h-1.85zM132.3 282.3h1.85v1.85h-1.85zM128.6 303.3h1.85v1.85h-1.85zM131.1 295.9h1.85v1.85h-1.85zM134.4 282.4h1.85v1.85h-1.85zM129.7 298.8h1.85v1.85h-1.85zM133.2 296.9h1.85v1.85h-1.85zM127.6 302.1h1.85v1.85h-1.85zM121.7 284.3h1.85v1.85h-1.85zM129.7 298.6h1.85v1.85h-1.85zM135.5 281.2h1.85v1.85h-1.85zM136.4 292.9h1.85v1.85h-1.85zM130.2 300.4h1.85v1.85h-1.85zM123.5 281.6h1.85v1.85h-1.85zM129.3 302.4h1.85v1.85h-1.85zM129.1 302.8h1.85v1.85h-1.85zM126.4 300.6h1.85v1.85h-1.85zM134.7 280.2h1.85v1.85h-1.85zM130.2 295.7h1.85v1.85h-1.85zM118.9 285.5h1.85v1.85h-1.85zM131.4 299.2h1.85v1.85h-1.85zM128.3 303.0h1.85v1.85h-1.85zM130.9 298.2h1.85v1.85h-1.85zM129.5 301.7h1.85v1.85h-1.85zM132.2 292.5h1.85v1.85h-1.85zM134.2 294.8h1.85v1.85h-1.85zM137.9 291.8h1.85v1.85h-1.85zM121.4 288.3h1.85v1.85h-1.85zM125.6 292.7h1.85v1.85h-1.85zM124.4 290.0h1.85v1.85h-1.85zM129.7 298.4h1.85v1.85h-1.85zM120.3 289.2h1.85v1.85h-1.85zM126.6 300.5h1.85v1.85h-1.85zM131.5 289.9h1.85v1.85h-1.85zM129.4 300.8h1.85v1.85h-1.85zM131.2 295.5h1.85v1.85h-1.85zM128.5 303.4h1.85v1.85h-1.85zM136.3 283.6h1.85v1.85h-1.85zM119.8 289.5h1.85v1.85h-1.85zM132.6 298.8h1.85v1.85h-1.85zM127.7 299.6h1.85v1.85h-1.85zM133.6 294.7h1.85v1.85h-1.85zM133.2 292.5h1.85v1.85h-1.85zM132.0 299.1h1.85v1.85h-1.85zM130.6 293.0h1.85v1.85h-1.85zM124.7 281.8h1.85v1.85h-1.85zM121.3 281.5h1.85v1.85h-1.85zM131.5 298.4h1.85v1.85h-1.85zM127.3 299.7h1.85v1.85h-1.85zM134.9 285.4h1.85v1.85h-1.85zM129.9 297.2h1.85v1.85h-1.85zM130.4 299.9h1.85v1.85h-1.85zM133.8 298.2h1.85v1.85h-1.85zM116.5 272.0h1.85v1.85h-1.85zM128.0 301.1h1.85v1.85h-1.85zM136.8 288.8h1.85v1.85h-1.85zM128.4 303.0h1.85v1.85h-1.85zM132.0 284.9h1.85v1.85h-1.85zM140.1 289.6h1.85v1.85h-1.85zM127.7 300.9h1.85v1.85h-1.85zM135.3 294.5h1.85v1.85h-1.85zM134.6 290.3h1.85v1.85h-1.85zM126.0 299.2h1.85v1.85h-1.85zM127.1 299.3h1.85v1.85h-1.85zM122.7 299.0h1.85v1.85h-1.85zM137.9 293.2h1.85v1.85h-1.85zM126.2 292.8h1.85v1.85h-1.85zM129.3 300.9h1.85v1.85h-1.85zM126.9 298.8h1.85v1.85h-1.85zM123.3 284.4h1.85v1.85h-1.85zM123.3 273.6h1.85v1.85h-1.85zM123.8 289.0h1.85v1.85h-1.85zM126.0 300.1h1.85v1.85h-1.85zM129.3 301.2h1.85v1.85h-1.85zM135.6 289.9h1.85v1.85h-1.85zM124.9 291.4h1.85v1.85h-1.85zM137.4 280.7h1.85v1.85h-1.85zM129.2 302.9h1.85v1.85h-1.85zM127.8 300.7h1.85v1.85h-1.85zM127.8 299.8h1.85v1.85h-1.85zM127.6 299.8h1.85v1.85h-1.85zM125.3 296.9h1.85v1.85h-1.85zM116.9 291.0h1.85v1.85h-1.85zM132.8 289.1h1.85v1.85h-1.85zM125.7 292.1h1.85v1.85h-1.85zM135.4 289.6h1.85v1.85h-1.85zM123.2 290.9h1.85v1.85h-1.85zM131.5 292.6h1.85v1.85h-1.85zM131.8 295.4h1.85v1.85h-1.85zM143.4 291.3h1.85v1.85h-1.85zM129.6 298.8h1.85v1.85h-1.85zM125.3 292.8h1.85v1.85h-1.85zM124.4 279.6h1.85v1.85h-1.85zM126.4 297.3h1.85v1.85h-1.85zM131.1 297.1h1.85v1.85h-1.85zM130.4 299.0h1.85v1.85h-1.85zM124.3 282.7h1.85v1.85h-1.85zM129.6 301.2h1.85v1.85h-1.85zM127.4 302.2h1.85v1.85h-1.85zM126.7 297.7h1.85v1.85h-1.85zM129.0 303.2h1.85v1.85h-1.85zM125.4 290.7h1.85v1.85h-1.85zM128.0 301.5h1.85v1.85h-1.85zM133.3 290.6h1.85v1.85h-1.85zM131.8 285.9h1.85v1.85h-1.85zM126.3 297.2h1.85v1.85h-1.85zM128.2 302.5h1.85v1.85h-1.85zM130.9 293.8h1.85v1.85h-1.85zM131.2 295.7h1.85v1.85h-1.85zM127.2 298.6h1.85v1.85h-1.85zM127.9 300.6h1.85v1.85h-1.85zM126.4 296.7h1.85v1.85h-1.85zM128.1 301.9h1.85v1.85h-1.85zM133.6 293.0h1.85v1.85h-1.85zM130.4 297.4h1.85v1.85h-1.85zM136.6 283.0h1.85v1.85h-1.85zM133.2 290.5h1.85v1.85h-1.85zM127.2 301.1h1.85v1.85h-1.85zM134.2 298.9h1.85v1.85h-1.85zM128.1 301.5h1.85v1.85h-1.85zM126.7 297.5h1.85v1.85h-1.85zM128.0 301.7h1.85v1.85h-1.85zM133.4 286.7h1.85v1.85h-1.85zM124.8 295.5h1.85v1.85h-1.85zM136.2 296.4h1.85v1.85h-1.85zM115.9 271.6h1.85v1.85h-1.85zM124.1 278.1h1.85v1.85h-1.85zM124.6 282.0h1.85v1.85h-1.85zM123.4 299.1h1.85v1.85h-1.85zM128.5 303.3h1.85v1.85h-1.85zM128.2 302.5h1.85v1.85h-1.85zM131.5 289.7h1.85v1.85h-1.85zM135.9 283.7h1.85v1.85h-1.85zM133.4 294.0h1.85v1.85h-1.85zM129.4 300.7h1.85v1.85h-1.85zM131.4 300.2h1.85v1.85h-1.85zM131.2 295.6h1.85v1.85h-1.85zM120.5 290.4h1.85v1.85h-1.85zM116.2 291.2h1.85v1.85h-1.85zM139.8 273.6h1.85v1.85h-1.85zM129.6 300.5h1.85v1.85h-1.85zM123.2 289.5h1.85v1.85h-1.85zM132.5 299.3h1.85v1.85h-1.85zM135.2 290.3h1.85v1.85h-1.85zM108.4 278.6h1.85v1.85h-1.85zM131.8 288.9h1.85v1.85h-1.85zM128.3 302.6h1.85v1.85h-1.85zM126.9 297.4h1.85v1.85h-1.85zM137.5 287.0h1.85v1.85h-1.85zM130.0 301.1h1.85v1.85h-1.85zM129.5 299.7h1.85v1.85h-1.85zM127.6 299.7h1.85v1.85h-1.85zM127.3 297.7h1.85v1.85h-1.85zM132.6 295.7h1.85v1.85h-1.85zM124.9 297.9h1.85v1.85h-1.85zM138.9 278.2h1.85v1.85h-1.85zM129.0 302.9h1.85v1.85h-1.85zM126.5 295.7h1.85v1.85h-1.85zM127.2 298.6h1.85v1.85h-1.85zM129.0 302.2h1.85v1.85h-1.85zM125.6 296.0h1.85v1.85h-1.85zM134.3 287.7h1.85v1.85h-1.85zM128.5 303.4h1.85v1.85h-1.85zM123.7 294.1h1.85v1.85h-1.85zM135.4 276.7h1.85v1.85h-1.85zM122.5 292.4h1.85v1.85h-1.85zM133.3 299.0h1.85v1.85h-1.85zM130.6 294.5h1.85v1.85h-1.85zM127.8 301.8h1.85v1.85h-1.85zM128.6 303.5h1.85v1.85h-1.85zM129.4 301.7h1.85v1.85h-1.85zM127.3 297.3h1.85v1.85h-1.85zM127.7 301.6h1.85v1.85h-1.85zM131.1 290.0h1.85v1.85h-1.85zM134.6 296.5h1.85v1.85h-1.85zM132.3 294.6h1.85v1.85h-1.85zM131.8 293.2h1.85v1.85h-1.85zM124.7 289.9h1.85v1.85h-1.85zM132.1 293.9h1.85v1.85h-1.85zM127.9 302.1h1.85v1.85h-1.85zM117.9 276.8h1.85v1.85h-1.85zM137.3 281.6h1.85v1.85h-1.85zM134.4 291.8h1.85v1.85h-1.85zM125.7 296.1h1.85v1.85h-1.85zM128.9 302.3h1.85v1.85h-1.85zM138.1 284.5h1.85v1.85h-1.85zM127.3 301.9h1.85v1.85h-1.85zM128.9 302.5h1.85v1.85h-1.85zM132.1 292.3h1.85v1.85h-1.85zM130.8 297.3h1.85v1.85h-1.85zM127.4 300.3h1.85v1.85h-1.85zM127.8 301.9h1.85v1.85h-1.85zM128.5 303.2h1.85v1.85h-1.85zM129.4 301.0h1.85v1.85h-1.85zM125.8 294.6h1.85v1.85h-1.85zM130.2 299.3h1.85v1.85h-1.85zM131.0 298.6h1.85v1.85h-1.85zM135.9 273.0h1.85v1.85h-1.85zM128.1 302.1h1.85v1.85h-1.85zM130.2 301.0h1.85v1.85h-1.85zM135.8 280.6h1.85v1.85h-1.85zM129.6 299.6h1.85v1.85h-1.85zM129.7 298.5h1.85v1.85h-1.85zM128.1 302.8h1.85v1.85h-1.85zM126.1 300.5h1.85v1.85h-1.85zM130.2 295.6h1.85v1.85h-1.85zM132.0 292.6h1.85v1.85h-1.85zM126.1 290.5h1.85v1.85h-1.85zM128.4 303.0h1.85v1.85h-1.85zM130.5 301.7h1.85v1.85h-1.85zM124.1 294.4h1.85v1.85h-1.85zM130.1 297.0h1.85v1.85h-1.85zM128.9 302.1h1.85v1.85h-1.85zM121.6 293.3h1.85v1.85h-1.85zM123.4 296.7h1.85v1.85h-1.85zM132.8 287.2h1.85v1.85h-1.85zM130.7 295.7h1.85v1.85h-1.85zM126.5 301.1h1.85v1.85h-1.85zM127.4 300.9h1.85v1.85h-1.85zM128.6 303.4h1.85v1.85h-1.85zM124.4 299.5h1.85v1.85h-1.85zM132.4 289.8h1.85v1.85h-1.85zM131.7 290.1h1.85v1.85h-1.85zM129.7 300.4h1.85v1.85h-1.85zM127.4 300.9h1.85v1.85h-1.85zM130.1 300.6h1.85v1.85h-1.85zM133.8 289.4h1.85v1.85h-1.85zM122.8 282.9h1.85v1.85h-1.85zM131.2 291.3h1.85v1.85h-1.85zM130.7 298.3h1.85v1.85h-1.85zM152.6 275.9h1.85v1.85h-1.85zM127.0 298.5h1.85v1.85h-1.85zM131.9 285.0h1.85v1.85h-1.85zM133.1 284.8h1.85v1.85h-1.85zM132.8 295.5h1.85v1.85h-1.85zM128.2 301.9h1.85v1.85h-1.85zM128.5 303.3h1.85v1.85h-1.85zM129.6 301.7h1.85v1.85h-1.85zM126.1 290.4h1.85v1.85h-1.85zM126.0 294.7h1.85v1.85h-1.85zM134.3 297.3h1.85v1.85h-1.85zM125.1 295.1h1.85v1.85h-1.85zM129.5 300.4h1.85v1.85h-1.85zM131.6 293.7h1.85v1.85h-1.85zM127.0 300.2h1.85v1.85h-1.85zM124.3 298.5h1.85v1.85h-1.85zM129.7 300.0h1.85v1.85h-1.85zM136.0 275.6h1.85v1.85h-1.85zM130.2 301.3h1.85v1.85h-1.85zM130.5 298.5h1.85v1.85h-1.85zM129.3 300.2h1.85v1.85h-1.85zM132.9 299.3h1.85v1.85h-1.85zM138.5 289.4h1.85v1.85h-1.85zM129.7 301.8h1.85v1.85h-1.85zM127.2 298.4h1.85v1.85h-1.85zM130.9 291.0h1.85v1.85h-1.85zM127.3 299.0h1.85v1.85h-1.85zM129.9 297.1h1.85v1.85h-1.85zM131.9 296.2h1.85v1.85h-1.85zM132.8 295.7h1.85v1.85h-1.85zM130.0 301.7h1.85v1.85h-1.85zM135.2 292.1h1.85v1.85h-1.85zM132.9 278.8h1.85v1.85h-1.85zM127.0 297.0h1.85v1.85h-1.85zM132.3 282.8h1.85v1.85h-1.85zM127.6 302.1h1.85v1.85h-1.85zM130.3 297.5h1.85v1.85h-1.85zM127.5 300.5h1.85v1.85h-1.85zM126.2 298.8h1.85v1.85h-1.85zM128.0 301.7h1.85v1.85h-1.85zM129.8 301.2h1.85v1.85h-1.85zM126.6 293.5h1.85v1.85h-1.85zM132.3 288.6h1.85v1.85h-1.85zM129.8 301.8h1.85v1.85h-1.85zM124.8 288.5h1.85v1.85h-1.85zM122.4 296.8h1.85v1.85h-1.85zM132.1 297.2h1.85v1.85h-1.85zM126.8 297.1h1.85v1.85h-1.85zM127.8 301.3h1.85v1.85h-1.85zM124.9 297.1h1.85v1.85h-1.85zM125.4 292.3h1.85v1.85h-1.85zM127.2 297.0h1.85v1.85h-1.85zM130.9 296.9h1.85v1.85h-1.85zM129.6 299.0h1.85v1.85h-1.85zM131.7 292.7h1.85v1.85h-1.85zM131.7 291.4h1.85v1.85h-1.85zM130.4 296.7h1.85v1.85h-1.85zM133.5 291.3h1.85v1.85h-1.85zM127.9 300.5h1.85v1.85h-1.85zM133.3 284.8h1.85v1.85h-1.85zM130.6 301.4h1.85v1.85h-1.85zM131.2 294.6h1.85v1.85h-1.85zM124.7 296.5h1.85v1.85h-1.85zM132.1 296.4h1.85v1.85h-1.85zM125.6 296.4h1.85v1.85h-1.85zM129.5 301.4h1.85v1.85h-1.85zM127.4 298.1h1.85v1.85h-1.85zM125.8 296.1h1.85v1.85h-1.85zM128.1 302.7h1.85v1.85h-1.85zM131.1 295.8h1.85v1.85h-1.85zM131.1 294.7h1.85v1.85h-1.85zM130.6 293.3h1.85v1.85h-1.85zM136.2 290.6h1.85v1.85h-1.85zM129.0 301.9h1.85v1.85h-1.85zM125.8 291.7h1.85v1.85h-1.85zM126.6 294.8h1.85v1.85h-1.85zM129.2 302.3h1.85v1.85h-1.85zM130.2 297.3h1.85v1.85h-1.85zM126.8 298.8h1.85v1.85h-1.85zM135.3 294.8h1.85v1.85h-1.85zM128.1 302.7h1.85v1.85h-1.85zM126.5 299.4h1.85v1.85h-1.85zM128.2 302.6h1.85v1.85h-1.85zM119.7 275.1h1.85v1.85h-1.85zM131.9 285.1h1.85v1.85h-1.85zM128.1 301.5h1.85v1.85h-1.85zM130.9 294.3h1.85v1.85h-1.85zM128.2 302.6h1.85v1.85h-1.85zM131.2 294.0h1.85v1.85h-1.85zM128.0 302.3h1.85v1.85h-1.85zM131.8 291.0h1.85v1.85h-1.85zM132.1 292.9h1.85v1.85h-1.85zM134.4 276.5h1.85v1.85h-1.85zM129.7 300.4h1.85v1.85h-1.85zM128.8 302.5h1.85v1.85h-1.85zM121.9 294.8h1.85v1.85h-1.85zM129.4 302.1h1.85v1.85h-1.85zM124.6 285.7h1.85v1.85h-1.85zM124.4 281.2h1.85v1.85h-1.85zM126.2 299.5h1.85v1.85h-1.85zM129.6 301.5h1.85v1.85h-1.85zM126.8 294.8h1.85v1.85h-1.85zM120.8 280.0h1.85v1.85h-1.85zM132.9 279.0h1.85v1.85h-1.85zM125.0 293.5h1.85v1.85h-1.85zM133.6 296.0h1.85v1.85h-1.85zM129.3 301.1h1.85v1.85h-1.85zM133.1 292.9h1.85v1.85h-1.85zM133.3 289.9h1.85v1.85h-1.85zM125.7 299.2h1.85v1.85h-1.85zM127.0 297.4h1.85v1.85h-1.85zM130.1 300.7h1.85v1.85h-1.85zM132.5 289.0h1.85v1.85h-1.85zM127.5 299.5h1.85v1.85h-1.85zM128.3 302.9h1.85v1.85h-1.85zM131.7 297.0h1.85v1.85h-1.85zM124.8 286.2h1.85v1.85h-1.85zM136.0 281.3h1.85v1.85h-1.85zM134.7 293.8h1.85v1.85h-1.85zM135.6 289.1h1.85v1.85h-1.85zM129.0 302.5h1.85v1.85h-1.85zM127.8 300.9h1.85v1.85h-1.85zM129.7 302.4h1.85v1.85h-1.85zM128.6 303.6h1.85v1.85h-1.85zM127.2 298.8h1.85v1.85h-1.85zM131.0 292.7h1.85v1.85h-1.85zM131.3 291.4h1.85v1.85h-1.85zM129.5 302.2h1.85v1.85h-1.85zM131.0 296.4h1.85v1.85h-1.85zM122.2 289.8h1.85v1.85h-1.85zM127.4 300.6h1.85v1.85h-1.85zM117.9 293.0h1.85v1.85h-1.85zM132.4 295.5h1.85v1.85h-1.85zM130.0 301.1h1.85v1.85h-1.85zM127.9 300.5h1.85v1.85h-1.85zM123.5 285.3h1.85v1.85h-1.85zM127.7 302.0h1.85v1.85h-1.85zM126.3 299.5h1.85v1.85h-1.85zM126.4 292.7h1.85v1.85h-1.85zM123.3 282.9h1.85v1.85h-1.85zM125.8 288.3h1.85v1.85h-1.85zM119.1 280.2h1.85v1.85h-1.85zM128.5 303.3h1.85v1.85h-1.85zM130.0 301.5h1.85v1.85h-1.85zM129.5 299.6h1.85v1.85h-1.85zM127.0 302.5h1.85v1.85h-1.85zM130.9 291.4h1.85v1.85h-1.85zM134.0 287.5h1.85v1.85h-1.85zM117.7 278.8h1.85v1.85h-1.85zM129.6 300.0h1.85v1.85h-1.85zM128.9 302.3h1.85v1.85h-1.85zM132.0 298.6h1.85v1.85h-1.85zM132.8 292.3h1.85v1.85h-1.85zM126.6 301.9h1.85v1.85h-1.85zM129.7 298.9h1.85v1.85h-1.85zM132.9 290.1h1.85v1.85h-1.85zM126.8 302.3h1.85v1.85h-1.85zM120.7 284.3h1.85v1.85h-1.85zM129.2 300.8h1.85v1.85h-1.85zM122.1 287.2h1.85v1.85h-1.85zM134.6 295.3h1.85v1.85h-1.85zM127.9 300.6h1.85v1.85h-1.85zM131.2 294.9h1.85v1.85h-1.85zM123.8 299.1h1.85v1.85h-1.85zM130.1 296.3h1.85v1.85h-1.85zM129.6 298.6h1.85v1.85h-1.85zM127.9 302.5h1.85v1.85h-1.85zM120.2 284.2h1.85v1.85h-1.85zM118.1 279.3h1.85v1.85h-1.85zM119.4 285.6h1.85v1.85h-1.85zM132.1 297.0h1.85v1.85h-1.85zM120.3 275.3h1.85v1.85h-1.85zM125.8 296.1h1.85v1.85h-1.85zM116.0 278.4h1.85v1.85h-1.85zM136.6 285.4h1.85v1.85h-1.85zM133.1 285.6h1.85v1.85h-1.85zM125.7 299.3h1.85v1.85h-1.85zM125.1 295.3h1.85v1.85h-1.85zM131.7 295.0h1.85v1.85h-1.85zM127.3 299.4h1.85v1.85h-1.85zM128.7 303.5h1.85v1.85h-1.85zM132.7 292.6h1.85v1.85h-1.85zM121.2 287.9h1.85v1.85h-1.85zM127.8 301.9h1.85v1.85h-1.85zM128.2 302.0h1.85v1.85h-1.85zM131.5 297.7h1.85v1.85h-1.85zM133.9 289.1h1.85v1.85h-1.85zM117.7 284.0h1.85v1.85h-1.85zM121.0 284.3h1.85v1.85h-1.85zM129.7 302.3h1.85v1.85h-1.85zM126.6 299.1h1.85v1.85h-1.85zM136.8 274.4h1.85v1.85h-1.85zM125.8 300.6h1.85v1.85h-1.85zM128.0 302.0h1.85v1.85h-1.85zM123.9 291.9h1.85v1.85h-1.85zM130.7 296.6h1.85v1.85h-1.85zM130.8 297.8h1.85v1.85h-1.85zM127.0 296.9h1.85v1.85h-1.85zM121.5 279.8h1.85v1.85h-1.85zM127.9 301.2h1.85v1.85h-1.85zM131.5 299.2h1.85v1.85h-1.85zM135.4 296.4h1.85v1.85h-1.85zM125.6 298.9h1.85v1.85h-1.85zM132.0 296.3h1.85v1.85h-1.85zM124.0 292.0h1.85v1.85h-1.85zM121.2 283.7h1.85v1.85h-1.85zM132.6 299.2h1.85v1.85h-1.85zM114.8 272.7h1.85v1.85h-1.85zM129.3 302.4h1.85v1.85h-1.85zM122.2 292.6h1.85v1.85h-1.85zM122.6 283.4h1.85v1.85h-1.85zM126.7 301.5h1.85v1.85h-1.85zM118.9 276.1h1.85v1.85h-1.85zM118.3 282.7h1.85v1.85h-1.85zM125.0 297.4h1.85v1.85h-1.85zM127.1 296.1h1.85v1.85h-1.85zM126.2 291.0h1.85v1.85h-1.85zM125.3 298.5h1.85v1.85h-1.85zM122.6 271.6h1.85v1.85h-1.85zM116.3 278.9h1.85v1.85h-1.85zM119.5 276.1h1.85v1.85h-1.85zM125.0 288.9h1.85v1.85h-1.85zM120.0 289.7h1.85v1.85h-1.85zM122.3 282.2h1.85v1.85h-1.85zM124.4 279.7h1.85v1.85h-1.85zM125.0 293.0h1.85v1.85h-1.85zM127.4 299.9h1.85v1.85h-1.85zM124.0 282.5h1.85v1.85h-1.85zM118.2 293.2h1.85v1.85h-1.85zM118.7 280.9h1.85v1.85h-1.85zM119.2 282.0h1.85v1.85h-1.85zM122.7 292.9h1.85v1.85h-1.85zM123.8 292.8h1.85v1.85h-1.85zM123.6 279.6h1.85v1.85h-1.85zM120.8 286.3h1.85v1.85h-1.85zM123.2 272.6h1.85v1.85h-1.85zM125.8 293.5h1.85v1.85h-1.85zM120.5 277.8h1.85v1.85h-1.85zM123.9 277.1h1.85v1.85h-1.85zM125.5 297.5h1.85v1.85h-1.85zM128.4 303.4h1.85v1.85h-1.85zM133.7 284.6h1.85v1.85h-1.85zM122.8 286.5h1.85v1.85h-1.85zM120.8 274.3h1.85v1.85h-1.85zM125.8 297.7h1.85v1.85h-1.85zM119.7 287.8h1.85v1.85h-1.85zM128.8 303.3h1.85v1.85h-1.85zM124.0 296.3h1.85v1.85h-1.85zM125.1 284.3h1.85v1.85h-1.85zM123.7 289.6h1.85v1.85h-1.85zM131.6 295.4h1.85v1.85h-1.85zM116.4 276.1h1.85v1.85h-1.85zM109.1 282.8h1.85v1.85h-1.85zM124.7 299.6h1.85v1.85h-1.85zM124.4 293.5h1.85v1.85h-1.85zM121.4 292.9h1.85v1.85h-1.85zM125.2 297.5h1.85v1.85h-1.85zM120.7 290.8h1.85v1.85h-1.85zM118.5 283.6h1.85v1.85h-1.85zM123.9 289.7h1.85v1.85h-1.85zM124.4 292.3h1.85v1.85h-1.85zM125.1 298.7h1.85v1.85h-1.85zM126.1 300.1h1.85v1.85h-1.85zM129.8 299.3h1.85v1.85h-1.85zM126.9 297.5h1.85v1.85h-1.85zM125.0 288.1h1.85v1.85h-1.85zM122.3 277.0h1.85v1.85h-1.85zM124.1 293.2h1.85v1.85h-1.85zM128.2 302.2h1.85v1.85h-1.85zM133.3 290.9h1.85v1.85h-1.85zM122.0 290.9h1.85v1.85h-1.85zM122.0 283.8h1.85v1.85h-1.85zM123.2 287.6h1.85v1.85h-1.85zM123.2 273.8h1.85v1.85h-1.85zM122.5 292.2h1.85v1.85h-1.85zM122.2 290.0h1.85v1.85h-1.85zM131.0 296.0h1.85v1.85h-1.85zM127.3 297.5h1.85v1.85h-1.85zM117.5 273.9h1.85v1.85h-1.85zM110.9 271.8h1.85v1.85h-1.85zM118.8 275.5h1.85v1.85h-1.85zM125.4 297.5h1.85v1.85h-1.85zM121.4 278.7h1.85v1.85h-1.85zM120.7 282.0h1.85v1.85h-1.85zM118.1 286.3h1.85v1.85h-1.85zM125.0 293.7h1.85v1.85h-1.85zM121.2 282.3h1.85v1.85h-1.85zM124.0 284.3h1.85v1.85h-1.85zM121.8 278.8h1.85v1.85h-1.85zM136.5 286.9h1.85v1.85h-1.85zM119.8 285.6h1.85v1.85h-1.85zM118.7 275.4h1.85v1.85h-1.85zM117.2 285.1h1.85v1.85h-1.85zM121.6 290.1h1.85v1.85h-1.85zM123.4 301.1h1.85v1.85h-1.85zM117.4 272.1h1.85v1.85h-1.85zM134.5 295.2h1.85v1.85h-1.85zM125.1 294.6h1.85v1.85h-1.85zM122.8 288.0h1.85v1.85h-1.85zM125.3 294.6h1.85v1.85h-1.85zM133.2 293.0h1.85v1.85h-1.85zM123.5 282.9h1.85v1.85h-1.85zM123.0 272.1h1.85v1.85h-1.85zM122.4 277.8h1.85v1.85h-1.85zM121.4 283.5h1.85v1.85h-1.85zM117.0 290.3h1.85v1.85h-1.85zM126.1 294.3h1.85v1.85h-1.85zM117.7 276.8h1.85v1.85h-1.85zM129.4 301.8h1.85v1.85h-1.85zM123.6 278.5h1.85v1.85h-1.85zM125.6 296.3h1.85v1.85h-1.85zM124.4 285.9h1.85v1.85h-1.85zM123.5 280.5h1.85v1.85h-1.85zM123.8 288.8h1.85v1.85h-1.85zM133.4 291.0h1.85v1.85h-1.85zM124.2 298.5h1.85v1.85h-1.85zM124.9 298.7h1.85v1.85h-1.85zM129.7 301.6h1.85v1.85h-1.85zM117.2 277.3h1.85v1.85h-1.85zM121.4 291.6h1.85v1.85h-1.85zM132.3 288.4h1.85v1.85h-1.85zM125.3 297.9h1.85v1.85h-1.85zM122.2 293.2h1.85v1.85h-1.85zM114.9 271.5h1.85v1.85h-1.85zM123.7 286.8h1.85v1.85h-1.85zM121.5 287.4h1.85v1.85h-1.85zM131.3 297.7h1.85v1.85h-1.85zM119.2 274.1h1.85v1.85h-1.85zM120.2 282.5h1.85v1.85h-1.85zM122.7 290.3h1.85v1.85h-1.85zM122.6 274.0h1.85v1.85h-1.85zM120.4 295.7h1.85v1.85h-1.85zM123.6 289.0h1.85v1.85h-1.85zM116.7 274.1h1.85v1.85h-1.85zM116.5 283.1h1.85v1.85h-1.85zM129.0 302.8h1.85v1.85h-1.85zM123.4 295.1h1.85v1.85h-1.85zM130.0 298.1h1.85v1.85h-1.85zM132.7 297.7h1.85v1.85h-1.85zM127.3 302.2h1.85v1.85h-1.85zM116.9 277.4h1.85v1.85h-1.85zM120.9 281.3h1.85v1.85h-1.85zM122.0 283.5h1.85v1.85h-1.85zM119.9 276.9h1.85v1.85h-1.85zM126.0 301.0h1.85v1.85h-1.85zM131.4 291.8h1.85v1.85h-1.85zM121.5 291.0h1.85v1.85h-1.85zM120.1 284.4h1.85v1.85h-1.85zM125.0 296.3h1.85v1.85h-1.85zM129.7 300.9h1.85v1.85h-1.85zM129.3 301.6h1.85v1.85h-1.85zM113.5 276.2h1.85v1.85h-1.85zM129.0 303.0h1.85v1.85h-1.85zM121.6 286.5h1.85v1.85h-1.85zM118.5 272.6h1.85v1.85h-1.85zM124.3 290.4h1.85v1.85h-1.85zM125.9 291.1h1.85v1.85h-1.85zM125.8 290.7h1.85v1.85h-1.85zM122.6 275.7h1.85v1.85h-1.85zM117.8 296.1h1.85v1.85h-1.85zM132.6 298.8h1.85v1.85h-1.85zM141.6 293.4h1.85v1.85h-1.85zM125.9 299.2h1.85v1.85h-1.85zM125.3 293.3h1.85v1.85h-1.85zM122.3 279.2h1.85v1.85h-1.85zM133.0 286.0h1.85v1.85h-1.85zM128.1 302.5h1.85v1.85h-1.85zM117.9 273.0h1.85v1.85h-1.85zM132.8 295.1h1.85v1.85h-1.85zM102.5 274.7h1.85v1.85h-1.85zM123.6 288.5h1.85v1.85h-1.85zM119.0 282.8h1.85v1.85h-1.85zM123.7 289.8h1.85v1.85h-1.85zM118.9 276.1h1.85v1.85h-1.85zM123.8 285.5h1.85v1.85h-1.85zM124.5 292.8h1.85v1.85h-1.85zM120.8 275.9h1.85v1.85h-1.85zM118.9 288.6h1.85v1.85h-1.85zM121.2 294.0h1.85v1.85h-1.85zM128.4 302.8h1.85v1.85h-1.85zM127.5 301.6h1.85v1.85h-1.85zM129.8 302.1h1.85v1.85h-1.85zM123.0 285.8h1.85v1.85h-1.85zM117.2 271.7h1.85v1.85h-1.85zM125.1 293.9h1.85v1.85h-1.85zM129.7 301.6h1.85v1.85h-1.85zM125.5 286.3h1.85v1.85h-1.85zM116.0 275.9h1.85v1.85h-1.85zM122.3 278.5h1.85v1.85h-1.85zM117.1 282.7h1.85v1.85h-1.85zM123.3 285.7h1.85v1.85h-1.85zM126.0 295.2h1.85v1.85h-1.85zM126.3 293.2h1.85v1.85h-1.85zM115.3 279.7h1.85v1.85h-1.85zM123.9 277.0h1.85v1.85h-1.85zM118.4 289.0h1.85v1.85h-1.85zM126.2 294.9h1.85v1.85h-1.85zM123.1 276.1h1.85v1.85h-1.85zM130.3 298.5h1.85v1.85h-1.85zM125.4 296.4h1.85v1.85h-1.85zM126.3 300.1h1.85v1.85h-1.85zM122.2 278.6h1.85v1.85h-1.85zM126.7 297.7h1.85v1.85h-1.85zM116.2 273.8h1.85v1.85h-1.85zM128.0 302.0h1.85v1.85h-1.85zM117.1 274.1h1.85v1.85h-1.85zM122.5 293.9h1.85v1.85h-1.85zM120.6 286.5h1.85v1.85h-1.85zM121.9 271.9h1.85v1.85h-1.85zM120.4 291.2h1.85v1.85h-1.85zM123.1 295.2h1.85v1.85h-1.85zM124.0 289.1h1.85v1.85h-1.85zM123.9 287.7h1.85v1.85h-1.85zM133.6 297.0h1.85v1.85h-1.85zM125.7 298.4h1.85v1.85h-1.85zM137.4 291.3h1.85v1.85h-1.85zM132.6 293.3h1.85v1.85h-1.85zM124.2 286.6h1.85v1.85h-1.85zM128.8 303.2h1.85v1.85h-1.85zM123.3 293.2h1.85v1.85h-1.85zM117.2 287.1h1.85v1.85h-1.85zM127.1 300.9h1.85v1.85h-1.85zM116.9 276.1h1.85v1.85h-1.85zM127.6 301.7h1.85v1.85h-1.85zM124.8 297.6h1.85v1.85h-1.85zM120.4 280.7h1.85v1.85h-1.85zM127.2 299.6h1.85v1.85h-1.85zM124.1 294.2h1.85v1.85h-1.85zM130.0 301.3h1.85v1.85h-1.85zM127.8 302.9h1.85v1.85h-1.85zM130.0 300.8h1.85v1.85h-1.85zM127.2 300.6h1.85v1.85h-1.85zM127.1 299.2h1.85v1.85h-1.85zM127.5 299.4h1.85v1.85h-1.85zM120.0 271.8h1.85v1.85h-1.85zM130.2 298.7h1.85v1.85h-1.85zM130.7 299.8h1.85v1.85h-1.85zM117.4 279.1h1.85v1.85h-1.85zM138.2 276.3h1.85v1.85h-1.85zM124.4 289.9h1.85v1.85h-1.85zM123.5 274.8h1.85v1.85h-1.85zM119.0 290.0h1.85v1.85h-1.85zM129.9 300.7h1.85v1.85h-1.85zM123.2 279.7h1.85v1.85h-1.85zM134.8 279.7h1.85v1.85h-1.85zM125.2 284.8h1.85v1.85h-1.85zM139.7 283.6h1.85v1.85h-1.85zM117.4 287.1h1.85v1.85h-1.85zM110.4 275.0h1.85v1.85h-1.85zM127.4 298.1h1.85v1.85h-1.85zM117.8 278.3h1.85v1.85h-1.85zM124.2 295.2h1.85v1.85h-1.85zM128.2 302.3h1.85v1.85h-1.85zM106.0 277.3h1.85v1.85h-1.85zM125.1 289.9h1.85v1.85h-1.85zM114.9 275.6h1.85v1.85h-1.85zM127.5 299.2h1.85v1.85h-1.85zM124.7 294.2h1.85v1.85h-1.85zM130.0 301.6h1.85v1.85h-1.85zM127.9 302.1h1.85v1.85h-1.85zM128.8 303.3h1.85v1.85h-1.85zM123.3 294.1h1.85v1.85h-1.85zM126.7 297.1h1.85v1.85h-1.85zM114.2 280.5h1.85v1.85h-1.85zM125.4 294.1h1.85v1.85h-1.85zM127.5 302.2h1.85v1.85h-1.85zM117.1 289.9h1.85v1.85h-1.85zM128.4 303.3h1.85v1.85h-1.85zM120.5 276.5h1.85v1.85h-1.85zM134.7 281.5h1.85v1.85h-1.85zM123.3 282.1h1.85v1.85h-1.85zM133.5 287.3h1.85v1.85h-1.85zM119.4 274.4h1.85v1.85h-1.85zM135.0 282.5h1.85v1.85h-1.85zM119.9 284.1h1.85v1.85h-1.85zM124.4 292.8h1.85v1.85h-1.85zM121.4 289.3h1.85v1.85h-1.85zM124.9 282.7h1.85v1.85h-1.85zM123.3 273.2h1.85v1.85h-1.85zM106.7 272.8h1.85v1.85h-1.85zM123.9 280.7h1.85v1.85h-1.85zM127.4 299.0h1.85v1.85h-1.85zM123.8 285.7h1.85v1.85h-1.85zM122.7 289.1h1.85v1.85h-1.85zM122.6 288.1h1.85v1.85h-1.85zM117.0 272.4h1.85v1.85h-1.85zM118.8 273.2h1.85v1.85h-1.85zM121.2 285.3h1.85v1.85h-1.85zM125.0 287.0h1.85v1.85h-1.85zM121.9 279.2h1.85v1.85h-1.85zM117.7 284.7h1.85v1.85h-1.85zM127.7 302.8h1.85v1.85h-1.85zM121.3 283.2h1.85v1.85h-1.85zM128.7 303.3h1.85v1.85h-1.85zM121.4 277.4h1.85v1.85h-1.85zM120.5 276.1h1.85v1.85h-1.85zM127.2 299.9h1.85v1.85h-1.85zM130.1 301.6h1.85v1.85h-1.85zM127.1 296.1h1.85v1.85h-1.85zM122.7 288.7h1.85v1.85h-1.85zM121.0 279.6h1.85v1.85h-1.85zM120.1 281.6h1.85v1.85h-1.85zM122.8 280.3h1.85v1.85h-1.85zM136.9 290.5h1.85v1.85h-1.85zM117.6 274.7h1.85v1.85h-1.85zM122.2 273.9h1.85v1.85h-1.85zM129.7 302.7h1.85v1.85h-1.85zM124.4 295.2h1.85v1.85h-1.85zM128.3 303.2h1.85v1.85h-1.85zM121.3 286.0h1.85v1.85h-1.85zM119.8 273.2h1.85v1.85h-1.85zM119.0 279.6h1.85v1.85h-1.85zM126.0 294.3h1.85v1.85h-1.85zM129.2 302.7h1.85v1.85h-1.85zM125.6 295.1h1.85v1.85h-1.85zM122.3 290.8h1.85v1.85h-1.85zM119.4 281.4h1.85v1.85h-1.85zM123.2 273.1h1.85v1.85h-1.85zM127.5 298.8h1.85v1.85h-1.85zM118.1 275.1h1.85v1.85h-1.85zM114.9 284.7h1.85v1.85h-1.85zM130.4 296.2h1.85v1.85h-1.85zM123.0 290.6h1.85v1.85h-1.85zM120.7 283.9h1.85v1.85h-1.85zM123.0 289.5h1.85v1.85h-1.85zM123.4 297.7h1.85v1.85h-1.85zM113.0 277.1h1.85v1.85h-1.85zM124.7 281.9h1.85v1.85h-1.85zM126.9 297.3h1.85v1.85h-1.85zM123.6 277.4h1.85v1.85h-1.85zM107.9 283.3h1.85v1.85h-1.85zM120.3 271.6h1.85v1.85h-1.85zM125.4 297.0h1.85v1.85h-1.85zM139.2 278.9h1.85v1.85h-1.85zM117.4 279.0h1.85v1.85h-1.85zM119.3 283.2h1.85v1.85h-1.85zM125.3 290.0h1.85v1.85h-1.85zM109.3 275.6h1.85v1.85h-1.85zM129.3 302.5h1.85v1.85h-1.85zM119.9 279.7h1.85v1.85h-1.85zM125.0 293.5h1.85v1.85h-1.85zM126.1 291.2h1.85v1.85h-1.85zM122.1 287.9h1.85v1.85h-1.85zM129.3 301.2h1.85v1.85h-1.85zM125.3 297.7h1.85v1.85h-1.85zM124.8 297.3h1.85v1.85h-1.85zM132.8 279.8h1.85v1.85h-1.85zM127.9 302.3h1.85v1.85h-1.85zM118.9 281.6h1.85v1.85h-1.85zM122.8 286.8h1.85v1.85h-1.85zM136.5 288.2h1.85v1.85h-1.85zM127.5 302.5h1.85v1.85h-1.85zM118.6 278.5h1.85v1.85h-1.85zM124.4 280.0h1.85v1.85h-1.85zM119.2 284.0h1.85v1.85h-1.85zM118.3 279.3h1.85v1.85h-1.85zM121.4 282.9h1.85v1.85h-1.85zM124.5 280.6h1.85v1.85h-1.85zM122.8 287.3h1.85v1.85h-1.85zM123.1 277.6h1.85v1.85h-1.85zM123.7 275.6h1.85v1.85h-1.85zM122.2 290.1h1.85v1.85h-1.85zM126.5 292.9h1.85v1.85h-1.85zM128.8 302.7h1.85v1.85h-1.85zM138.7 291.5h1.85v1.85h-1.85zM128.0 301.1h1.85v1.85h-1.85zM122.8 297.0h1.85v1.85h-1.85zM125.2 299.1h1.85v1.85h-1.85zM120.7 283.9h1.85v1.85h-1.85zM113.8 273.0h1.85v1.85h-1.85zM129.9 297.9h1.85v1.85h-1.85zM124.9 287.5h1.85v1.85h-1.85zM123.7 275.7h1.85v1.85h-1.85zM131.3 299.7h1.85v1.85h-1.85zM134.1 282.3h1.85v1.85h-1.85zM123.7 286.2h1.85v1.85h-1.85zM129.1 302.6h1.85v1.85h-1.85zM121.4 276.0h1.85v1.85h-1.85zM127.7 302.8h1.85v1.85h-1.85zM121.3 296.1h1.85v1.85h-1.85zM124.8 295.8h1.85v1.85h-1.85zM131.9 285.0h1.85v1.85h-1.85zM120.4 283.5h1.85v1.85h-1.85zM126.1 290.1h1.85v1.85h-1.85zM119.5 278.4h1.85v1.85h-1.85zM120.2 285.2h1.85v1.85h-1.85zM119.6 294.8h1.85v1.85h-1.85zM119.7 272.9h1.85v1.85h-1.85zM129.3 302.2h1.85v1.85h-1.85zM126.8 296.0h1.85v1.85h-1.85zM127.8 302.2h1.85v1.85h-1.85zM121.0 272.7h1.85v1.85h-1.85zM115.8 276.8h1.85v1.85h-1.85zM120.3 272.3h1.85v1.85h-1.85zM115.3 284.2h1.85v1.85h-1.85zM111.9 282.8h1.85v1.85h-1.85zM126.4 299.8h1.85v1.85h-1.85zM124.2 278.8h1.85v1.85h-1.85zM126.9 300.4h1.85v1.85h-1.85zM119.7 282.1h1.85v1.85h-1.85zM124.3 287.2h1.85v1.85h-1.85zM125.1 285.9h1.85v1.85h-1.85zM118.5 281.7h1.85v1.85h-1.85zM123.2 287.3h1.85v1.85h-1.85zM129.0 302.5h1.85v1.85h-1.85zM128.2 302.7h1.85v1.85h-1.85zM119.9 274.1h1.85v1.85h-1.85zM118.2 289.8h1.85v1.85h-1.85zM119.0 279.7h1.85v1.85h-1.85zM132.8 289.0h1.85v1.85h-1.85zM122.2 280.8h1.85v1.85h-1.85zM129.2 302.6h1.85v1.85h-1.85zM115.4 279.6h1.85v1.85h-1.85zM127.9 302.3h1.85v1.85h-1.85zM127.9 302.7h1.85v1.85h-1.85zM120.3 285.6h1.85v1.85h-1.85zM124.3 279.3h1.85v1.85h-1.85zM129.4 302.5h1.85v1.85h-1.85zM125.8 291.7h1.85v1.85h-1.85zM122.1 280.7h1.85v1.85h-1.85zM118.0 285.5h1.85v1.85h-1.85zM121.6 275.8h1.85v1.85h-1.85zM105.5 276.2h1.85v1.85h-1.85zM128.9 303.1h1.85v1.85h-1.85zM128.0 302.5h1.85v1.85h-1.85zM126.1 300.5h1.85v1.85h-1.85zM127.5 301.6h1.85v1.85h-1.85zM123.6 296.8h1.85v1.85h-1.85zM125.4 296.7h1.85v1.85h-1.85zM118.8 276.1h1.85v1.85h-1.85zM113.8 273.8h1.85v1.85h-1.85zM124.3 288.1h1.85v1.85h-1.85zM127.9 301.0h1.85v1.85h-1.85zM126.7 297.4h1.85v1.85h-1.85zM138.0 283.6h1.85v1.85h-1.85zM120.6 275.5h1.85v1.85h-1.85zM128.9 302.9h1.85v1.85h-1.85zM118.6 278.8h1.85v1.85h-1.85zM122.6 286.2h1.85v1.85h-1.85zM119.8 276.7h1.85v1.85h-1.85zM119.3 275.7h1.85v1.85h-1.85zM120.5 282.2h1.85v1.85h-1.85zM127.1 299.9h1.85v1.85h-1.85zM125.3 293.4h1.85v1.85h-1.85zM126.3 300.4h1.85v1.85h-1.85zM116.9 278.3h1.85v1.85h-1.85zM127.3 300.5h1.85v1.85h-1.85zM121.1 278.2h1.85v1.85h-1.85zM121.2 295.2h1.85v1.85h-1.85zM126.1 299.3h1.85v1.85h-1.85zM124.8 288.0h1.85v1.85h-1.85zM125.7 296.2h1.85v1.85h-1.85zM132.1 297.7h1.85v1.85h-1.85zM137.4 292.7h1.85v1.85h-1.85zM124.8 283.2h1.85v1.85h-1.85zM116.3 290.3h1.85v1.85h-1.85zM124.8 294.9h1.85v1.85h-1.85zM132.0 295.5h1.85v1.85h-1.85zM117.8 277.8h1.85v1.85h-1.85zM119.0 284.8h1.85v1.85h-1.85zM126.6 300.3h1.85v1.85h-1.85zM120.3 272.2h1.85v1.85h-1.85zM109.8 280.6h1.85v1.85h-1.85zM132.4 286.9h1.85v1.85h-1.85zM124.0 286.8h1.85v1.85h-1.85zM122.0 281.5h1.85v1.85h-1.85zM118.0 275.2h1.85v1.85h-1.85zM126.4 293.5h1.85v1.85h-1.85zM114.5 279.1h1.85v1.85h-1.85zM116.7 288.8h1.85v1.85h-1.85zM119.8 280.8h1.85v1.85h-1.85zM121.3 279.6h1.85v1.85h-1.85zM116.6 273.0h1.85v1.85h-1.85zM109.1 282.7h1.85v1.85h-1.85zM124.7 293.3h1.85v1.85h-1.85zM122.8 273.0h1.85v1.85h-1.85zM125.4 297.0h1.85v1.85h-1.85zM124.1 296.3h1.85v1.85h-1.85zM127.4 302.3h1.85v1.85h-1.85zM126.3 295.3h1.85v1.85h-1.85zM122.8 291.4h1.85v1.85h-1.85zM124.6 283.7h1.85v1.85h-1.85zM122.7 274.5h1.85v1.85h-1.85zM116.5 272.7h1.85v1.85h-1.85zM142.4 274.9h1.85v1.85h-1.85zM116.3 291.0h1.85v1.85h-1.85zM116.9 278.8h1.85v1.85h-1.85zM120.2 292.3h1.85v1.85h-1.85zM127.6 301.6h1.85v1.85h-1.85zM124.7 297.7h1.85v1.85h-1.85zM114.0 275.1h1.85v1.85h-1.85zM124.8 300.1h1.85v1.85h-1.85zM121.7 276.8h1.85v1.85h-1.85zM123.9 281.8h1.85v1.85h-1.85zM124.6 291.2h1.85v1.85h-1.85zM119.4 281.3h1.85v1.85h-1.85zM123.4 290.4h1.85v1.85h-1.85zM128.8 303.3h1.85v1.85h-1.85zM125.5 288.4h1.85v1.85h-1.85zM113.0 280.4h1.85v1.85h-1.85zM127.9 302.8h1.85v1.85h-1.85zM124.6 292.2h1.85v1.85h-1.85zM123.2 291.7h1.85v1.85h-1.85zM118.8 272.0h1.85v1.85h-1.85zM124.6 280.9h1.85v1.85h-1.85zM120.6 287.9h1.85v1.85h-1.85zM127.2 296.8h1.85v1.85h-1.85zM122.0 286.0h1.85v1.85h-1.85zM119.2 275.1h1.85v1.85h-1.85zM121.2 282.0h1.85v1.85h-1.85zM111.7 285.5h1.85v1.85h-1.85zM122.4 282.3h1.85v1.85h-1.85zM125.3 285.6h1.85v1.85h-1.85zM128.7 303.3h1.85v1.85h-1.85zM127.0 299.1h1.85v1.85h-1.85zM123.5 290.0h1.85v1.85h-1.85zM116.1 281.3h1.85v1.85h-1.85zM124.9 293.2h1.85v1.85h-1.85zM128.2 302.9h1.85v1.85h-1.85zM119.5 281.9h1.85v1.85h-1.85zM117.0 277.2h1.85v1.85h-1.85zM121.0 280.9h1.85v1.85h-1.85zM121.7 278.1h1.85v1.85h-1.85zM115.1 274.6h1.85v1.85h-1.85zM129.0 301.6h1.85v1.85h-1.85zM131.0 296.8h1.85v1.85h-1.85zM121.9 283.1h1.85v1.85h-1.85zM122.8 274.5h1.85v1.85h-1.85zM127.4 298.1h1.85v1.85h-1.85zM122.2 291.1h1.85v1.85h-1.85zM124.9 296.6h1.85v1.85h-1.85zM110.5 278.9h1.85v1.85h-1.85zM122.6 283.3h1.85v1.85h-1.85zM118.4 272.8h1.85v1.85h-1.85zM124.8 282.4h1.85v1.85h-1.85zM118.8 283.3h1.85v1.85h-1.85zM128.6 303.6h1.85v1.85h-1.85zM119.2 275.6h1.85v1.85h-1.85zM122.9 286.4h1.85v1.85h-1.85zM122.2 297.7h1.85v1.85h-1.85zM126.3 296.7h1.85v1.85h-1.85zM120.4 278.3h1.85v1.85h-1.85zM126.0 289.9h1.85v1.85h-1.85zM125.9 293.3h1.85v1.85h-1.85zM132.1 296.5h1.85v1.85h-1.85zM121.4 292.7h1.85v1.85h-1.85zM124.5 290.2h1.85v1.85h-1.85zM122.8 288.5h1.85v1.85h-1.85zM127.3 300.2h1.85v1.85h-1.85zM119.3 275.1h1.85v1.85h-1.85zM113.2 274.2h1.85v1.85h-1.85zM122.0 284.4h1.85v1.85h-1.85zM130.3 295.3h1.85v1.85h-1.85zM128.6 303.5h1.85v1.85h-1.85zM124.1 292.6h1.85v1.85h-1.85zM135.3 289.4h1.85v1.85h-1.85zM131.8 299.1h1.85v1.85h-1.85zM120.7 281.7h1.85v1.85h-1.85zM125.2 293.3h1.85v1.85h-1.85zM128.5 303.4h1.85v1.85h-1.85zM125.8 301.9h1.85v1.85h-1.85zM121.9 289.7h1.85v1.85h-1.85zM128.7 303.4h1.85v1.85h-1.85zM122.3 279.2h1.85v1.85h-1.85zM124.6 293.7h1.85v1.85h-1.85zM127.7 301.4h1.85v1.85h-1.85zM125.4 297.9h1.85v1.85h-1.85zM123.5 292.3h1.85v1.85h-1.85zM115.9 279.9h1.85v1.85h-1.85zM110.3 276.5h1.85v1.85h-1.85zM128.6 303.5h1.85v1.85h-1.85zM119.4 276.3h1.85v1.85h-1.85zM121.4 283.2h1.85v1.85h-1.85zM120.7 271.8h1.85v1.85h-1.85zM122.4 275.6h1.85v1.85h-1.85zM127.2 299.8h1.85v1.85h-1.85zM128.6 303.5h1.85v1.85h-1.85zM123.9 276.7h1.85v1.85h-1.85zM121.0 281.2h1.85v1.85h-1.85zM128.1 301.3h1.85v1.85h-1.85zM125.9 294.2h1.85v1.85h-1.85zM125.1 291.4h1.85v1.85h-1.85zM118.6 275.6h1.85v1.85h-1.85zM126.3 297.7h1.85v1.85h-1.85zM117.0 291.9h1.85v1.85h-1.85zM118.8 285.1h1.85v1.85h-1.85zM129.3 302.9h1.85v1.85h-1.85zM126.7 296.9h1.85v1.85h-1.85zM124.0 289.6h1.85v1.85h-1.85zM121.4 296.5h1.85v1.85h-1.85zM117.9 280.2h1.85v1.85h-1.85zM124.9 292.4h1.85v1.85h-1.85zM122.9 283.2h1.85v1.85h-1.85zM126.1 294.3h1.85v1.85h-1.85zM110.5 274.0h1.85v1.85h-1.85zM117.9 276.4h1.85v1.85h-1.85zM125.2 293.4h1.85v1.85h-1.85zM120.5 291.1h1.85v1.85h-1.85zM124.0 299.4h1.85v1.85h-1.85zM120.0 272.2h1.85v1.85h-1.85zM131.5 294.8h1.85v1.85h-1.85zM131.7 295.1h1.85v1.85h-1.85zM117.4 272.4h1.85v1.85h-1.85zM121.1 293.5h1.85v1.85h-1.85zM124.0 281.4h1.85v1.85h-1.85zM119.4 292.6h1.85v1.85h-1.85zM117.9 274.6h1.85v1.85h-1.85zM126.4 298.0h1.85v1.85h-1.85zM121.7 287.1h1.85v1.85h-1.85zM124.7 288.6h1.85v1.85h-1.85zM118.5 280.7h1.85v1.85h-1.85zM123.5 283.6h1.85v1.85h-1.85zM126.8 299.0h1.85v1.85h-1.85zM120.6 291.3h1.85v1.85h-1.85zM130.8 291.7h1.85v1.85h-1.85zM116.7 295.3h1.85v1.85h-1.85zM133.2 298.9h1.85v1.85h-1.85zM134.0 299.5h1.85v1.85h-1.85zM128.1 303.2h1.85v1.85h-1.85zM123.9 299.8h1.85v1.85h-1.85zM157.7 272.3h1.85v1.85h-1.85zM112.4 292.2h1.85v1.85h-1.85zM86.1 273.2h1.85v1.85h-1.85zM130.1 302.6h1.85v1.85h-1.85zM146.2 289.9h1.85v1.85h-1.85zM118.9 290.9h1.85v1.85h-1.85zM123.0 301.2h1.85v1.85h-1.85zM112.1 286.7h1.85v1.85h-1.85zM121.5 297.7h1.85v1.85h-1.85zM115.8 295.6h1.85v1.85h-1.85zM114.2 295.0h1.85v1.85h-1.85zM128.8 303.3h1.85v1.85h-1.85zM141.2 290.5h1.85v1.85h-1.85zM117.0 292.4h1.85v1.85h-1.85zM106.0 283.8h1.85v1.85h-1.85zM134.9 299.4h1.85v1.85h-1.85zM108.6 288.2h1.85v1.85h-1.85zM132.8 301.0h1.85v1.85h-1.85zM126.6 302.7h1.85v1.85h-1.85zM119.9 298.5h1.85v1.85h-1.85zM133.4 301.1h1.85v1.85h-1.85zM123.9 300.8h1.85v1.85h-1.85zM130.8 301.4h1.85v1.85h-1.85zM128.5 303.6h1.85v1.85h-1.85zM116.6 292.4h1.85v1.85h-1.85zM150.3 294.2h1.85v1.85h-1.85zM155.9 277.6h1.85v1.85h-1.85zM131.0 302.5h1.85v1.85h-1.85zM118.3 295.0h1.85v1.85h-1.85zM138.1 298.7h1.85v1.85h-1.85zM81.4 272.2h1.85v1.85h-1.85zM134.0 300.7h1.85v1.85h-1.85zM144.8 281.2h1.85v1.85h-1.85zM107.9 289.2h1.85v1.85h-1.85zM132.7 302.1h1.85v1.85h-1.85zM138.1 293.6h1.85v1.85h-1.85zM139.8 294.0h1.85v1.85h-1.85zM133.9 299.0h1.85v1.85h-1.85zM131.7 301.3h1.85v1.85h-1.85zM105.4 283.5h1.85v1.85h-1.85zM117.5 299.3h1.85v1.85h-1.85zM143.5 290.8h1.85v1.85h-1.85zM134.1 301.4h1.85v1.85h-1.85zM116.9 294.8h1.85v1.85h-1.85zM136.1 297.5h1.85v1.85h-1.85zM133.1 300.9h1.85v1.85h-1.85zM162.3 285.2h1.85v1.85h-1.85zM113.2 293.2h1.85v1.85h-1.85zM138.9 297.7h1.85v1.85h-1.85zM117.0 295.3h1.85v1.85h-1.85zM137.0 298.6h1.85v1.85h-1.85zM115.1 294.8h1.85v1.85h-1.85zM136.7 299.3h1.85v1.85h-1.85zM138.9 295.8h1.85v1.85h-1.85zM136.6 296.7h1.85v1.85h-1.85zM124.2 300.3h1.85v1.85h-1.85zM128.7 303.5h1.85v1.85h-1.85zM129.4 302.9h1.85v1.85h-1.85zM93.9 280.5h1.85v1.85h-1.85zM127.5 303.0h1.85v1.85h-1.85zM141.2 297.6h1.85v1.85h-1.85zM105.5 286.1h1.85v1.85h-1.85zM151.2 290.9h1.85v1.85h-1.85zM129.4 303.0h1.85v1.85h-1.85zM137.0 298.6h1.85v1.85h-1.85zM128.9 303.3h1.85v1.85h-1.85zM149.9 283.3h1.85v1.85h-1.85zM97.4 285.8h1.85v1.85h-1.85zM114.4 296.4h1.85v1.85h-1.85zM117.2 293.7h1.85v1.85h-1.85zM112.5 293.8h1.85v1.85h-1.85zM151.5 284.7h1.85v1.85h-1.85zM135.3 297.9h1.85v1.85h-1.85zM130.3 302.9h1.85v1.85h-1.85zM129.3 303.3h1.85v1.85h-1.85zM104.5 289.7h1.85v1.85h-1.85zM104.9 284.0h1.85v1.85h-1.85zM131.8 301.7h1.85v1.85h-1.85zM141.7 298.4h1.85v1.85h-1.85zM140.6 297.0h1.85v1.85h-1.85zM103.8 292.7h1.85v1.85h-1.85zM119.8 290.8h1.85v1.85h-1.85zM112.1 282.0h1.85v1.85h-1.85zM120.4 298.7h1.85v1.85h-1.85zM122.8 297.9h1.85v1.85h-1.85zM125.4 300.8h1.85v1.85h-1.85zM132.9 299.8h1.85v1.85h-1.85zM105.5 288.2h1.85v1.85h-1.85zM102.2 280.3h1.85v1.85h-1.85zM115.3 290.2h1.85v1.85h-1.85zM127.0 301.7h1.85v1.85h-1.85zM133.8 300.4h1.85v1.85h-1.85zM125.6 301.5h1.85v1.85h-1.85zM132.9 301.4h1.85v1.85h-1.85zM120.3 297.7h1.85v1.85h-1.85zM129.1 303.3h1.85v1.85h-1.85zM132.0 299.8h1.85v1.85h-1.85zM134.6 299.2h1.85v1.85h-1.85zM132.6 300.3h1.85v1.85h-1.85zM108.4 287.6h1.85v1.85h-1.85zM117.3 295.5h1.85v1.85h-1.85zM129.8 302.8h1.85v1.85h-1.85zM130.4 302.7h1.85v1.85h-1.85zM140.8 289.6h1.85v1.85h-1.85zM108.3 294.9h1.85v1.85h-1.85zM124.1 301.3h1.85v1.85h-1.85zM117.7 295.3h1.85v1.85h-1.85zM97.6 289.1h1.85v1.85h-1.85zM127.5 302.7h1.85v1.85h-1.85zM122.4 298.4h1.85v1.85h-1.85zM121.4 298.7h1.85v1.85h-1.85zM112.1 286.7h1.85v1.85h-1.85zM122.5 298.5h1.85v1.85h-1.85zM149.5 287.6h1.85v1.85h-1.85zM154.2 280.0h1.85v1.85h-1.85zM105.9 293.7h1.85v1.85h-1.85zM136.7 298.0h1.85v1.85h-1.85zM113.3 279.7h1.85v1.85h-1.85zM120.2 295.8h1.85v1.85h-1.85zM105.8 286.4h1.85v1.85h-1.85zM106.9 276.1h1.85v1.85h-1.85zM132.7 301.0h1.85v1.85h-1.85zM122.6 298.1h1.85v1.85h-1.85zM124.3 300.8h1.85v1.85h-1.85zM124.6 300.7h1.85v1.85h-1.85zM95.5 284.3h1.85v1.85h-1.85zM143.0 296.9h1.85v1.85h-1.85zM119.3 294.6h1.85v1.85h-1.85zM138.4 294.8h1.85v1.85h-1.85zM118.0 293.6h1.85v1.85h-1.85zM92.9 277.0h1.85v1.85h-1.85zM110.7 296.1h1.85v1.85h-1.85zM123.9 300.8h1.85v1.85h-1.85zM127.0 302.0h1.85v1.85h-1.85zM103.4 292.4h1.85v1.85h-1.85zM88.3 284.5h1.85v1.85h-1.85zM105.5 285.1h1.85v1.85h-1.85zM147.1 291.2h1.85v1.85h-1.85zM107.0 287.1h1.85v1.85h-1.85zM112.8 296.3h1.85v1.85h-1.85zM134.5 299.4h1.85v1.85h-1.85zM114.7 289.4h1.85v1.85h-1.85zM120.0 291.0h1.85v1.85h-1.85zM126.3 302.6h1.85v1.85h-1.85zM111.5 290.1h1.85v1.85h-1.85zM106.8 291.5h1.85v1.85h-1.85zM108.7 278.0h1.85v1.85h-1.85zM129.6 303.1h1.85v1.85h-1.85zM88.4 280.6h1.85v1.85h-1.85zM112.5 289.5h1.85v1.85h-1.85zM74.7 271.7h1.85v1.85h-1.85zM101.1 290.4h1.85v1.85h-1.85zM109.9 284.1h1.85v1.85h-1.85zM107.2 281.4h1.85v1.85h-1.85zM138.5 298.1h1.85v1.85h-1.85zM105.2 288.6h1.85v1.85h-1.85zM142.3 289.8h1.85v1.85h-1.85zM118.6 288.7h1.85v1.85h-1.85zM138.2 291.6h1.85v1.85h-1.85zM124.5 301.8h1.85v1.85h-1.85zM111.2 287.2h1.85v1.85h-1.85zM104.2 276.3h1.85v1.85h-1.85zM106.6 287.8h1.85v1.85h-1.85zM108.4 273.2h1.85v1.85h-1.85zM113.6 291.2h1.85v1.85h-1.85zM101.5 283.6h1.85v1.85h-1.85zM115.4 295.5h1.85v1.85h-1.85zM103.7 274.3h1.85v1.85h-1.85zM119.9 296.6h1.85v1.85h-1.85zM117.7 298.0h1.85v1.85h-1.85zM137.2 297.8h1.85v1.85h-1.85zM90.1 277.2h1.85v1.85h-1.85zM92.4 274.5h1.85v1.85h-1.85zM95.2 277.1h1.85v1.85h-1.85zM110.0 283.7h1.85v1.85h-1.85zM123.3 298.4h1.85v1.85h-1.85zM128.0 303.2h1.85v1.85h-1.85zM109.9 281.8h1.85v1.85h-1.85zM113.3 296.4h1.85v1.85h-1.85zM129.6 303.1h1.85v1.85h-1.85zM132.5 301.9h1.85v1.85h-1.85zM107.2 275.4h1.85v1.85h-1.85zM119.4 293.3h1.85v1.85h-1.85zM140.7 296.4h1.85v1.85h-1.85zM110.5 290.0h1.85v1.85h-1.85zM103.3 284.1h1.85v1.85h-1.85zM130.1 302.9h1.85v1.85h-1.85zM131.3 301.2h1.85v1.85h-1.85zM125.0 300.1h1.85v1.85h-1.85zM111.5 285.5h1.85v1.85h-1.85zM96.4 288.8h1.85v1.85h-1.85zM122.0 299.0h1.85v1.85h-1.85zM113.8 288.5h1.85v1.85h-1.85zM137.7 299.6h1.85v1.85h-1.85zM129.1 303.3h1.85v1.85h-1.85zM107.7 291.0h1.85v1.85h-1.85zM119.1 298.1h1.85v1.85h-1.85zM118.9 296.0h1.85v1.85h-1.85zM107.6 294.3h1.85v1.85h-1.85zM104.9 288.8h1.85v1.85h-1.85zM116.0 289.2h1.85v1.85h-1.85zM103.1 273.4h1.85v1.85h-1.85zM135.7 297.5h1.85v1.85h-1.85zM101.2 286.3h1.85v1.85h-1.85zM116.8 292.7h1.85v1.85h-1.85zM126.2 302.0h1.85v1.85h-1.85zM117.0 293.4h1.85v1.85h-1.85zM115.8 294.1h1.85v1.85h-1.85zM119.2 299.1h1.85v1.85h-1.85zM121.3 297.7h1.85v1.85h-1.85zM125.9 301.9h1.85v1.85h-1.85zM119.3 299.9h1.85v1.85h-1.85zM109.5 278.2h1.85v1.85h-1.85zM90.5 274.5h1.85v1.85h-1.85zM111.3 290.9h1.85v1.85h-1.85zM121.1 298.3h1.85v1.85h-1.85zM135.3 300.3h1.85v1.85h-1.85zM96.3 288.8h1.85v1.85h-1.85zM116.6 294.7h1.85v1.85h-1.85zM106.5 289.1h1.85v1.85h-1.85zM117.2 291.0h1.85v1.85h-1.85zM115.5 292.4h1.85v1.85h-1.85z" fill="#17578a"/>
<path d="M79.8 228.9h1.9v1.9h-1.9zM110.0 214.1h1.9v1.9h-1.9zM114.0 225.8h1.9v1.9h-1.9zM103.2 237.2h1.9v1.9h-1.9zM95.5 244.2h1.9v1.9h-1.9zM84.1 250.1h1.9v1.9h-1.9zM92.5 255.6h1.9v1.9h-1.9zM141.1 240.9h1.9v1.9h-1.9zM145.4 259.6h1.9v1.9h-1.9zM147.6 259.2h1.9v1.9h-1.9zM154.6 261.2h1.9v1.9h-1.9zM159.2 262.4h1.9v1.9h-1.9zM91.5 267.9h1.9v1.9h-1.9zM103.8 267.9h1.9v1.9h-1.9zM143.9 267.9h1.9v1.9h-1.9zM151.6 267.2h1.9v1.9h-1.9zM157.1 267.2h1.9v1.9h-1.9zM115.7 264.1h1.9v1.9h-1.9zM122.7 265.6h1.9v1.9h-1.9zM116.5 263.7h1.9v1.9h-1.9zM111.7 264.9h1.9v1.9h-1.9zM118.3 258.5h1.9v1.9h-1.9zM110.3 267.6h1.9v1.9h-1.9zM110.3 257.9h1.9v1.9h-1.9zM119.3 270.0h1.9v1.9h-1.9zM123.6 245.2h1.9v1.9h-1.9zM118.7 263.1h1.9v1.9h-1.9zM111.3 270.2h1.9v1.9h-1.9zM116.8 269.8h1.9v1.9h-1.9zM111.8 268.2h1.9v1.9h-1.9zM109.4 265.6h1.9v1.9h-1.9zM115.5 256.4h1.9v1.9h-1.9zM116.7 262.6h1.9v1.9h-1.9zM116.4 262.2h1.9v1.9h-1.9zM115.8 267.9h1.9v1.9h-1.9zM123.8 251.7h1.9v1.9h-1.9zM119.5 267.5h1.9v1.9h-1.9zM112.4 267.7h1.9v1.9h-1.9zM110.0 259.4h1.9v1.9h-1.9zM114.9 256.2h1.9v1.9h-1.9zM114.7 246.5h1.9v1.9h-1.9zM121.6 270.3h1.9v1.9h-1.9zM112.1 252.2h1.9v1.9h-1.9zM115.9 240.8h1.9v1.9h-1.9zM114.9 269.7h1.9v1.9h-1.9zM118.3 259.0h1.9v1.9h-1.9zM113.0 269.6h1.9v1.9h-1.9zM113.9 245.4h1.9v1.9h-1.9zM120.3 269.4h1.9v1.9h-1.9zM112.6 269.5h1.9v1.9h-1.9zM109.8 258.3h1.9v1.9h-1.9zM111.6 264.2h1.9v1.9h-1.9zM115.6 268.7h1.9v1.9h-1.9zM119.9 269.2h1.9v1.9h-1.9zM118.5 269.4h1.9v1.9h-1.9zM115.2 268.5h1.9v1.9h-1.9zM113.0 243.8h1.9v1.9h-1.9zM120.9 267.6h1.9v1.9h-1.9zM122.2 268.5h1.9v1.9h-1.9zM114.8 255.8h1.9v1.9h-1.9zM118.5 269.5h1.9v1.9h-1.9zM123.7 268.5h1.9v1.9h-1.9zM112.8 259.2h1.9v1.9h-1.9zM113.8 267.7h1.9v1.9h-1.9zM110.0 269.6h1.9v1.9h-1.9zM117.6 268.2h1.9v1.9h-1.9zM117.9 266.8h1.9v1.9h-1.9zM115.7 246.3h1.9v1.9h-1.9zM116.2 263.9h1.9v1.9h-1.9zM121.9 268.8h1.9v1.9h-1.9zM111.2 252.4h1.9v1.9h-1.9zM121.1 268.1h1.9v1.9h-1.9zM111.8 260.2h1.9v1.9h-1.9zM123.0 268.7h1.9v1.9h-1.9zM123.1 254.3h1.9v1.9h-1.9zM117.9 266.2h1.9v1.9h-1.9zM110.5 270.0h1.9v1.9h-1.9zM123.3 268.3h1.9v1.9h-1.9zM119.5 268.1h1.9v1.9h-1.9zM121.2 263.5h1.9v1.9h-1.9zM113.3 268.9h1.9v1.9h-1.9zM119.7 269.8h1.9v1.9h-1.9zM112.3 264.2h1.9v1.9h-1.9zM121.7 263.2h1.9v1.9h-1.9zM113.1 251.6h1.9v1.9h-1.9zM112.0 270.2h1.9v1.9h-1.9zM112.9 265.9h1.9v1.9h-1.9zM109.8 268.8h1.9v1.9h-1.9zM114.4 263.9h1.9v1.9h-1.9zM110.9 266.9h1.9v1.9h-1.9zM122.2 240.8h1.9v1.9h-1.9zM118.7 261.5h1.9v1.9h-1.9zM117.7 269.2h1.9v1.9h-1.9zM109.4 270.2h1.9v1.9h-1.9zM122.5 261.2h1.9v1.9h-1.9zM123.3 270.1h1.9v1.9h-1.9zM118.4 265.4h1.9v1.9h-1.9zM119.8 267.4h1.9v1.9h-1.9zM123.9 269.7h1.9v1.9h-1.9zM117.1 260.3h1.9v1.9h-1.9zM122.4 260.3h1.9v1.9h-1.9zM119.4 258.5h1.9v1.9h-1.9zM122.6 267.0h1.9v1.9h-1.9zM119.2 253.0h1.9v1.9h-1.9zM121.9 266.3h1.9v1.9h-1.9zM120.7 255.4h1.9v1.9h-1.9zM117.5 262.9h1.9v1.9h-1.9zM114.6 263.7h1.9v1.9h-1.9zM118.0 269.7h1.9v1.9h-1.9zM118.5 251.0h1.9v1.9h-1.9zM119.8 266.6h1.9v1.9h-1.9zM119.9 263.8h1.9v1.9h-1.9zM115.5 256.6h1.9v1.9h-1.9zM110.2 259.9h1.9v1.9h-1.9zM109.4 263.4h1.9v1.9h-1.9zM116.1 268.3h1.9v1.9h-1.9zM119.4 265.1h1.9v1.9h-1.9zM118.1 251.3h1.9v1.9h-1.9zM112.7 270.2h1.9v1.9h-1.9zM113.4 261.8h1.9v1.9h-1.9zM111.9 268.9h1.9v1.9h-1.9zM122.5 262.2h1.9v1.9h-1.9zM115.5 253.6h1.9v1.9h-1.9zM113.8 262.1h1.9v1.9h-1.9zM111.9 266.1h1.9v1.9h-1.9zM121.0 251.9h1.9v1.9h-1.9zM122.1 266.7h1.9v1.9h-1.9z" fill="#d0103a"/>
<line x1="54.50" y1="202.00" x2="54.50" y2="304.50" stroke="#231f20" stroke-width="1.2"/>
<line x1="54.00" y1="304.20" x2="207.80" y2="304.20" stroke="#231f20" stroke-width="1.2"/>
<line x1="54.50" y1="271.50" x2="203.80" y2="271.50" stroke="#333" stroke-width="1.0"/>
<line x1="51.30" y1="304.50" x2="54.50" y2="304.50" stroke="#231f20" stroke-width="0.8"/>
<line x1="51.30" y1="279.50" x2="54.50" y2="279.50" stroke="#231f20" stroke-width="0.8"/>
<line x1="51.30" y1="254.50" x2="54.50" y2="254.50" stroke="#231f20" stroke-width="0.8"/>
<line x1="51.30" y1="229.50" x2="54.50" y2="229.50" stroke="#231f20" stroke-width="0.8"/>
<line x1="51.30" y1="204.50" x2="54.50" y2="204.50" stroke="#231f20" stroke-width="0.8"/>
<text x="47.50" y="207.00" font-size="7.0" fill="#231f20" stroke="#231f20" stroke-width="0.06" text-anchor="end">4</text>
<text x="47.50" y="228.20" font-size="7.0" fill="#231f20" stroke="#231f20" stroke-width="0.06" text-anchor="end">3</text>
<text x="47.50" y="248.90" font-size="7.0" fill="#231f20" stroke="#231f20" stroke-width="0.06" text-anchor="end">2</text>
<text x="47.50" y="270.00" font-size="7.0" fill="#231f20" stroke="#231f20" stroke-width="0.06" text-anchor="end">1</text>
<text x="47.50" y="290.50" font-size="7.0" fill="#231f20" stroke="#231f20" stroke-width="0.06" text-anchor="end">0</text>
<line x1="54.70" y1="304.20" x2="54.70" y2="307.00" stroke="#231f20" stroke-width="0.8"/>
<text x="54.70" y="316.00" font-size="7.0" fill="#231f20" stroke="#231f20" stroke-width="0.06" text-anchor="middle">−4</text>
<line x1="92.10" y1="304.20" x2="92.10" y2="307.00" stroke="#231f20" stroke-width="0.8"/>
<text x="92.10" y="316.00" font-size="7.0" fill="#231f20" stroke="#231f20" stroke-width="0.06" text-anchor="middle">−2</text>
<line x1="129.50" y1="304.20" x2="129.50" y2="307.00" stroke="#231f20" stroke-width="0.8"/>
<text x="129.50" y="316.00" font-size="7.0" fill="#231f20" stroke="#231f20" stroke-width="0.06" text-anchor="middle">0</text>
<line x1="166.90" y1="304.20" x2="166.90" y2="307.00" stroke="#231f20" stroke-width="0.8"/>
<text x="166.90" y="316.00" font-size="7.0" fill="#231f20" stroke="#231f20" stroke-width="0.06" text-anchor="middle">2</text>
<line x1="204.30" y1="304.20" x2="204.30" y2="307.00" stroke="#231f20" stroke-width="0.8"/>
<text x="204.30" y="316.00" font-size="7.0" fill="#231f20" stroke="#231f20" stroke-width="0.06" text-anchor="middle">4</text>
<text x="80.8" y="328.3" font-size="9" fill="#231f20" stroke="#231f20" stroke-width="0.06" textLength="101.8" lengthAdjust="spacingAndGlyphs">log<tspan font-size="6.2" dy="2.2">2</tspan><tspan dy="-2.2">(fold change) protein expression</tspan></text>
<text transform="translate(36.1 246.5) rotate(-90)" font-size="9.2" fill="#231f20" stroke="#231f20" stroke-width="0.06" text-anchor="middle" textLength="41.5" lengthAdjust="spacingAndGlyphs">-log<tspan font-size="6.3" dy="2.2">10</tspan><tspan dy="-2.2">(p value)</tspan></text>
<line x1="70.75" y1="223.25" x2="78.25" y2="228.75" stroke="#231f20" stroke-width="0.8"/>
<text x="58.00" y="221.00" font-size="7.8" fill="#231f20" stroke="#231f20" stroke-width="0.06">NFKB2</text>
<text x="314.20" y="183.40" font-size="10.5" fill="#000" stroke="#000" stroke-width="0.06" text-anchor="middle" font-weight="bold">D</text>
<text x="424.80" y="182.80" font-size="8.4" fill="#231f20" stroke="#231f20" stroke-width="0.06" text-anchor="middle" textLength="110.6" lengthAdjust="spacingAndGlyphs">NFkB target gene expression in</text>
<text x="425.40" y="193.20" font-size="8.4" fill="#231f20" stroke="#231f20" stroke-width="0.06" text-anchor="middle" textLength="76.8" lengthAdjust="spacingAndGlyphs">HSC/MPPs of PV.UT</text>
<line x1="364.50" y1="200.50" x2="364.50" y2="269.50" stroke="#ececec" stroke-width="0.6"/>
<line x1="381.50" y1="200.50" x2="381.50" y2="269.50" stroke="#ececec" stroke-width="0.6"/>
<line x1="399.50" y1="200.50" x2="399.50" y2="269.50" stroke="#ececec" stroke-width="0.6"/>
<line x1="417.00" y1="200.50" x2="417.00" y2="269.50" stroke="#ececec" stroke-width="0.6"/>
<line x1="434.70" y1="200.50" x2="434.70" y2="269.50" stroke="#ececec" stroke-width="0.6"/>
<line x1="451.90" y1="200.50" x2="451.90" y2="269.50" stroke="#ececec" stroke-width="0.6"/>
<line x1="469.80" y1="200.50" x2="469.80" y2="269.50" stroke="#ececec" stroke-width="0.6"/>
<line x1="487.00" y1="200.50" x2="487.00" y2="269.50" stroke="#ececec" stroke-width="0.6"/>
<line x1="504.50" y1="200.50" x2="504.50" y2="269.50" stroke="#ececec" stroke-width="0.6"/>
<line x1="346.20" y1="246.25" x2="505.00" y2="246.25" stroke="#ececec" stroke-width="0.6"/>
<line x1="346.20" y1="234.40" x2="505.00" y2="234.40" stroke="#ececec" stroke-width="0.6"/>
<line x1="346.20" y1="222.55" x2="505.00" y2="222.55" stroke="#ececec" stroke-width="0.6"/>
<line x1="346.20" y1="210.70" x2="505.00" y2="210.70" stroke="#ececec" stroke-width="0.6"/>
<line x1="346.20" y1="258.10" x2="505.00" y2="258.10" stroke="#d2d2d2" stroke-width="0.7"/>
<polyline fill="none" stroke="#4caa3a" stroke-width="1.4" stroke-linejoin="round" points="346.2,257.0 346.5,253.5 346.9,244.2 347.7,239.6 348.5,240.4 349.2,222.7 350.0,221.2 351.1,218.1 352.3,218.8 353.8,219.6 355.4,218.1 356.6,216.5 357.7,217.8 358.5,216.5 359.2,208.8 361.5,203.5 363.0,203.5 367.7,205.5 370.8,206.5 372.3,205.5 376.9,208.5 381.5,210.7 390.8,214.2 397.7,218.4 401.5,219.6 407.7,223.5 420.0,231.9 432.3,241.2 442.0,248.1 447.0,250.6 457.6,257.4 469.0,262.0 471.5,263.3 479.6,267.7 482.1,264.9 484.5,263.6 487.0,264.4 489.4,265.6 491.9,265.1 494.3,266.6 495.5,263.6 496.8,260.0 497.6,257.9"/>
<line x1="345.90" y1="200.60" x2="345.90" y2="270.20" stroke="#231f20" stroke-width="1.2"/>
<line x1="343.00" y1="269.80" x2="505.00" y2="269.80" stroke="#231f20" stroke-width="1.5"/>
<line x1="343.00" y1="210.70" x2="345.90" y2="210.70" stroke="#231f20" stroke-width="0.8"/>
<text x="340.30" y="213.50" font-size="8.0" fill="#231f20" stroke="#231f20" stroke-width="0.06" text-anchor="end">0.4</text>
<line x1="343.00" y1="222.55" x2="345.90" y2="222.55" stroke="#231f20" stroke-width="0.8"/>
<text x="340.30" y="225.35" font-size="8.0" fill="#231f20" stroke="#231f20" stroke-width="0.06" text-anchor="end">0.3</text>
<line x1="343.00" y1="234.40" x2="345.90" y2="234.40" stroke="#231f20" stroke-width="0.8"/>
<text x="340.30" y="237.20" font-size="8.0" fill="#231f20" stroke="#231f20" stroke-width="0.06" text-anchor="end">0.2</text>
<line x1="343.00" y1="246.25" x2="345.90" y2="246.25" stroke="#231f20" stroke-width="0.8"/>
<text x="340.30" y="249.05" font-size="8.0" fill="#231f20" stroke="#231f20" stroke-width="0.06" text-anchor="end">0.1</text>
<line x1="343.00" y1="258.10" x2="345.90" y2="258.10" stroke="#231f20" stroke-width="0.8"/>
<text x="340.30" y="260.90" font-size="8.0" fill="#231f20" stroke="#231f20" stroke-width="0.06" text-anchor="end">0.0</text>
<line x1="343.00" y1="269.95" x2="345.90" y2="269.95" stroke="#231f20" stroke-width="0.8"/>
<text x="340.30" y="272.75" font-size="8.0" fill="#231f20" stroke="#231f20" stroke-width="0.06" text-anchor="end">−0.1</text>
<text transform="translate(318.8 250.4) rotate(-90)" font-size="9" fill="#231f20" stroke="#231f20" stroke-width="0.06" text-anchor="middle" textLength="64.4" lengthAdjust="spacingAndGlyphs">Enrichment score (ES)</text>
<rect x="346.30" y="272.40" width="1.10" height="23.00" fill="rgb(114,114,114)"/>
<rect x="347.80" y="272.40" width="1.10" height="23.00" fill="rgb(38,38,38)"/>
<rect x="349.40" y="272.40" width="0.80" height="23.00" fill="rgb(140,140,140)"/>
<rect x="351.70" y="272.40" width="0.80" height="23.00" fill="rgb(140,140,140)"/>
<rect x="354.00" y="272.40" width="0.80" height="23.00" fill="rgb(76,76,76)"/>
<rect x="356.00" y="272.40" width="0.60" height="23.00" fill="rgb(153,153,153)"/>
<rect x="358.20" y="272.40" width="3.00" height="23.00" fill="rgb(25,25,25)"/>
<rect x="363.20" y="272.40" width="0.80" height="23.00" fill="rgb(153,153,153)"/>
<rect x="365.50" y="272.40" width="1.10" height="23.00" fill="rgb(102,102,102)"/>
<rect x="367.80" y="272.40" width="0.80" height="23.00" fill="rgb(153,153,153)"/>
<rect x="371.00" y="272.40" width="1.00" height="23.00" fill="rgb(102,102,102)"/>
<rect x="373.20" y="272.40" width="0.80" height="23.00" fill="rgb(153,153,153)"/>
<rect x="377.00" y="272.40" width="1.20" height="23.00" fill="rgb(76,76,76)"/>
<rect x="381.00" y="272.40" width="1.00" height="23.00" fill="rgb(76,76,76)"/>
<rect x="383.20" y="272.40" width="0.80" height="23.00" fill="rgb(140,140,140)"/>
<rect x="385.50" y="272.40" width="1.50" height="23.00" fill="rgb(76,76,76)"/>
<rect x="388.60" y="272.40" width="0.80" height="23.00" fill="rgb(140,140,140)"/>
<rect x="390.20" y="272.40" width="1.20" height="23.00" fill="rgb(38,38,38)"/>
<rect x="397.00" y="272.40" width="1.60" height="23.00" fill="rgb(38,38,38)"/>
<rect x="400.20" y="272.40" width="1.00" height="23.00" fill="rgb(140,140,140)"/>
<rect x="403.20" y="272.40" width="0.80" height="23.00" fill="rgb(140,140,140)"/>
<rect x="405.50" y="272.40" width="1.10" height="23.00" fill="rgb(102,102,102)"/>
<rect x="407.80" y="272.40" width="0.80" height="23.00" fill="rgb(153,153,153)"/>
<rect x="411.00" y="272.40" width="0.70" height="23.00" fill="rgb(153,153,153)"/>
<rect x="414.80" y="272.40" width="1.00" height="23.00" fill="rgb(114,114,114)"/>
<rect x="417.00" y="272.40" width="0.80" height="23.00" fill="rgb(153,153,153)"/>
<rect x="419.40" y="272.40" width="1.10" height="23.00" fill="rgb(89,89,89)"/>
<rect x="422.40" y="272.40" width="0.80" height="23.00" fill="rgb(153,153,153)"/>
<rect x="424.30" y="272.40" width="1.10" height="23.00" fill="rgb(140,140,140)"/>
<rect x="426.90" y="272.40" width="1.10" height="23.00" fill="rgb(76,76,76)"/>
<rect x="430.00" y="272.40" width="0.80" height="23.00" fill="rgb(153,153,153)"/>
<rect x="433.00" y="272.40" width="1.60" height="23.00" fill="rgb(38,38,38)"/>
<rect x="436.20" y="272.40" width="0.80" height="23.00" fill="rgb(153,153,153)"/>
<rect x="438.50" y="272.40" width="0.70" height="23.00" fill="rgb(153,153,153)"/>
<rect x="442.30" y="272.40" width="1.10" height="23.00" fill="rgb(76,76,76)"/>
<rect x="444.60" y="272.40" width="1.60" height="23.00" fill="rgb(38,38,38)"/>
<rect x="452.30" y="272.40" width="0.70" height="23.00" fill="rgb(153,153,153)"/>
<rect x="454.60" y="272.40" width="1.10" height="23.00" fill="rgb(140,140,140)"/>
<rect x="457.70" y="272.40" width="0.80" height="23.00" fill="rgb(114,114,114)"/>
<rect x="460.00" y="272.40" width="1.20" height="23.00" fill="rgb(50,50,50)"/>
<rect x="463.00" y="272.40" width="0.80" height="23.00" fill="rgb(153,153,153)"/>
<rect x="465.40" y="272.40" width="1.10" height="23.00" fill="rgb(114,114,114)"/>
<rect x="470.00" y="272.40" width="0.80" height="23.00" fill="rgb(153,153,153)"/>
<rect x="472.30" y="272.40" width="0.70" height="23.00" fill="rgb(153,153,153)"/>
<rect x="474.60" y="272.40" width="1.10" height="23.00" fill="rgb(140,140,140)"/>
<rect x="477.70" y="272.40" width="0.80" height="23.00" fill="rgb(153,153,153)"/>
<rect x="480.80" y="272.40" width="2.60" height="23.00" fill="rgb(63,63,63)"/>
<rect x="485.40" y="272.40" width="0.80" height="23.00" fill="rgb(153,153,153)"/>
<rect x="487.70" y="272.40" width="1.10" height="23.00" fill="rgb(140,140,140)"/>
<rect x="490.80" y="272.40" width="0.70" height="23.00" fill="rgb(153,153,153)"/>
<rect x="494.60" y="272.40" width="2.30" height="23.00" fill="rgb(102,102,102)"/>
<defs><linearGradient id="band" x1="0" y1="0" x2="1" y2="0">
<stop offset="0" stop-color="#e0202e"/><stop offset="0.25" stop-color="#e85070"/>
<stop offset="0.36" stop-color="#ee7896"/><stop offset="0.37" stop-color="#f2b0d2"/>
<stop offset="0.55" stop-color="#eec8e4"/><stop offset="0.56" stop-color="#d8d4f0"/>
<stop offset="0.8" stop-color="#c8c8ec"/><stop offset="0.81" stop-color="#5a5cb8"/>
<stop offset="1" stop-color="#2a2a90"/></linearGradient></defs>
<rect x="346.20" y="295.50" width="150.80" height="5.00" fill="url(#band)"/>
<text x="379.50" y="309.60" font-size="7.4" fill="#c8102e" stroke="#c8102e" stroke-width="0.06" text-anchor="middle" textLength="65.5" lengthAdjust="spacingAndGlyphs">Positively correlated</text>
<text x="461.60" y="309.60" font-size="7.4" fill="#1f5596" stroke="#1f5596" stroke-width="0.06" text-anchor="middle" textLength="69.3" lengthAdjust="spacingAndGlyphs">Negatively correlated</text>
<text x="425.00" y="322.50" font-size="7.4" fill="#231f20" stroke="#231f20" stroke-width="0.06" text-anchor="middle" textLength="173.8" lengthAdjust="spacingAndGlyphs">Distribution of gene set in ranked RNA expression file</text>
<text x="425.00" y="332.60" font-size="7.4" fill="#231f20" stroke="#231f20" stroke-width="0.06" text-anchor="middle" textLength="153.3" lengthAdjust="spacingAndGlyphs">NES: 1.49; P-value: .011; FDR q-value: 0.055</text>
<text x="11.00" y="369.60" font-size="10.5" fill="#000" stroke="#000" stroke-width="0.06" text-anchor="middle" font-weight="bold">E</text>
<line x1="80.00" y1="421.60" x2="80.00" y2="445.00" stroke="#e07088" stroke-width="1.0"/>
<line x1="73.60" y1="421.60" x2="86.30" y2="421.60" stroke="#e07088" stroke-width="1.1"/>
<rect x="67.40" y="445.00" width="25.20" height="82.00" fill="#c41230"/>
<line x1="117.90" y1="475.60" x2="117.90" y2="488.00" stroke="#5e8ebe" stroke-width="1.0"/>
<line x1="111.90" y1="475.60" x2="124.30" y2="475.60" stroke="#5e8ebe" stroke-width="1.1"/>
<rect x="105.20" y="488.00" width="25.40" height="39.00" fill="#134d86"/>
<line x1="156.25" y1="494.80" x2="156.25" y2="506.80" stroke="#7ed08a" stroke-width="1.0"/>
<line x1="149.80" y1="494.80" x2="162.20" y2="494.80" stroke="#7ed08a" stroke-width="1.1"/>
<rect x="143.70" y="506.80" width="25.10" height="20.20" fill="#3ab54a"/>
<line x1="194.15" y1="508.30" x2="194.15" y2="514.80" stroke="#8e62aa" stroke-width="1.0"/>
<line x1="187.70" y1="508.30" x2="200.00" y2="508.30" stroke="#8e62aa" stroke-width="1.1"/>
<rect x="181.50" y="514.80" width="25.30" height="12.20" fill="#5b2a82"/>
<line x1="54.60" y1="379.60" x2="54.60" y2="527.30" stroke="#231f20" stroke-width="1.2"/>
<line x1="54.00" y1="527.00" x2="220.00" y2="527.00" stroke="#231f20" stroke-width="1.2"/>
<line x1="52.00" y1="527.10" x2="54.60" y2="527.10" stroke="#231f20" stroke-width="0.8"/>
<text x="48.80" y="529.80" font-size="7.6" fill="#231f20" stroke="#231f20" stroke-width="0.06" text-anchor="end">0</text>
<line x1="52.00" y1="512.74" x2="54.60" y2="512.74" stroke="#231f20" stroke-width="0.8"/>
<text x="48.80" y="515.44" font-size="7.6" fill="#231f20" stroke="#231f20" stroke-width="0.06" text-anchor="end">10</text>
<line x1="52.00" y1="498.37" x2="54.60" y2="498.37" stroke="#231f20" stroke-width="0.8"/>
<text x="48.80" y="501.07" font-size="7.6" fill="#231f20" stroke="#231f20" stroke-width="0.06" text-anchor="end">20</text>
<line x1="52.00" y1="484.00" x2="54.60" y2="484.00" stroke="#231f20" stroke-width="0.8"/>
<text x="48.80" y="486.70" font-size="7.6" fill="#231f20" stroke="#231f20" stroke-width="0.06" text-anchor="end">30</text>
<line x1="52.00" y1="469.64" x2="54.60" y2="469.64" stroke="#231f20" stroke-width="0.8"/>
<text x="48.80" y="472.34" font-size="7.6" fill="#231f20" stroke="#231f20" stroke-width="0.06" text-anchor="end">40</text>
<line x1="52.00" y1="455.28" x2="54.60" y2="455.28" stroke="#231f20" stroke-width="0.8"/>
<text x="48.80" y="457.98" font-size="7.6" fill="#231f20" stroke="#231f20" stroke-width="0.06" text-anchor="end">50</text>
<line x1="52.00" y1="440.91" x2="54.60" y2="440.91" stroke="#231f20" stroke-width="0.8"/>
<text x="48.80" y="443.61" font-size="7.6" fill="#231f20" stroke="#231f20" stroke-width="0.06" text-anchor="end">60</text>
<line x1="52.00" y1="426.55" x2="54.60" y2="426.55" stroke="#231f20" stroke-width="0.8"/>
<text x="48.80" y="429.25" font-size="7.6" fill="#231f20" stroke="#231f20" stroke-width="0.06" text-anchor="end">70</text>
<line x1="52.00" y1="412.18" x2="54.60" y2="412.18" stroke="#231f20" stroke-width="0.8"/>
<text x="48.80" y="414.88" font-size="7.6" fill="#231f20" stroke="#231f20" stroke-width="0.06" text-anchor="end">80</text>
<line x1="52.00" y1="397.82" x2="54.60" y2="397.82" stroke="#231f20" stroke-width="0.8"/>
<text x="48.80" y="400.52" font-size="7.6" fill="#231f20" stroke="#231f20" stroke-width="0.06" text-anchor="end">90</text>
<line x1="52.00" y1="383.45" x2="54.60" y2="383.45" stroke="#231f20" stroke-width="0.8"/>
<text x="48.80" y="386.15" font-size="7.6" fill="#231f20" stroke="#231f20" stroke-width="0.06" text-anchor="end">100</text>
<text transform="translate(28.3 455.4) rotate(-90)" font-size="8.8" fill="#231f20" stroke="#231f20" stroke-width="0.15" text-anchor="middle" textLength="102.3" lengthAdjust="spacingAndGlyphs">% Colonies of HSC/MPPs plated out</text>
<text x="137.70" y="537.60" font-size="7.5" fill="#231f20" stroke="#231f20" stroke-width="0.06" text-anchor="middle" textLength="45.8" lengthAdjust="spacingAndGlyphs">Total colonies</text>
<text x="137.4" y="550.6" font-size="8.8" fill="#231f20" stroke="#231f20" stroke-width="0.35" text-anchor="middle" textLength="32.9" lengthAdjust="spacingAndGlyphs">PVchron.UT</text>
<line x1="80.00" y1="361.50" x2="193.80" y2="361.50" stroke="#4a4a4a" stroke-width="1.0"/>
<text x="136.90" y="368.90" font-size="6.6" fill="#222" stroke="#222" stroke-width="0.06" text-anchor="middle" font-weight="bold" letter-spacing="0.55">*</text>
<line x1="80.00" y1="373.50" x2="156.00" y2="373.50" stroke="#4a4a4a" stroke-width="1.0"/>
<text x="117.80" y="381.20" font-size="6.6" fill="#222" stroke="#222" stroke-width="0.06" text-anchor="middle" font-weight="bold" letter-spacing="0.55">**</text>
<line x1="80.00" y1="384.50" x2="117.80" y2="384.50" stroke="#4a4a4a" stroke-width="1.0"/>
<text x="99.00" y="392.90" font-size="6.6" fill="#222" stroke="#222" stroke-width="0.06" text-anchor="middle" font-weight="bold" letter-spacing="0.55">*</text>
<line x1="116.90" y1="444.50" x2="193.20" y2="444.50" stroke="#4a4a4a" stroke-width="1.0"/>
<text x="155.40" y="451.20" font-size="6.6" fill="#222" stroke="#222" stroke-width="0.06" text-anchor="middle" font-weight="bold" letter-spacing="0.55">*</text>
<line x1="116.90" y1="456.50" x2="155.40" y2="456.50" stroke="#4a4a4a" stroke-width="1.0"/>
<text x="136.30" y="464.80" font-size="7.2" fill="#231f20" stroke="#231f20" stroke-width="0.06" text-anchor="middle">ns</text>
<line x1="155.40" y1="469.50" x2="193.20" y2="469.50" stroke="#4a4a4a" stroke-width="1.0"/>
<text x="173.80" y="477.10" font-size="7.2" fill="#231f20" stroke="#231f20" stroke-width="0.06" text-anchor="middle">ns</text>
<line x1="281.15" y1="398.40" x2="281.15" y2="423.00" stroke="#e07088" stroke-width="1.0"/>
<line x1="278.00" y1="398.40" x2="284.30" y2="398.40" stroke="#e07088" stroke-width="1.1"/>
<rect x="275.00" y="423.00" width="12.30" height="104.00" fill="#c41230"/>
<line x1="299.40" y1="459.50" x2="299.40" y2="474.70" stroke="#5e8ebe" stroke-width="1.0"/>
<line x1="297.40" y1="459.50" x2="302.40" y2="459.50" stroke="#5e8ebe" stroke-width="1.1"/>
<rect x="292.90" y="474.70" width="13.00" height="52.30" fill="#134d86"/>
<line x1="317.85" y1="476.70" x2="317.85" y2="495.30" stroke="#7ed08a" stroke-width="1.0"/>
<line x1="315.20" y1="476.70" x2="320.70" y2="476.70" stroke="#7ed08a" stroke-width="1.1"/>
<rect x="311.60" y="495.30" width="12.50" height="31.70" fill="#3ab54a"/>
<line x1="336.15" y1="495.90" x2="336.15" y2="507.40" stroke="#8e62aa" stroke-width="1.0"/>
<line x1="332.80" y1="495.90" x2="339.50" y2="495.90" stroke="#8e62aa" stroke-width="1.1"/>
<rect x="329.80" y="507.40" width="12.70" height="19.60" fill="#5b2a82"/>
<line x1="366.35" y1="443.50" x2="366.35" y2="466.40" stroke="#e07088" stroke-width="1.0"/>
<line x1="363.60" y1="443.50" x2="369.60" y2="443.50" stroke="#e07088" stroke-width="1.1"/>
<rect x="360.10" y="466.40" width="12.50" height="60.60" fill="#c41230"/>
<line x1="384.75" y1="488.30" x2="384.75" y2="501.40" stroke="#5e8ebe" stroke-width="1.0"/>
<line x1="381.90" y1="488.30" x2="387.60" y2="488.30" stroke="#5e8ebe" stroke-width="1.1"/>
<rect x="378.60" y="501.40" width="12.30" height="25.60" fill="#134d86"/>
<line x1="403.05" y1="512.80" x2="403.05" y2="517.70" stroke="#7ed08a" stroke-width="1.0"/>
<line x1="400.50" y1="512.80" x2="406.50" y2="512.80" stroke="#7ed08a" stroke-width="1.1"/>
<rect x="396.90" y="517.70" width="12.30" height="9.30" fill="#3ab54a"/>
<line x1="421.55" y1="516.40" x2="421.55" y2="521.80" stroke="#8e62aa" stroke-width="1.0"/>
<line x1="418.20" y1="516.40" x2="424.20" y2="516.40" stroke="#8e62aa" stroke-width="1.1"/>
<rect x="415.40" y="521.80" width="12.30" height="5.20" fill="#5b2a82"/>
<line x1="269.00" y1="379.00" x2="269.00" y2="527.30" stroke="#231f20" stroke-width="1.2"/>
<line x1="268.50" y1="527.00" x2="437.00" y2="527.00" stroke="#231f20" stroke-width="1.2"/>
<line x1="307.90" y1="527.00" x2="307.90" y2="529.50" stroke="#231f20" stroke-width="0.8"/>
<line x1="394.20" y1="527.00" x2="394.20" y2="529.50" stroke="#231f20" stroke-width="0.8"/>
<line x1="266.40" y1="527.20" x2="269.00" y2="527.20" stroke="#231f20" stroke-width="0.8"/>
<text x="263.60" y="529.90" font-size="7.6" fill="#231f20" stroke="#231f20" stroke-width="0.06" text-anchor="end">0</text>
<line x1="266.40" y1="498.46" x2="269.00" y2="498.46" stroke="#231f20" stroke-width="0.8"/>
<text x="263.60" y="501.16" font-size="7.6" fill="#231f20" stroke="#231f20" stroke-width="0.06" text-anchor="end">10</text>
<line x1="266.40" y1="469.72" x2="269.00" y2="469.72" stroke="#231f20" stroke-width="0.8"/>
<text x="263.60" y="472.42" font-size="7.6" fill="#231f20" stroke="#231f20" stroke-width="0.06" text-anchor="end">20</text>
<line x1="266.40" y1="440.98" x2="269.00" y2="440.98" stroke="#231f20" stroke-width="0.8"/>
<text x="263.60" y="443.68" font-size="7.6" fill="#231f20" stroke="#231f20" stroke-width="0.06" text-anchor="end">30</text>
<line x1="266.40" y1="412.24" x2="269.00" y2="412.24" stroke="#231f20" stroke-width="0.8"/>
<text x="263.60" y="414.94" font-size="7.6" fill="#231f20" stroke="#231f20" stroke-width="0.06" text-anchor="end">40</text>
<line x1="266.40" y1="383.50" x2="269.00" y2="383.50" stroke="#231f20" stroke-width="0.8"/>
<text x="263.60" y="386.20" font-size="7.6" fill="#231f20" stroke="#231f20" stroke-width="0.06" text-anchor="end">50</text>
<text transform="translate(248.0 455.3) rotate(-90)" font-size="8.8" fill="#231f20" stroke="#231f20" stroke-width="0.15" text-anchor="middle" textLength="101.8" lengthAdjust="spacingAndGlyphs">% Colonies of HSC/MPPs plated out</text>
<line x1="280.90" y1="361.50" x2="337.70" y2="361.50" stroke="#4a4a4a" stroke-width="1.0"/>
<text x="309.10" y="369.70" font-size="6.6" fill="#222" stroke="#222" stroke-width="0.06" text-anchor="middle" font-weight="bold" letter-spacing="0.55">****</text>
<line x1="280.90" y1="373.50" x2="315.20" y2="373.50" stroke="#4a4a4a" stroke-width="1.0"/>
<text x="297.90" y="381.40" font-size="6.6" fill="#222" stroke="#222" stroke-width="0.06" text-anchor="middle" font-weight="bold" letter-spacing="0.55">****</text>
<line x1="280.90" y1="384.50" x2="299.60" y2="384.50" stroke="#4a4a4a" stroke-width="1.0"/>
<text x="290.10" y="391.80" font-size="6.6" fill="#222" stroke="#222" stroke-width="0.06" text-anchor="middle" font-weight="bold" letter-spacing="0.55">****</text>
<line x1="297.40" y1="426.50" x2="335.90" y2="426.50" stroke="#4a4a4a" stroke-width="1.0"/>
<text x="316.60" y="435.00" font-size="6.6" fill="#222" stroke="#222" stroke-width="0.06" text-anchor="middle" font-weight="bold" letter-spacing="0.55">***</text>
<line x1="297.40" y1="437.50" x2="315.60" y2="437.50" stroke="#4a4a4a" stroke-width="1.0"/>
<text x="306.50" y="445.20" font-size="6.6" fill="#222" stroke="#222" stroke-width="0.06" text-anchor="middle" font-weight="bold" letter-spacing="0.55">**</text>
<line x1="317.20" y1="447.50" x2="335.90" y2="447.50" stroke="#4a4a4a" stroke-width="1.0"/>
<text x="326.10" y="455.70" font-size="7.2" fill="#231f20" stroke="#231f20" stroke-width="0.06" text-anchor="middle">ns</text>
<line x1="368.30" y1="388.50" x2="425.00" y2="388.50" stroke="#4a4a4a" stroke-width="1.0"/>
<text x="396.40" y="396.50" font-size="6.6" fill="#222" stroke="#222" stroke-width="0.06" text-anchor="middle" font-weight="bold" letter-spacing="0.55">****</text>
<line x1="368.30" y1="400.50" x2="402.40" y2="400.50" stroke="#4a4a4a" stroke-width="1.0"/>
<text x="385.50" y="408.80" font-size="6.6" fill="#222" stroke="#222" stroke-width="0.06" text-anchor="middle" font-weight="bold" letter-spacing="0.55">****</text>
<line x1="368.30" y1="411.50" x2="386.80" y2="411.50" stroke="#4a4a4a" stroke-width="1.0"/>
<text x="377.30" y="418.90" font-size="6.6" fill="#222" stroke="#222" stroke-width="0.06" text-anchor="middle" font-weight="bold" letter-spacing="0.55">***</text>
<line x1="385.50" y1="454.50" x2="423.60" y2="454.50" stroke="#4a4a4a" stroke-width="1.0"/>
<text x="404.50" y="462.50" font-size="6.6" fill="#222" stroke="#222" stroke-width="0.06" text-anchor="middle" font-weight="bold" letter-spacing="0.55">**</text>
<line x1="385.50" y1="465.50" x2="403.70" y2="465.50" stroke="#4a4a4a" stroke-width="1.0"/>
<text x="394.20" y="473.40" font-size="6.6" fill="#222" stroke="#222" stroke-width="0.06" text-anchor="middle" font-weight="bold" letter-spacing="0.55">*</text>
<line x1="405.40" y1="475.50" x2="423.60" y2="475.50" stroke="#4a4a4a" stroke-width="1.0"/>
<text x="414.10" y="483.20" font-size="7.2" fill="#231f20" stroke="#231f20" stroke-width="0.06" text-anchor="middle">ns</text>
<text x="307.90" y="538.90" font-size="7.4" fill="#231f20" stroke="#231f20" stroke-width="0.06" text-anchor="middle" textLength="65" lengthAdjust="spacingAndGlyphs">Granulocyte/macro-</text>
<text x="308.20" y="548.60" font-size="7.4" fill="#231f20" stroke="#231f20" stroke-width="0.06" text-anchor="middle" textLength="50.5" lengthAdjust="spacingAndGlyphs">phage colonies</text>
<text x="393.90" y="538.90" font-size="7.4" fill="#231f20" stroke="#231f20" stroke-width="0.06" text-anchor="middle" textLength="29.4" lengthAdjust="spacingAndGlyphs">Erythroid</text>
<text x="393.90" y="548.60" font-size="7.4" fill="#231f20" stroke="#231f20" stroke-width="0.06" text-anchor="middle" textLength="27.4" lengthAdjust="spacingAndGlyphs">colonies</text>
<text x="351.9" y="560.7" font-size="8.8" fill="#231f20" stroke="#231f20" stroke-width="0.35" text-anchor="middle" textLength="31.9" lengthAdjust="spacingAndGlyphs">PVchron.UT</text>
<rect x="436.90" y="381.20" width="5.00" height="5.20" fill="#c41230"/>
<text x="445.90" y="386.30" font-size="7.0" fill="#231f20" stroke="#231f20" stroke-width="0.06">Control</text>
<rect x="436.90" y="390.75" width="5.00" height="5.20" fill="#134d86"/>
<text x="445.90" y="395.85" font-size="7.0" fill="#231f20" stroke="#231f20" stroke-width="0.06">With CLU</text>
<rect x="436.90" y="400.30" width="5.00" height="5.20" fill="#3ab54a"/>
<text x="445.90" y="405.40" font-size="7.0" fill="#231f20" stroke="#231f20" stroke-width="0.06">With IKK-16</text>
<rect x="436.90" y="409.85" width="5.00" height="5.20" fill="#5b2a82"/>
<text x="445.90" y="414.95" font-size="7.0" fill="#231f20" stroke="#231f20" stroke-width="0.06">With IKK-16 and CLU</text>
<rect x="0.5" y="0.5" width="519" height="567" fill="none" stroke="#000" stroke-width="1.2"/>
</svg></body></html>
